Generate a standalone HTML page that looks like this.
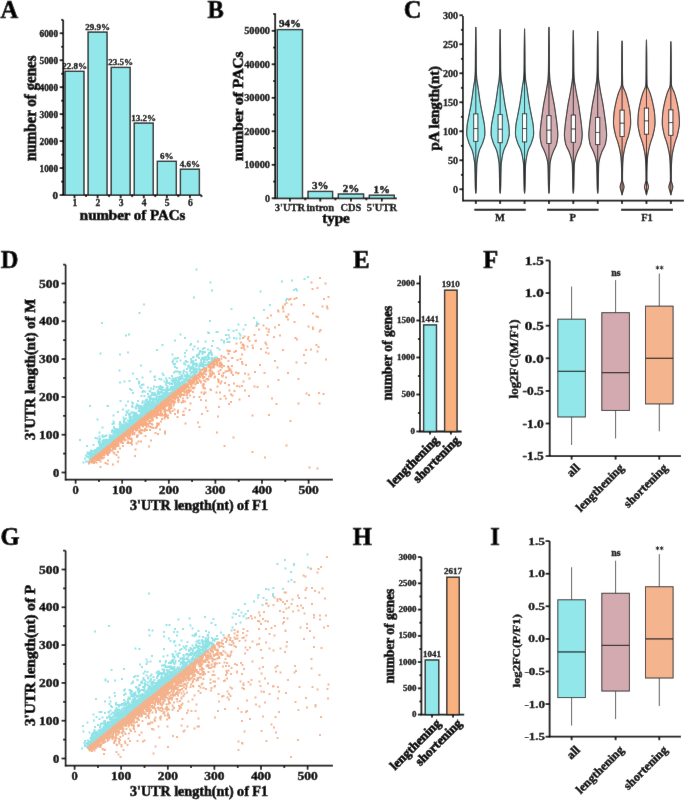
<!DOCTYPE html>
<html><head><meta charset="utf-8"><style>
html,body{margin:0;padding:0;background:#fff;width:685px;height:800px;overflow:hidden}
svg{display:block}
text{font-family:"Liberation Serif",serif;font-weight:bold;fill:#000;stroke:#000;stroke-width:0.65px}

</style></head><body>
<svg width="685" height="800" viewBox="0 0 685 800">
<defs><filter id="bl" x="0" y="0" width="100%" height="100%"><feConvolveMatrix order="3" kernelMatrix="0.005 0.045 0.005 0.045 0.8 0.045 0.005 0.045 0.005" edgeMode="duplicate"/></filter></defs>
<rect width="685" height="800" fill="#fff"/>
<g filter="url(#bl)">
<rect width="685" height="800" fill="#fff"/>
<text x="0.6" y="17.6" font-size="24.5" text-anchor="start">A</text>
<text x="207.5" y="17.6" font-size="24.5" text-anchor="start">B</text>
<text x="403.8" y="17.6" font-size="24.5" text-anchor="start">C</text>
<text x="0.8" y="267.6" font-size="24.5" text-anchor="start">D</text>
<text x="353.2" y="267.6" font-size="24.5" text-anchor="start">E</text>
<text x="483.2" y="267.6" font-size="24.5" text-anchor="start">F</text>
<text x="0.5" y="545.2" font-size="24.5" text-anchor="start">G</text>
<text x="352.8" y="545.4" font-size="24.5" text-anchor="start">H</text>
<text x="490.3" y="545.2" font-size="24.5" text-anchor="start">I</text>
<line x1="63.2" y1="19.8" x2="63.2" y2="195.7" stroke="#050505" stroke-width="1.8"/>
<line x1="62.6" y1="195.1" x2="201.5" y2="195.1" stroke="#050505" stroke-width="1.8"/>
<line x1="59.7" y1="195.1" x2="63.2" y2="195.1" stroke="#050505" stroke-width="1.8"/>
<text x="58" y="198.7" font-size="11" text-anchor="end" style="stroke-width:0.42px">0</text>
<line x1="61.2" y1="181.62" x2="63.2" y2="181.62" stroke="#050505" stroke-width="1.8"/>
<line x1="59.7" y1="168.13" x2="63.2" y2="168.13" stroke="#050505" stroke-width="1.8"/>
<text x="58" y="171.73" font-size="11" text-anchor="end" textLength="18.4" lengthAdjust="spacingAndGlyphs" style="stroke-width:0.42px">1000</text>
<line x1="61.2" y1="154.64" x2="63.2" y2="154.64" stroke="#050505" stroke-width="1.8"/>
<line x1="59.7" y1="141.16" x2="63.2" y2="141.16" stroke="#050505" stroke-width="1.8"/>
<text x="58" y="144.76" font-size="11" text-anchor="end" textLength="18.4" lengthAdjust="spacingAndGlyphs" style="stroke-width:0.42px">2000</text>
<line x1="61.2" y1="127.67" x2="63.2" y2="127.67" stroke="#050505" stroke-width="1.8"/>
<line x1="59.7" y1="114.19" x2="63.2" y2="114.19" stroke="#050505" stroke-width="1.8"/>
<text x="58" y="117.79" font-size="11" text-anchor="end" textLength="18.4" lengthAdjust="spacingAndGlyphs" style="stroke-width:0.42px">3000</text>
<line x1="61.2" y1="100.7" x2="63.2" y2="100.7" stroke="#050505" stroke-width="1.8"/>
<line x1="59.7" y1="87.22" x2="63.2" y2="87.22" stroke="#050505" stroke-width="1.8"/>
<text x="58" y="90.82" font-size="11" text-anchor="end" textLength="18.4" lengthAdjust="spacingAndGlyphs" style="stroke-width:0.42px">4000</text>
<line x1="61.2" y1="73.73" x2="63.2" y2="73.73" stroke="#050505" stroke-width="1.8"/>
<line x1="59.7" y1="60.25" x2="63.2" y2="60.25" stroke="#050505" stroke-width="1.8"/>
<text x="58" y="63.85" font-size="11" text-anchor="end" textLength="18.4" lengthAdjust="spacingAndGlyphs" style="stroke-width:0.42px">5000</text>
<line x1="61.2" y1="46.77" x2="63.2" y2="46.77" stroke="#050505" stroke-width="1.8"/>
<line x1="59.7" y1="33.28" x2="63.2" y2="33.28" stroke="#050505" stroke-width="1.8"/>
<text x="58" y="36.88" font-size="11" text-anchor="end" textLength="18.4" lengthAdjust="spacingAndGlyphs" style="stroke-width:0.42px">6000</text>
<line x1="61.2" y1="19.8" x2="63.2" y2="19.8" stroke="#050505" stroke-width="1.8"/>
<rect x="65" y="71.31" width="19" height="123.79" fill="#91e7e9" stroke="#222" stroke-width="1.4"/>
<text x="74.5" y="69.11" font-size="9" text-anchor="middle" style="stroke-width:0.3px">22.8%</text>
<line x1="74.5" y1="195.1" x2="74.5" y2="198.3" stroke="#050505" stroke-width="1.8"/>
<text x="74.9" y="206.4" font-size="9.6" text-anchor="middle" style="stroke-width:0.3px">1</text>
<line x1="86.05" y1="195.1" x2="86.05" y2="197.1" stroke="#050505" stroke-width="1.8"/>
<rect x="88.08" y="32.09" width="19" height="163.01" fill="#91e7e9" stroke="#222" stroke-width="1.4"/>
<text x="97.58" y="29.89" font-size="9" text-anchor="middle" style="stroke-width:0.3px">29.9%</text>
<line x1="97.58" y1="195.1" x2="97.58" y2="198.3" stroke="#050505" stroke-width="1.8"/>
<text x="97.98" y="206.4" font-size="9.6" text-anchor="middle" style="stroke-width:0.3px">2</text>
<line x1="109.13" y1="195.1" x2="109.13" y2="197.1" stroke="#050505" stroke-width="1.8"/>
<rect x="111.16" y="67.4" width="19" height="127.7" fill="#91e7e9" stroke="#222" stroke-width="1.4"/>
<text x="120.66" y="65.2" font-size="9" text-anchor="middle" style="stroke-width:0.3px">23.5%</text>
<line x1="120.66" y1="195.1" x2="120.66" y2="198.3" stroke="#050505" stroke-width="1.8"/>
<text x="121.06" y="206.4" font-size="9.6" text-anchor="middle" style="stroke-width:0.3px">3</text>
<line x1="132.21" y1="195.1" x2="132.21" y2="197.1" stroke="#050505" stroke-width="1.8"/>
<rect x="134.24" y="123.09" width="19" height="72.01" fill="#91e7e9" stroke="#222" stroke-width="1.4"/>
<text x="143.74" y="120.89" font-size="9" text-anchor="middle" style="stroke-width:0.3px">13.2%</text>
<line x1="143.74" y1="195.1" x2="143.74" y2="198.3" stroke="#050505" stroke-width="1.8"/>
<text x="144.14" y="206.4" font-size="9.6" text-anchor="middle" style="stroke-width:0.3px">4</text>
<line x1="155.29" y1="195.1" x2="155.29" y2="197.1" stroke="#050505" stroke-width="1.8"/>
<rect x="157.32" y="161.31" width="19" height="33.79" fill="#91e7e9" stroke="#222" stroke-width="1.4"/>
<text x="166.82" y="159.11" font-size="9" text-anchor="middle" style="stroke-width:0.3px">6%</text>
<line x1="166.82" y1="195.1" x2="166.82" y2="198.3" stroke="#050505" stroke-width="1.8"/>
<text x="167.22" y="206.4" font-size="9.6" text-anchor="middle" style="stroke-width:0.3px">5</text>
<line x1="178.37" y1="195.1" x2="178.37" y2="197.1" stroke="#050505" stroke-width="1.8"/>
<rect x="180.4" y="169.21" width="19" height="25.89" fill="#91e7e9" stroke="#222" stroke-width="1.4"/>
<text x="189.9" y="167.01" font-size="9" text-anchor="middle" style="stroke-width:0.3px">4.6%</text>
<line x1="189.9" y1="195.1" x2="189.9" y2="198.3" stroke="#050505" stroke-width="1.8"/>
<text x="190.3" y="206.4" font-size="9.6" text-anchor="middle" style="stroke-width:0.3px">6</text>
<line x1="201.45" y1="195.1" x2="201.45" y2="197.1" stroke="#050505" stroke-width="1.8"/>
<text x="132.6" y="219.7" font-size="14" text-anchor="middle" textLength="105.5" lengthAdjust="spacingAndGlyphs">number of PACs</text>
<text x="36.2" y="108.2" font-size="16.5" text-anchor="middle" textLength="105.6" lengthAdjust="spacingAndGlyphs" transform="rotate(-90 36.2 108.2)">number of genes</text>
<line x1="275.2" y1="13.3" x2="275.2" y2="198.9" stroke="#050505" stroke-width="1.8"/>
<line x1="274.6" y1="198.3" x2="396.8" y2="198.3" stroke="#050505" stroke-width="1.8"/>
<line x1="271.7" y1="198.3" x2="275.2" y2="198.3" stroke="#050505" stroke-width="1.8"/>
<text x="270" y="201.6" font-size="10" text-anchor="end" style="stroke-width:0.3px">0</text>
<line x1="273.2" y1="181.55" x2="275.2" y2="181.55" stroke="#050505" stroke-width="1.8"/>
<line x1="271.7" y1="164.8" x2="275.2" y2="164.8" stroke="#050505" stroke-width="1.8"/>
<text x="270" y="168.1" font-size="10" text-anchor="end" textLength="25.8" lengthAdjust="spacingAndGlyphs" style="stroke-width:0.3px">10000</text>
<line x1="273.2" y1="148.05" x2="275.2" y2="148.05" stroke="#050505" stroke-width="1.8"/>
<line x1="271.7" y1="131.3" x2="275.2" y2="131.3" stroke="#050505" stroke-width="1.8"/>
<text x="270" y="134.6" font-size="10" text-anchor="end" textLength="25.8" lengthAdjust="spacingAndGlyphs" style="stroke-width:0.3px">20000</text>
<line x1="273.2" y1="114.55" x2="275.2" y2="114.55" stroke="#050505" stroke-width="1.8"/>
<line x1="271.7" y1="97.8" x2="275.2" y2="97.8" stroke="#050505" stroke-width="1.8"/>
<text x="270" y="101.1" font-size="10" text-anchor="end" textLength="25.8" lengthAdjust="spacingAndGlyphs" style="stroke-width:0.3px">30000</text>
<line x1="273.2" y1="81.05" x2="275.2" y2="81.05" stroke="#050505" stroke-width="1.8"/>
<line x1="271.7" y1="64.3" x2="275.2" y2="64.3" stroke="#050505" stroke-width="1.8"/>
<text x="270" y="67.6" font-size="10" text-anchor="end" textLength="25.8" lengthAdjust="spacingAndGlyphs" style="stroke-width:0.3px">40000</text>
<line x1="273.2" y1="47.55" x2="275.2" y2="47.55" stroke="#050505" stroke-width="1.8"/>
<line x1="271.7" y1="30.8" x2="275.2" y2="30.8" stroke="#050505" stroke-width="1.8"/>
<text x="270" y="34.1" font-size="10" text-anchor="end" textLength="25.8" lengthAdjust="spacingAndGlyphs" style="stroke-width:0.3px">50000</text>
<line x1="273.2" y1="14.05" x2="275.2" y2="14.05" stroke="#050505" stroke-width="1.8"/>
<rect x="277.3" y="29.6" width="25.2" height="168.7" fill="#91e7e9" stroke="#222" stroke-width="1.4"/>
<line x1="289.9" y1="198.3" x2="289.9" y2="201.5" stroke="#050505" stroke-width="1.8"/>
<line x1="305.3" y1="198.3" x2="305.3" y2="200.3" stroke="#050505" stroke-width="1.8"/>
<text x="289.9" y="27.1" font-size="11" text-anchor="middle" style="stroke-width:0.42px">94%</text>
<text x="289.9" y="210.7" font-size="10.5" text-anchor="middle" style="stroke-width:0.3px">3'UTR</text>
<rect x="308" y="191.4" width="24.6" height="6.9" fill="#91e7e9" stroke="#222" stroke-width="1.4"/>
<line x1="320.3" y1="198.3" x2="320.3" y2="201.5" stroke="#050505" stroke-width="1.8"/>
<line x1="335.4" y1="198.3" x2="335.4" y2="200.3" stroke="#050505" stroke-width="1.8"/>
<text x="320.3" y="188.9" font-size="11" text-anchor="middle" style="stroke-width:0.42px">3%</text>
<text x="320.3" y="210.7" font-size="10.5" text-anchor="middle" style="stroke-width:0.3px">intron</text>
<rect x="338.3" y="194" width="25.3" height="4.3" fill="#91e7e9" stroke="#222" stroke-width="1.4"/>
<line x1="350.95" y1="198.3" x2="350.95" y2="201.5" stroke="#050505" stroke-width="1.8"/>
<line x1="366.4" y1="198.3" x2="366.4" y2="200.3" stroke="#050505" stroke-width="1.8"/>
<text x="350.95" y="191.5" font-size="11" text-anchor="middle" style="stroke-width:0.42px">2%</text>
<text x="350.95" y="210.7" font-size="10.5" text-anchor="middle" style="stroke-width:0.3px">CDS</text>
<rect x="369.3" y="195.2" width="25" height="3.1" fill="#91e7e9" stroke="#222" stroke-width="1.4"/>
<line x1="381.8" y1="198.3" x2="381.8" y2="201.5" stroke="#050505" stroke-width="1.8"/>
<text x="381.8" y="192.7" font-size="11" text-anchor="middle" style="stroke-width:0.42px">1%</text>
<text x="381.8" y="210.7" font-size="10.5" text-anchor="middle" style="stroke-width:0.3px">5'UTR</text>
<text x="336" y="222.5" font-size="15" text-anchor="middle">type</text>
<text x="242.7" y="106.2" font-size="14" text-anchor="middle" textLength="109.6" lengthAdjust="spacingAndGlyphs" transform="rotate(-90 242.7 106.2)">number of PACs</text>
<line x1="462.9" y1="16" x2="462.9" y2="201.3" stroke="#050505" stroke-width="1.8"/>
<line x1="462.3" y1="200.7" x2="684" y2="200.7" stroke="#050505" stroke-width="1.8"/>
<line x1="459.4" y1="189.3" x2="462.9" y2="189.3" stroke="#050505" stroke-width="1.8"/>
<text x="457.9" y="192.6" font-size="10" text-anchor="end" style="stroke-width:0.3px">0</text>
<line x1="460.9" y1="174.8" x2="462.9" y2="174.8" stroke="#050505" stroke-width="1.8"/>
<line x1="459.4" y1="160.3" x2="462.9" y2="160.3" stroke="#050505" stroke-width="1.8"/>
<text x="457.9" y="163.6" font-size="10" text-anchor="end" style="stroke-width:0.3px">50</text>
<line x1="460.9" y1="145.8" x2="462.9" y2="145.8" stroke="#050505" stroke-width="1.8"/>
<line x1="459.4" y1="131.3" x2="462.9" y2="131.3" stroke="#050505" stroke-width="1.8"/>
<text x="457.9" y="134.6" font-size="10" text-anchor="end" style="stroke-width:0.3px">100</text>
<line x1="460.9" y1="116.8" x2="462.9" y2="116.8" stroke="#050505" stroke-width="1.8"/>
<line x1="459.4" y1="102.3" x2="462.9" y2="102.3" stroke="#050505" stroke-width="1.8"/>
<text x="457.9" y="105.6" font-size="10" text-anchor="end" style="stroke-width:0.3px">150</text>
<line x1="460.9" y1="87.8" x2="462.9" y2="87.8" stroke="#050505" stroke-width="1.8"/>
<line x1="459.4" y1="73.3" x2="462.9" y2="73.3" stroke="#050505" stroke-width="1.8"/>
<text x="457.9" y="76.6" font-size="10" text-anchor="end" style="stroke-width:0.3px">200</text>
<line x1="460.9" y1="58.8" x2="462.9" y2="58.8" stroke="#050505" stroke-width="1.8"/>
<line x1="459.4" y1="44.3" x2="462.9" y2="44.3" stroke="#050505" stroke-width="1.8"/>
<text x="457.9" y="47.6" font-size="10" text-anchor="end" style="stroke-width:0.3px">250</text>
<line x1="460.9" y1="29.8" x2="462.9" y2="29.8" stroke="#050505" stroke-width="1.8"/>
<line x1="459.4" y1="15.3" x2="462.9" y2="15.3" stroke="#050505" stroke-width="1.8"/>
<text x="457.9" y="18.6" font-size="10" text-anchor="end" style="stroke-width:0.3px">300</text>
<text x="438.7" y="108.2" font-size="14.5" text-anchor="middle" textLength="84.5" lengthAdjust="spacingAndGlyphs" transform="rotate(-90 438.7 108.2)">pA length(nt)</text>
<path d="M475.8 193.36 L475.97 191.96 L476.11 190.56 L476.21 189.16 L476.26 187.76 L476.31 186.37 L476.34 184.97 L476.37 183.57 L476.4 182.17 L476.43 180.77 L476.46 179.37 L476.49 177.97 L476.51 176.57 L476.53 175.18 L476.56 173.78 L476.59 172.38 L476.62 170.98 L476.65 169.58 L476.69 168.18 L476.73 166.78 L476.78 165.38 L476.86 163.98 L477 162.59 L477.19 161.19 L477.41 159.79 L477.63 158.39 L477.87 156.99 L478.12 155.59 L478.41 154.19 L478.73 152.79 L479.1 151.4 L479.54 150 L480.11 148.6 L480.77 147.2 L481.46 145.8 L482.11 144.4 L482.68 143 L483.12 141.6 L483.56 140.2 L483.99 138.81 L484.37 137.41 L484.67 136.01 L484.86 134.61 L484.9 133.21 L484.87 131.81 L484.82 130.41 L484.75 129.01 L484.66 127.62 L484.57 126.22 L484.42 124.82 L484.21 123.42 L483.96 122.02 L483.68 120.62 L483.39 119.22 L483.11 117.82 L482.84 116.42 L482.58 115.03 L482.31 113.63 L482.04 112.23 L481.77 110.83 L481.49 109.43 L481.22 108.03 L480.96 106.63 L480.71 105.23 L480.47 103.84 L480.24 102.44 L480.02 101.04 L479.81 99.64 L479.6 98.24 L479.4 96.84 L479.2 95.44 L479 94.04 L478.8 92.64 L478.62 91.25 L478.43 89.85 L478.24 88.45 L478.04 87.05 L477.84 85.65 L477.6 84.25 L477.34 82.85 L477.1 81.45 L476.9 80.06 L476.76 78.66 L476.66 77.26 L476.56 75.86 L476.47 74.46 L476.4 73.06 L476.34 71.66 L476.31 70.26 L476.29 68.86 L476.27 67.47 L476.26 66.07 L476.24 64.67 L476.23 63.27 L476.22 61.87 L476.22 60.47 L476.21 59.07 L476.2 57.67 L476.19 56.28 L476.19 54.88 L476.18 53.48 L476.17 52.08 L476.16 50.68 L476.14 49.28 L476.13 47.88 L476.11 46.48 L476.09 45.08 L476.08 43.69 L476.06 42.29 L476.04 40.89 L476.02 39.49 L476 38.09 L475.97 36.69 L475.95 35.29 L475.93 33.89 L475.9 32.5 L475.88 31.1 L475.85 29.7 L475.83 28.3 L475.8 26.9 L475.8 26.9 L475.77 28.3 L475.75 29.7 L475.72 31.1 L475.7 32.5 L475.67 33.89 L475.65 35.29 L475.63 36.69 L475.6 38.09 L475.58 39.49 L475.56 40.89 L475.54 42.29 L475.52 43.69 L475.51 45.08 L475.49 46.48 L475.47 47.88 L475.46 49.28 L475.44 50.68 L475.43 52.08 L475.42 53.48 L475.41 54.88 L475.41 56.28 L475.4 57.67 L475.39 59.07 L475.38 60.47 L475.38 61.87 L475.37 63.27 L475.36 64.67 L475.34 66.07 L475.33 67.47 L475.31 68.86 L475.29 70.26 L475.26 71.66 L475.2 73.06 L475.13 74.46 L475.04 75.86 L474.94 77.26 L474.84 78.66 L474.7 80.06 L474.5 81.45 L474.26 82.85 L474 84.25 L473.76 85.65 L473.56 87.05 L473.36 88.45 L473.17 89.85 L472.98 91.25 L472.8 92.64 L472.6 94.04 L472.4 95.44 L472.2 96.84 L472 98.24 L471.79 99.64 L471.58 101.04 L471.36 102.44 L471.13 103.84 L470.89 105.23 L470.64 106.63 L470.38 108.03 L470.11 109.43 L469.83 110.83 L469.56 112.23 L469.29 113.63 L469.02 115.03 L468.76 116.42 L468.49 117.82 L468.21 119.22 L467.92 120.62 L467.64 122.02 L467.39 123.42 L467.18 124.82 L467.03 126.22 L466.94 127.62 L466.85 129.01 L466.78 130.41 L466.73 131.81 L466.7 133.21 L466.74 134.61 L466.93 136.01 L467.23 137.41 L467.61 138.81 L468.04 140.2 L468.48 141.6 L468.92 143 L469.49 144.4 L470.14 145.8 L470.83 147.2 L471.49 148.6 L472.06 150 L472.5 151.4 L472.87 152.79 L473.19 154.19 L473.48 155.59 L473.73 156.99 L473.97 158.39 L474.19 159.79 L474.41 161.19 L474.6 162.59 L474.74 163.98 L474.82 165.38 L474.87 166.78 L474.91 168.18 L474.95 169.58 L474.98 170.98 L475.01 172.38 L475.04 173.78 L475.07 175.18 L475.09 176.57 L475.11 177.97 L475.14 179.37 L475.17 180.77 L475.2 182.17 L475.23 183.57 L475.26 184.97 L475.29 186.37 L475.34 187.76 L475.39 189.16 L475.49 190.56 L475.63 191.96 L475.8 193.36Z" fill="#91e7e9" stroke="#1c2022" stroke-width="1.1"/>
<line x1="475.8" y1="26.9" x2="475.8" y2="193.36" stroke="#1c2022" stroke-width="0.9"/>
<rect x="473.7" y="113.9" width="4.2" height="27.49" fill="#ffffff" stroke="#1c2022" stroke-width="0.9"/>
<line x1="473.7" y1="128.57" x2="477.9" y2="128.57" stroke="#1c2022" stroke-width="0.9"/>
<line x1="475.8" y1="200.7" x2="475.8" y2="204" stroke="#050505" stroke-width="1.8"/>
<path d="M500.18 193.36 L500.35 191.98 L500.49 190.6 L500.58 189.22 L500.64 187.84 L500.68 186.46 L500.72 185.08 L500.75 183.7 L500.78 182.33 L500.81 180.95 L500.84 179.57 L500.86 178.19 L500.89 176.81 L500.91 175.43 L500.93 174.05 L500.96 172.67 L500.99 171.29 L501.02 169.91 L501.06 168.53 L501.09 167.15 L501.14 165.77 L501.21 164.39 L501.33 163.01 L501.51 161.64 L501.71 160.26 L501.93 158.88 L502.16 157.5 L502.4 156.12 L502.67 154.74 L502.98 153.36 L503.32 151.98 L503.71 150.6 L504.22 149.22 L504.84 147.84 L505.51 146.46 L506.18 145.08 L506.79 143.7 L507.28 142.32 L507.7 140.95 L508.14 139.57 L508.55 138.19 L508.89 136.81 L509.15 135.43 L509.27 134.05 L509.27 132.67 L509.24 131.29 L509.18 129.91 L509.1 128.53 L509.01 127.15 L508.91 125.77 L508.74 124.39 L508.52 123.01 L508.27 121.63 L507.99 120.26 L507.7 118.88 L507.42 117.5 L507.16 116.12 L506.91 114.74 L506.64 113.36 L506.37 111.98 L506.1 110.6 L505.83 109.22 L505.57 107.84 L505.31 106.46 L505.06 105.08 L504.82 103.7 L504.6 102.32 L504.39 100.95 L504.18 99.57 L503.97 98.19 L503.77 96.81 L503.58 95.43 L503.38 94.05 L503.19 92.67 L503 91.29 L502.82 89.91 L502.63 88.53 L502.44 87.15 L502.24 85.77 L502 84.39 L501.75 83.01 L501.51 81.63 L501.3 80.26 L501.16 78.88 L501.05 77.5 L500.95 76.12 L500.87 74.74 L500.79 73.36 L500.74 71.98 L500.69 70.6 L500.67 69.22 L500.65 67.84 L500.64 66.46 L500.63 65.08 L500.62 63.7 L500.61 62.32 L500.6 60.94 L500.59 59.57 L500.59 58.19 L500.58 56.81 L500.57 55.43 L500.56 54.05 L500.55 52.67 L500.54 51.29 L500.53 49.91 L500.51 48.53 L500.5 47.15 L500.48 45.77 L500.46 44.39 L500.44 43.01 L500.42 41.63 L500.39 40.25 L500.37 38.88 L500.35 37.5 L500.32 36.12 L500.29 34.74 L500.27 33.36 L500.24 31.98 L500.21 30.6 L500.18 29.22 L500.18 29.22 L500.15 30.6 L500.12 31.98 L500.09 33.36 L500.07 34.74 L500.04 36.12 L500.01 37.5 L499.99 38.88 L499.97 40.25 L499.94 41.63 L499.92 43.01 L499.9 44.39 L499.88 45.77 L499.86 47.15 L499.85 48.53 L499.83 49.91 L499.82 51.29 L499.81 52.67 L499.8 54.05 L499.79 55.43 L499.78 56.81 L499.77 58.19 L499.77 59.57 L499.76 60.94 L499.75 62.32 L499.74 63.7 L499.73 65.08 L499.72 66.46 L499.71 67.84 L499.69 69.22 L499.67 70.6 L499.62 71.98 L499.57 73.36 L499.49 74.74 L499.41 76.12 L499.31 77.5 L499.2 78.88 L499.06 80.26 L498.85 81.63 L498.61 83.01 L498.36 84.39 L498.12 85.77 L497.92 87.15 L497.73 88.53 L497.54 89.91 L497.36 91.29 L497.17 92.67 L496.98 94.05 L496.78 95.43 L496.59 96.81 L496.39 98.19 L496.18 99.57 L495.97 100.95 L495.76 102.32 L495.54 103.7 L495.3 105.08 L495.05 106.46 L494.79 107.84 L494.53 109.22 L494.26 110.6 L493.99 111.98 L493.72 113.36 L493.45 114.74 L493.2 116.12 L492.94 117.5 L492.66 118.88 L492.37 120.26 L492.09 121.63 L491.84 123.01 L491.62 124.39 L491.45 125.77 L491.35 127.15 L491.26 128.53 L491.18 129.91 L491.12 131.29 L491.09 132.67 L491.09 134.05 L491.21 135.43 L491.47 136.81 L491.81 138.19 L492.22 139.57 L492.66 140.95 L493.08 142.32 L493.57 143.7 L494.18 145.08 L494.85 146.46 L495.52 147.84 L496.14 149.22 L496.65 150.6 L497.04 151.98 L497.38 153.36 L497.69 154.74 L497.96 156.12 L498.2 157.5 L498.43 158.88 L498.65 160.26 L498.85 161.64 L499.03 163.01 L499.15 164.39 L499.22 165.77 L499.27 167.15 L499.3 168.53 L499.34 169.91 L499.37 171.29 L499.4 172.67 L499.43 174.05 L499.45 175.43 L499.47 176.81 L499.5 178.19 L499.52 179.57 L499.55 180.95 L499.58 182.33 L499.61 183.7 L499.64 185.08 L499.68 186.46 L499.72 187.84 L499.78 189.22 L499.87 190.6 L500.01 191.98 L500.18 193.36Z" fill="#91e7e9" stroke="#1c2022" stroke-width="1.1"/>
<line x1="500.18" y1="29.22" x2="500.18" y2="193.36" stroke="#1c2022" stroke-width="0.9"/>
<rect x="498.08" y="114.6" width="4.2" height="28.13" fill="#ffffff" stroke="#1c2022" stroke-width="0.9"/>
<line x1="498.08" y1="129.21" x2="502.28" y2="129.21" stroke="#1c2022" stroke-width="0.9"/>
<line x1="500.18" y1="200.7" x2="500.18" y2="204" stroke="#050505" stroke-width="1.8"/>
<path d="M524.56 193.36 L524.73 191.98 L524.87 190.59 L524.96 189.21 L525.02 187.82 L525.06 186.44 L525.1 185.05 L525.13 183.67 L525.16 182.29 L525.19 180.9 L525.22 179.52 L525.24 178.13 L525.27 176.75 L525.29 175.37 L525.32 173.98 L525.34 172.6 L525.38 171.21 L525.41 169.83 L525.44 168.44 L525.48 167.06 L525.53 165.68 L525.6 164.29 L525.73 162.91 L525.9 161.52 L526.11 160.14 L526.33 158.75 L526.56 157.37 L526.81 155.99 L527.08 154.6 L527.39 153.22 L527.74 151.83 L528.14 150.45 L528.67 149.07 L529.3 147.68 L529.98 146.3 L530.64 144.91 L531.24 143.53 L531.71 142.14 L532.14 140.76 L532.58 139.38 L532.98 137.99 L533.32 136.61 L533.55 135.22 L533.66 133.84 L533.65 132.46 L533.61 131.07 L533.54 129.69 L533.47 128.3 L533.38 126.92 L533.26 125.53 L533.08 124.15 L532.86 122.77 L532.6 121.38 L532.32 120 L532.03 118.61 L531.75 117.23 L531.49 115.84 L531.23 114.46 L530.97 113.08 L530.7 111.69 L530.42 110.31 L530.15 108.92 L529.89 107.54 L529.63 106.16 L529.38 104.77 L529.15 103.39 L528.93 102 L528.72 100.62 L528.51 99.23 L528.31 97.85 L528.11 96.47 L527.91 95.08 L527.71 93.7 L527.52 92.31 L527.33 90.93 L527.15 89.54 L526.96 88.16 L526.76 86.78 L526.56 85.39 L526.31 84.01 L526.06 82.62 L525.83 81.24 L525.63 79.86 L525.51 78.47 L525.4 77.09 L525.31 75.7 L525.22 74.32 L525.15 72.93 L525.1 71.55 L525.07 70.17 L525.05 68.78 L525.03 67.4 L525.02 66.01 L525 64.63 L524.99 63.25 L524.98 61.86 L524.98 60.48 L524.97 59.09 L524.96 57.71 L524.96 56.32 L524.95 54.94 L524.94 53.56 L524.93 52.17 L524.92 50.79 L524.9 49.4 L524.89 48.02 L524.87 46.63 L524.85 45.25 L524.83 43.87 L524.81 42.48 L524.79 41.1 L524.77 39.71 L524.75 38.33 L524.72 36.95 L524.7 35.56 L524.67 34.18 L524.64 32.79 L524.62 31.41 L524.59 30.02 L524.56 28.64 L524.56 28.64 L524.53 30.02 L524.5 31.41 L524.48 32.79 L524.45 34.18 L524.42 35.56 L524.4 36.95 L524.37 38.33 L524.35 39.71 L524.33 41.1 L524.31 42.48 L524.29 43.87 L524.27 45.25 L524.25 46.63 L524.23 48.02 L524.22 49.4 L524.2 50.79 L524.19 52.17 L524.18 53.56 L524.17 54.94 L524.16 56.32 L524.16 57.71 L524.15 59.09 L524.14 60.48 L524.14 61.86 L524.13 63.25 L524.12 64.63 L524.1 66.01 L524.09 67.4 L524.07 68.78 L524.05 70.17 L524.02 71.55 L523.97 72.93 L523.9 74.32 L523.81 75.7 L523.72 77.09 L523.61 78.47 L523.49 79.86 L523.29 81.24 L523.06 82.62 L522.81 84.01 L522.56 85.39 L522.36 86.78 L522.16 88.16 L521.97 89.54 L521.79 90.93 L521.6 92.31 L521.41 93.7 L521.21 95.08 L521.01 96.47 L520.81 97.85 L520.61 99.23 L520.4 100.62 L520.19 102 L519.97 103.39 L519.74 104.77 L519.49 106.16 L519.23 107.54 L518.97 108.92 L518.7 110.31 L518.42 111.69 L518.15 113.08 L517.89 114.46 L517.63 115.84 L517.37 117.23 L517.09 118.61 L516.8 120 L516.52 121.38 L516.26 122.77 L516.04 124.15 L515.86 125.53 L515.74 126.92 L515.65 128.3 L515.58 129.69 L515.51 131.07 L515.47 132.46 L515.46 133.84 L515.57 135.22 L515.8 136.61 L516.14 137.99 L516.54 139.38 L516.98 140.76 L517.41 142.14 L517.88 143.53 L518.48 144.91 L519.14 146.3 L519.82 147.68 L520.45 149.07 L520.98 150.45 L521.38 151.83 L521.73 153.22 L522.04 154.6 L522.31 155.99 L522.56 157.37 L522.79 158.75 L523.01 160.14 L523.22 161.52 L523.39 162.91 L523.52 164.29 L523.59 165.68 L523.64 167.06 L523.68 168.44 L523.71 169.83 L523.74 171.21 L523.78 172.6 L523.8 173.98 L523.83 175.37 L523.85 176.75 L523.88 178.13 L523.9 179.52 L523.93 180.9 L523.96 182.29 L523.99 183.67 L524.02 185.05 L524.06 186.44 L524.1 187.82 L524.16 189.21 L524.25 190.59 L524.39 191.98 L524.56 193.36Z" fill="#91e7e9" stroke="#1c2022" stroke-width="1.1"/>
<line x1="524.56" y1="28.64" x2="524.56" y2="193.36" stroke="#1c2022" stroke-width="0.9"/>
<rect x="522.46" y="113.78" width="4.2" height="28.13" fill="#ffffff" stroke="#1c2022" stroke-width="0.9"/>
<line x1="522.46" y1="128.57" x2="526.66" y2="128.57" stroke="#1c2022" stroke-width="0.9"/>
<line x1="524.56" y1="200.7" x2="524.56" y2="204" stroke="#050505" stroke-width="1.8"/>
<path d="M548.94 193.36 L549.11 191.96 L549.25 190.56 L549.35 189.16 L549.4 187.76 L549.45 186.37 L549.48 184.97 L549.51 183.57 L549.54 182.17 L549.57 180.77 L549.6 179.37 L549.63 177.97 L549.65 176.57 L549.67 175.18 L549.7 173.78 L549.73 172.38 L549.76 170.98 L549.79 169.58 L549.82 168.18 L549.86 166.78 L549.92 165.38 L550.01 163.98 L550.19 162.59 L550.43 161.19 L550.71 159.79 L551.01 158.39 L551.39 156.99 L551.83 155.59 L552.31 154.19 L552.82 152.79 L553.35 151.4 L553.98 150 L554.68 148.6 L555.38 147.2 L556.01 145.8 L556.51 144.4 L556.83 143 L557.1 141.6 L557.34 140.2 L557.55 138.81 L557.71 137.41 L557.81 136.01 L557.84 134.61 L557.8 133.21 L557.72 131.81 L557.61 130.41 L557.47 129.01 L557.33 127.62 L557.2 126.22 L557.06 124.82 L556.9 123.42 L556.73 122.02 L556.55 120.62 L556.36 119.22 L556.16 117.82 L555.96 116.42 L555.76 115.03 L555.56 113.63 L555.37 112.23 L555.17 110.83 L554.97 109.43 L554.77 108.03 L554.56 106.63 L554.34 105.23 L554.11 103.84 L553.85 102.44 L553.58 101.04 L553.3 99.64 L553.02 98.24 L552.74 96.84 L552.47 95.44 L552.21 94.04 L551.96 92.64 L551.71 91.25 L551.46 89.85 L551.23 88.45 L551 87.05 L550.77 85.65 L550.54 84.25 L550.31 82.85 L550.09 81.45 L549.92 80.06 L549.81 78.66 L549.72 77.26 L549.64 75.86 L549.58 74.46 L549.52 73.06 L549.48 71.66 L549.45 70.26 L549.43 68.86 L549.41 67.47 L549.4 66.07 L549.38 64.67 L549.37 63.27 L549.37 61.87 L549.36 60.47 L549.35 59.07 L549.34 57.67 L549.34 56.28 L549.33 54.88 L549.32 53.48 L549.31 52.08 L549.3 50.68 L549.28 49.28 L549.27 47.88 L549.25 46.48 L549.23 45.08 L549.22 43.69 L549.2 42.29 L549.18 40.89 L549.16 39.49 L549.14 38.09 L549.11 36.69 L549.09 35.29 L549.07 33.89 L549.04 32.5 L549.02 31.1 L548.99 29.7 L548.97 28.3 L548.94 26.9 L548.94 26.9 L548.91 28.3 L548.89 29.7 L548.86 31.1 L548.84 32.5 L548.81 33.89 L548.79 35.29 L548.77 36.69 L548.74 38.09 L548.72 39.49 L548.7 40.89 L548.68 42.29 L548.66 43.69 L548.65 45.08 L548.63 46.48 L548.61 47.88 L548.6 49.28 L548.58 50.68 L548.57 52.08 L548.56 53.48 L548.55 54.88 L548.54 56.28 L548.54 57.67 L548.53 59.07 L548.52 60.47 L548.51 61.87 L548.51 63.27 L548.5 64.67 L548.48 66.07 L548.47 67.47 L548.45 68.86 L548.43 70.26 L548.4 71.66 L548.36 73.06 L548.3 74.46 L548.24 75.86 L548.16 77.26 L548.07 78.66 L547.96 80.06 L547.79 81.45 L547.57 82.85 L547.34 84.25 L547.11 85.65 L546.88 87.05 L546.65 88.45 L546.42 89.85 L546.17 91.25 L545.92 92.64 L545.67 94.04 L545.41 95.44 L545.14 96.84 L544.86 98.24 L544.58 99.64 L544.3 101.04 L544.03 102.44 L543.77 103.84 L543.54 105.23 L543.32 106.63 L543.11 108.03 L542.91 109.43 L542.71 110.83 L542.51 112.23 L542.32 113.63 L542.12 115.03 L541.92 116.42 L541.72 117.82 L541.52 119.22 L541.33 120.62 L541.15 122.02 L540.98 123.42 L540.82 124.82 L540.68 126.22 L540.55 127.62 L540.41 129.01 L540.27 130.41 L540.16 131.81 L540.08 133.21 L540.04 134.61 L540.07 136.01 L540.17 137.41 L540.33 138.81 L540.54 140.2 L540.78 141.6 L541.05 143 L541.37 144.4 L541.87 145.8 L542.5 147.2 L543.2 148.6 L543.9 150 L544.53 151.4 L545.06 152.79 L545.57 154.19 L546.05 155.59 L546.49 156.99 L546.87 158.39 L547.17 159.79 L547.45 161.19 L547.69 162.59 L547.87 163.98 L547.96 165.38 L548.02 166.78 L548.06 168.18 L548.09 169.58 L548.12 170.98 L548.15 172.38 L548.18 173.78 L548.21 175.18 L548.23 176.57 L548.25 177.97 L548.28 179.37 L548.31 180.77 L548.34 182.17 L548.37 183.57 L548.4 184.97 L548.43 186.37 L548.48 187.76 L548.53 189.16 L548.63 190.56 L548.77 191.96 L548.94 193.36Z" fill="#d3aaaf" stroke="#1c2022" stroke-width="1.1"/>
<line x1="548.94" y1="26.9" x2="548.94" y2="193.36" stroke="#1c2022" stroke-width="0.9"/>
<rect x="546.84" y="115.64" width="4.2" height="27.84" fill="#ffffff" stroke="#1c2022" stroke-width="0.9"/>
<line x1="546.84" y1="130.14" x2="551.04" y2="130.14" stroke="#1c2022" stroke-width="0.9"/>
<line x1="548.94" y1="200.7" x2="548.94" y2="204" stroke="#050505" stroke-width="1.8"/>
<path d="M573.32 193.36 L573.49 191.99 L573.63 190.62 L573.72 189.25 L573.78 187.88 L573.82 186.51 L573.86 185.14 L573.89 183.77 L573.92 182.4 L573.95 181.03 L573.98 179.66 L574 178.29 L574.02 176.93 L574.05 175.56 L574.07 174.19 L574.1 172.82 L574.13 171.45 L574.16 170.08 L574.19 168.71 L574.23 167.34 L574.27 165.97 L574.34 164.6 L574.48 163.23 L574.69 161.86 L574.94 160.49 L575.22 159.12 L575.55 157.75 L575.95 156.38 L576.41 155.01 L576.89 153.64 L577.39 152.27 L577.94 150.9 L578.59 149.53 L579.28 148.16 L579.95 146.79 L580.54 145.42 L580.99 144.06 L581.27 142.69 L581.53 141.32 L581.76 139.95 L581.96 138.58 L582.11 137.21 L582.2 135.84 L582.22 134.47 L582.18 133.1 L582.1 131.73 L581.98 130.36 L581.85 128.99 L581.71 127.62 L581.58 126.25 L581.44 124.88 L581.29 123.51 L581.12 122.14 L580.95 120.77 L580.76 119.4 L580.57 118.03 L580.38 116.66 L580.18 115.29 L579.99 113.92 L579.79 112.55 L579.6 111.19 L579.41 109.82 L579.21 108.45 L579.01 107.08 L578.79 105.71 L578.57 104.34 L578.33 102.97 L578.07 101.6 L577.8 100.23 L577.53 98.86 L577.25 97.49 L576.98 96.12 L576.72 94.75 L576.47 93.38 L576.22 92.01 L575.98 90.64 L575.75 89.27 L575.52 87.9 L575.29 86.53 L575.08 85.16 L574.84 83.79 L574.62 82.42 L574.42 81.05 L574.27 79.68 L574.17 78.32 L574.08 76.95 L574.01 75.58 L573.95 74.21 L573.89 72.84 L573.85 71.47 L573.82 70.1 L573.81 68.73 L573.79 67.36 L573.78 65.99 L573.77 64.62 L573.76 63.25 L573.75 61.88 L573.74 60.51 L573.73 59.14 L573.73 57.77 L573.72 56.4 L573.71 55.03 L573.7 53.66 L573.69 52.29 L573.68 50.92 L573.66 49.55 L573.65 48.18 L573.63 46.81 L573.61 45.45 L573.59 44.08 L573.57 42.71 L573.54 41.34 L573.52 39.97 L573.49 38.6 L573.47 37.23 L573.44 35.86 L573.41 34.49 L573.38 33.12 L573.35 31.75 L573.32 30.38 L573.32 30.38 L573.29 31.75 L573.26 33.12 L573.23 34.49 L573.2 35.86 L573.17 37.23 L573.15 38.6 L573.12 39.97 L573.1 41.34 L573.07 42.71 L573.05 44.08 L573.03 45.45 L573.01 46.81 L572.99 48.18 L572.98 49.55 L572.96 50.92 L572.95 52.29 L572.94 53.66 L572.93 55.03 L572.92 56.4 L572.91 57.77 L572.91 59.14 L572.9 60.51 L572.89 61.88 L572.88 63.25 L572.87 64.62 L572.86 65.99 L572.85 67.36 L572.83 68.73 L572.82 70.1 L572.79 71.47 L572.75 72.84 L572.69 74.21 L572.63 75.58 L572.56 76.95 L572.47 78.32 L572.37 79.68 L572.22 81.05 L572.02 82.42 L571.8 83.79 L571.56 85.16 L571.35 86.53 L571.12 87.9 L570.89 89.27 L570.66 90.64 L570.42 92.01 L570.17 93.38 L569.92 94.75 L569.66 96.12 L569.39 97.49 L569.11 98.86 L568.84 100.23 L568.57 101.6 L568.31 102.97 L568.07 104.34 L567.85 105.71 L567.63 107.08 L567.43 108.45 L567.23 109.82 L567.04 111.19 L566.85 112.55 L566.65 113.92 L566.46 115.29 L566.26 116.66 L566.07 118.03 L565.88 119.4 L565.69 120.77 L565.52 122.14 L565.35 123.51 L565.2 124.88 L565.06 126.25 L564.93 127.62 L564.79 128.99 L564.66 130.36 L564.54 131.73 L564.46 133.1 L564.42 134.47 L564.44 135.84 L564.53 137.21 L564.68 138.58 L564.88 139.95 L565.11 141.32 L565.37 142.69 L565.65 144.06 L566.1 145.42 L566.69 146.79 L567.36 148.16 L568.05 149.53 L568.7 150.9 L569.25 152.27 L569.75 153.64 L570.23 155.01 L570.69 156.38 L571.09 157.75 L571.42 159.12 L571.7 160.49 L571.95 161.86 L572.16 163.23 L572.3 164.6 L572.37 165.97 L572.41 167.34 L572.45 168.71 L572.48 170.08 L572.51 171.45 L572.54 172.82 L572.57 174.19 L572.59 175.56 L572.62 176.93 L572.64 178.29 L572.66 179.66 L572.69 181.03 L572.72 182.4 L572.75 183.77 L572.78 185.14 L572.82 186.51 L572.86 187.88 L572.92 189.25 L573.01 190.62 L573.15 191.99 L573.32 193.36Z" fill="#d3aaaf" stroke="#1c2022" stroke-width="1.1"/>
<line x1="573.32" y1="30.38" x2="573.32" y2="193.36" stroke="#1c2022" stroke-width="0.9"/>
<rect x="571.22" y="115.06" width="4.2" height="27.26" fill="#ffffff" stroke="#1c2022" stroke-width="0.9"/>
<line x1="571.22" y1="128.98" x2="575.42" y2="128.98" stroke="#1c2022" stroke-width="0.9"/>
<line x1="573.32" y1="200.7" x2="573.32" y2="204" stroke="#050505" stroke-width="1.8"/>
<path d="M597.7 193.36 L597.87 192 L598.01 190.63 L598.1 189.27 L598.16 187.9 L598.2 186.54 L598.24 185.17 L598.27 183.81 L598.3 182.44 L598.33 181.08 L598.35 179.71 L598.38 178.35 L598.4 176.98 L598.43 175.62 L598.45 174.25 L598.48 172.89 L598.51 171.52 L598.54 170.16 L598.57 168.8 L598.6 167.43 L598.65 166.07 L598.71 164.7 L598.84 163.34 L599.05 161.97 L599.3 160.61 L599.58 159.24 L599.9 157.88 L600.29 156.51 L600.74 155.15 L601.22 153.78 L601.71 152.42 L602.25 151.05 L602.89 149.69 L603.58 148.32 L604.25 146.96 L604.85 145.6 L605.32 144.23 L605.62 142.87 L605.88 141.5 L606.11 140.14 L606.31 138.77 L606.47 137.41 L606.57 136.04 L606.6 134.68 L606.57 133.31 L606.49 131.95 L606.38 130.58 L606.25 129.22 L606.11 127.85 L605.98 126.49 L605.85 125.12 L605.7 123.76 L605.53 122.4 L605.36 121.03 L605.18 119.67 L604.99 118.3 L604.8 116.94 L604.6 115.57 L604.41 114.21 L604.21 112.84 L604.02 111.48 L603.83 110.11 L603.63 108.75 L603.43 107.38 L603.22 106.02 L603 104.65 L602.77 103.29 L602.52 101.92 L602.25 100.56 L601.97 99.2 L601.7 97.83 L601.42 96.47 L601.16 95.1 L600.91 93.74 L600.67 92.37 L600.43 91.01 L600.19 89.64 L599.96 88.28 L599.74 86.91 L599.52 85.55 L599.29 84.18 L599.06 82.82 L598.85 81.45 L598.69 80.09 L598.57 78.72 L598.49 77.36 L598.41 76 L598.35 74.63 L598.29 73.27 L598.24 71.9 L598.21 70.54 L598.19 69.17 L598.17 67.81 L598.16 66.44 L598.15 65.08 L598.14 63.71 L598.13 62.35 L598.12 60.98 L598.11 59.62 L598.11 58.25 L598.1 56.89 L598.09 55.52 L598.08 54.16 L598.07 52.8 L598.06 51.43 L598.05 50.07 L598.03 48.7 L598.02 47.34 L598 45.97 L597.98 44.61 L597.95 43.24 L597.93 41.88 L597.91 40.51 L597.88 39.15 L597.85 37.78 L597.82 36.42 L597.79 35.05 L597.76 33.69 L597.73 32.32 L597.7 30.96 L597.7 30.96 L597.67 32.32 L597.64 33.69 L597.61 35.05 L597.58 36.42 L597.55 37.78 L597.52 39.15 L597.49 40.51 L597.47 41.88 L597.45 43.24 L597.42 44.61 L597.4 45.97 L597.38 47.34 L597.37 48.7 L597.35 50.07 L597.34 51.43 L597.33 52.8 L597.32 54.16 L597.31 55.52 L597.3 56.89 L597.29 58.25 L597.29 59.62 L597.28 60.98 L597.27 62.35 L597.26 63.71 L597.25 65.08 L597.24 66.44 L597.23 67.81 L597.21 69.17 L597.19 70.54 L597.16 71.9 L597.11 73.27 L597.05 74.63 L596.99 76 L596.91 77.36 L596.83 78.72 L596.71 80.09 L596.55 81.45 L596.34 82.82 L596.11 84.18 L595.88 85.55 L595.66 86.91 L595.44 88.28 L595.21 89.64 L594.97 91.01 L594.73 92.37 L594.49 93.74 L594.24 95.1 L593.98 96.47 L593.7 97.83 L593.43 99.2 L593.15 100.56 L592.88 101.92 L592.63 103.29 L592.4 104.65 L592.18 106.02 L591.97 107.38 L591.77 108.75 L591.57 110.11 L591.38 111.48 L591.19 112.84 L590.99 114.21 L590.8 115.57 L590.6 116.94 L590.41 118.3 L590.22 119.67 L590.04 121.03 L589.87 122.4 L589.7 123.76 L589.55 125.12 L589.42 126.49 L589.29 127.85 L589.15 129.22 L589.02 130.58 L588.91 131.95 L588.83 133.31 L588.8 134.68 L588.83 136.04 L588.93 137.41 L589.09 138.77 L589.29 140.14 L589.52 141.5 L589.78 142.87 L590.08 144.23 L590.55 145.6 L591.15 146.96 L591.82 148.32 L592.51 149.69 L593.15 151.05 L593.69 152.42 L594.18 153.78 L594.66 155.15 L595.11 156.51 L595.5 157.88 L595.82 159.24 L596.1 160.61 L596.35 161.97 L596.56 163.34 L596.69 164.7 L596.75 166.07 L596.8 167.43 L596.83 168.8 L596.86 170.16 L596.89 171.52 L596.92 172.89 L596.95 174.25 L596.97 175.62 L597 176.98 L597.02 178.35 L597.05 179.71 L597.07 181.08 L597.1 182.44 L597.13 183.81 L597.16 185.17 L597.2 186.54 L597.24 187.9 L597.3 189.27 L597.39 190.63 L597.53 192 L597.7 193.36Z" fill="#d3aaaf" stroke="#1c2022" stroke-width="1.1"/>
<line x1="597.7" y1="30.96" x2="597.7" y2="193.36" stroke="#1c2022" stroke-width="0.9"/>
<rect x="595.6" y="117.38" width="4.2" height="27.26" fill="#ffffff" stroke="#1c2022" stroke-width="0.9"/>
<line x1="595.6" y1="132.46" x2="599.8" y2="132.46" stroke="#1c2022" stroke-width="0.9"/>
<line x1="597.7" y1="200.7" x2="597.7" y2="204" stroke="#050505" stroke-width="1.8"/>
<path d="M622.08 195.1 L622.35 193.8 L622.65 192.51 L623 191.21 L623.41 189.91 L623.77 188.62 L624.06 187.32 L623.98 186.02 L623.65 184.73 L623.29 183.43 L622.83 182.14 L622.54 180.84 L622.53 179.54 L622.53 178.25 L622.53 176.95 L622.53 175.65 L622.54 174.36 L622.55 173.06 L622.57 171.76 L622.6 170.47 L622.62 169.17 L622.65 167.87 L622.68 166.58 L622.72 165.28 L622.77 163.98 L622.83 162.69 L622.9 161.39 L622.98 160.1 L623.07 158.8 L623.17 157.5 L623.3 156.21 L623.48 154.91 L623.69 153.61 L623.92 152.32 L624.17 151.02 L624.42 149.72 L624.7 148.43 L625.01 147.13 L625.33 145.83 L625.67 144.54 L626.02 143.24 L626.39 141.94 L626.8 140.65 L627.25 139.35 L627.72 138.06 L628.17 136.76 L628.57 135.46 L628.89 134.17 L629.17 132.87 L629.45 131.57 L629.73 130.28 L629.98 128.98 L630.21 127.68 L630.41 126.39 L630.56 125.09 L630.65 123.79 L630.68 122.5 L630.66 121.2 L630.62 119.9 L630.56 118.61 L630.48 117.31 L630.39 116.02 L630.3 114.72 L630.19 113.42 L630.04 112.13 L629.87 110.83 L629.66 109.53 L629.43 108.24 L629.18 106.94 L628.92 105.64 L628.64 104.35 L628.37 103.05 L628.09 101.75 L627.79 100.46 L627.47 99.16 L627.13 97.86 L626.76 96.57 L626.38 95.27 L625.99 93.98 L625.57 92.68 L625.04 91.38 L624.47 90.09 L623.9 88.79 L623.38 87.49 L622.97 86.2 L622.72 84.9 L622.66 83.6 L622.62 82.31 L622.59 81.01 L622.56 79.71 L622.54 78.42 L622.52 77.12 L622.5 75.82 L622.49 74.53 L622.48 73.23 L622.47 71.94 L622.46 70.64 L622.45 69.34 L622.44 68.05 L622.44 66.75 L622.43 65.45 L622.43 64.16 L622.42 62.86 L622.42 61.56 L622.41 60.27 L622.4 58.97 L622.39 57.67 L622.38 56.38 L622.37 55.08 L622.36 53.78 L622.34 52.49 L622.32 51.19 L622.29 49.9 L622.27 48.6 L622.24 47.3 L622.21 46.01 L622.18 44.71 L622.15 43.41 L622.11 42.12 L622.08 40.82 L622.08 40.82 L622.05 42.12 L622.01 43.41 L621.98 44.71 L621.95 46.01 L621.92 47.3 L621.89 48.6 L621.87 49.9 L621.84 51.19 L621.82 52.49 L621.8 53.78 L621.79 55.08 L621.78 56.38 L621.77 57.67 L621.76 58.97 L621.75 60.27 L621.74 61.56 L621.74 62.86 L621.73 64.16 L621.73 65.45 L621.72 66.75 L621.72 68.05 L621.71 69.34 L621.7 70.64 L621.69 71.94 L621.68 73.23 L621.67 74.53 L621.66 75.82 L621.64 77.12 L621.62 78.42 L621.6 79.71 L621.57 81.01 L621.54 82.31 L621.5 83.6 L621.44 84.9 L621.19 86.2 L620.78 87.49 L620.26 88.79 L619.69 90.09 L619.12 91.38 L618.59 92.68 L618.17 93.98 L617.78 95.27 L617.4 96.57 L617.03 97.86 L616.69 99.16 L616.37 100.46 L616.07 101.75 L615.79 103.05 L615.52 104.35 L615.24 105.64 L614.98 106.94 L614.73 108.24 L614.5 109.53 L614.29 110.83 L614.12 112.13 L613.97 113.42 L613.86 114.72 L613.77 116.02 L613.68 117.31 L613.6 118.61 L613.54 119.9 L613.5 121.2 L613.48 122.5 L613.51 123.79 L613.6 125.09 L613.75 126.39 L613.95 127.68 L614.18 128.98 L614.43 130.28 L614.71 131.57 L614.99 132.87 L615.27 134.17 L615.59 135.46 L615.99 136.76 L616.44 138.06 L616.91 139.35 L617.36 140.65 L617.77 141.94 L618.14 143.24 L618.49 144.54 L618.83 145.83 L619.15 147.13 L619.46 148.43 L619.74 149.72 L619.99 151.02 L620.24 152.32 L620.47 153.61 L620.68 154.91 L620.86 156.21 L620.99 157.5 L621.09 158.8 L621.18 160.1 L621.26 161.39 L621.33 162.69 L621.39 163.98 L621.44 165.28 L621.48 166.58 L621.51 167.87 L621.54 169.17 L621.56 170.47 L621.59 171.76 L621.61 173.06 L621.62 174.36 L621.63 175.65 L621.63 176.95 L621.63 178.25 L621.63 179.54 L621.62 180.84 L621.33 182.14 L620.87 183.43 L620.51 184.73 L620.18 186.02 L620.1 187.32 L620.39 188.62 L620.75 189.91 L621.16 191.21 L621.51 192.51 L621.81 193.8 L622.08 195.1Z" fill="#f6ae97" stroke="#1c2022" stroke-width="1.1"/>
<line x1="622.08" y1="40.82" x2="622.08" y2="195.1" stroke="#1c2022" stroke-width="0.9"/>
<rect x="619.98" y="110.13" width="4.2" height="26.39" fill="#ffffff" stroke="#1c2022" stroke-width="0.9"/>
<line x1="619.98" y1="123.18" x2="624.18" y2="123.18" stroke="#1c2022" stroke-width="0.9"/>
<line x1="622.08" y1="200.7" x2="622.08" y2="204" stroke="#050505" stroke-width="1.8"/>
<path d="M646.46 195.1 L646.73 193.79 L647.04 192.49 L647.38 191.18 L647.8 189.88 L648.16 188.57 L648.45 187.26 L648.34 185.96 L648.01 184.65 L647.64 183.34 L647.18 182.04 L646.91 180.73 L646.91 179.43 L646.91 178.12 L646.91 176.81 L646.91 175.51 L646.92 174.2 L646.94 172.89 L646.96 171.59 L646.98 170.28 L647.01 168.98 L647.04 167.67 L647.07 166.36 L647.11 165.06 L647.16 163.75 L647.22 162.44 L647.29 161.14 L647.38 159.83 L647.47 158.53 L647.58 157.22 L647.72 155.91 L647.9 154.61 L648.12 153.3 L648.36 151.99 L648.61 150.69 L648.87 149.38 L649.16 148.08 L649.47 146.77 L649.81 145.46 L650.15 144.16 L650.51 142.85 L650.89 141.55 L651.32 140.24 L651.78 138.93 L652.25 137.63 L652.69 136.32 L653.07 135.01 L653.37 133.71 L653.65 132.4 L653.93 131.1 L654.2 129.79 L654.45 128.48 L654.67 127.18 L654.85 125.87 L654.98 124.56 L655.05 123.26 L655.06 121.95 L655.03 120.65 L654.98 119.34 L654.91 118.03 L654.82 116.73 L654.73 115.42 L654.63 114.11 L654.5 112.81 L654.34 111.5 L654.15 110.2 L653.93 108.89 L653.69 107.58 L653.43 106.28 L653.16 104.97 L652.88 103.66 L652.6 102.36 L652.31 101.05 L652 99.75 L651.66 98.44 L651.3 97.13 L650.93 95.83 L650.54 94.52 L650.14 93.21 L649.65 91.91 L649.08 90.6 L648.5 89.3 L647.95 87.99 L647.49 86.68 L647.17 85.38 L647.05 84.07 L647.01 82.77 L646.98 81.46 L646.95 80.15 L646.92 78.85 L646.91 77.54 L646.89 76.23 L646.88 74.93 L646.86 73.62 L646.85 72.32 L646.84 71.01 L646.83 69.7 L646.83 68.4 L646.82 67.09 L646.81 65.78 L646.81 64.48 L646.8 63.17 L646.8 61.87 L646.79 60.56 L646.78 59.25 L646.78 57.95 L646.77 56.64 L646.75 55.33 L646.74 54.03 L646.72 52.72 L646.71 51.42 L646.68 50.11 L646.66 48.8 L646.64 47.5 L646.61 46.19 L646.58 44.88 L646.55 43.58 L646.52 42.27 L646.49 40.97 L646.46 39.66 L646.46 39.66 L646.43 40.97 L646.4 42.27 L646.37 43.58 L646.34 44.88 L646.31 46.19 L646.28 47.5 L646.26 48.8 L646.24 50.11 L646.21 51.42 L646.2 52.72 L646.18 54.03 L646.17 55.33 L646.15 56.64 L646.14 57.95 L646.14 59.25 L646.13 60.56 L646.12 61.87 L646.12 63.17 L646.11 64.48 L646.11 65.78 L646.1 67.09 L646.09 68.4 L646.09 69.7 L646.08 71.01 L646.07 72.32 L646.06 73.62 L646.04 74.93 L646.03 76.23 L646.01 77.54 L646 78.85 L645.97 80.15 L645.94 81.46 L645.91 82.77 L645.87 84.07 L645.75 85.38 L645.43 86.68 L644.97 87.99 L644.42 89.3 L643.84 90.6 L643.27 91.91 L642.78 93.21 L642.38 94.52 L641.99 95.83 L641.62 97.13 L641.26 98.44 L640.92 99.75 L640.61 101.05 L640.32 102.36 L640.04 103.66 L639.76 104.97 L639.49 106.28 L639.23 107.58 L638.99 108.89 L638.77 110.2 L638.58 111.5 L638.42 112.81 L638.29 114.11 L638.19 115.42 L638.1 116.73 L638.01 118.03 L637.94 119.34 L637.89 120.65 L637.86 121.95 L637.87 123.26 L637.94 124.56 L638.07 125.87 L638.25 127.18 L638.47 128.48 L638.72 129.79 L638.99 131.1 L639.27 132.4 L639.55 133.71 L639.85 135.01 L640.23 136.32 L640.67 137.63 L641.14 138.93 L641.6 140.24 L642.03 141.55 L642.41 142.85 L642.77 144.16 L643.11 145.46 L643.45 146.77 L643.76 148.08 L644.05 149.38 L644.31 150.69 L644.56 151.99 L644.8 153.3 L645.02 154.61 L645.2 155.91 L645.34 157.22 L645.45 158.53 L645.54 159.83 L645.63 161.14 L645.7 162.44 L645.76 163.75 L645.81 165.06 L645.85 166.36 L645.88 167.67 L645.91 168.98 L645.94 170.28 L645.96 171.59 L645.98 172.89 L646 174.2 L646.01 175.51 L646.01 176.81 L646.01 178.12 L646.01 179.43 L646.01 180.73 L645.74 182.04 L645.28 183.34 L644.91 184.65 L644.58 185.96 L644.47 187.26 L644.76 188.57 L645.12 189.88 L645.54 191.18 L645.88 192.49 L646.19 193.79 L646.46 195.1Z" fill="#f6ae97" stroke="#1c2022" stroke-width="1.1"/>
<line x1="646.46" y1="39.66" x2="646.46" y2="195.1" stroke="#1c2022" stroke-width="0.9"/>
<rect x="644.36" y="108.1" width="4.2" height="26.1" fill="#ffffff" stroke="#1c2022" stroke-width="0.9"/>
<line x1="644.36" y1="120.86" x2="648.56" y2="120.86" stroke="#1c2022" stroke-width="0.9"/>
<line x1="646.46" y1="200.7" x2="646.46" y2="204" stroke="#050505" stroke-width="1.8"/>
<path d="M670.84 195.1 L671.1 193.81 L671.41 192.52 L671.75 191.23 L672.16 189.93 L672.52 188.64 L672.82 187.35 L672.74 186.06 L672.42 184.77 L672.07 183.48 L671.61 182.18 L671.3 180.89 L671.29 179.6 L671.29 178.31 L671.29 177.02 L671.29 175.73 L671.3 174.43 L671.31 173.14 L671.33 171.85 L671.35 170.56 L671.38 169.27 L671.41 167.98 L671.44 166.68 L671.48 165.39 L671.52 164.1 L671.58 162.81 L671.65 161.52 L671.73 160.23 L671.82 158.94 L671.92 157.64 L672.04 156.35 L672.21 155.06 L672.42 153.77 L672.65 152.48 L672.9 151.19 L673.15 149.89 L673.42 148.6 L673.72 147.31 L674.04 146.02 L674.38 144.73 L674.73 143.44 L675.09 142.14 L675.49 140.85 L675.94 139.56 L676.4 138.27 L676.85 136.98 L677.26 135.69 L677.6 134.39 L677.88 133.1 L678.16 131.81 L678.43 130.52 L678.69 129.23 L678.93 127.94 L679.13 126.65 L679.29 125.35 L679.4 124.06 L679.44 122.77 L679.43 121.48 L679.39 120.19 L679.33 118.9 L679.26 117.6 L679.17 116.31 L679.08 115.02 L678.98 113.73 L678.84 112.44 L678.67 111.15 L678.47 109.85 L678.25 108.56 L678.01 107.27 L677.75 105.98 L677.48 104.69 L677.2 103.4 L676.92 102.11 L676.64 100.81 L676.32 99.52 L675.99 98.23 L675.63 96.94 L675.25 95.65 L674.87 94.36 L674.47 93.06 L673.97 91.77 L673.41 90.48 L672.83 89.19 L672.29 87.9 L671.84 86.61 L671.54 85.31 L671.43 84.02 L671.39 82.73 L671.36 81.44 L671.33 80.15 L671.3 78.86 L671.29 77.56 L671.27 76.27 L671.26 74.98 L671.24 73.69 L671.23 72.4 L671.22 71.11 L671.21 69.82 L671.21 68.52 L671.2 67.23 L671.2 65.94 L671.19 64.65 L671.19 63.36 L671.18 62.07 L671.17 60.77 L671.17 59.48 L671.16 58.19 L671.15 56.9 L671.14 55.61 L671.12 54.32 L671.1 53.02 L671.08 51.73 L671.06 50.44 L671.03 49.15 L671.01 47.86 L670.98 46.57 L670.94 45.27 L670.91 43.98 L670.88 42.69 L670.84 41.4 L670.84 41.4 L670.8 42.69 L670.77 43.98 L670.74 45.27 L670.7 46.57 L670.67 47.86 L670.65 49.15 L670.62 50.44 L670.6 51.73 L670.58 53.02 L670.56 54.32 L670.54 55.61 L670.53 56.9 L670.52 58.19 L670.51 59.48 L670.51 60.77 L670.5 62.07 L670.49 63.36 L670.49 64.65 L670.48 65.94 L670.48 67.23 L670.47 68.52 L670.47 69.82 L670.46 71.11 L670.45 72.4 L670.44 73.69 L670.42 74.98 L670.41 76.27 L670.39 77.56 L670.38 78.86 L670.35 80.15 L670.32 81.44 L670.29 82.73 L670.25 84.02 L670.14 85.31 L669.84 86.61 L669.39 87.9 L668.85 89.19 L668.27 90.48 L667.71 91.77 L667.21 93.06 L666.81 94.36 L666.43 95.65 L666.05 96.94 L665.69 98.23 L665.36 99.52 L665.04 100.81 L664.76 102.11 L664.48 103.4 L664.2 104.69 L663.93 105.98 L663.67 107.27 L663.43 108.56 L663.21 109.85 L663.01 111.15 L662.84 112.44 L662.7 113.73 L662.6 115.02 L662.51 116.31 L662.42 117.6 L662.35 118.9 L662.29 120.19 L662.25 121.48 L662.24 122.77 L662.28 124.06 L662.39 125.35 L662.55 126.65 L662.75 127.94 L662.99 129.23 L663.25 130.52 L663.52 131.81 L663.8 133.1 L664.08 134.39 L664.42 135.69 L664.83 136.98 L665.28 138.27 L665.74 139.56 L666.19 140.85 L666.59 142.14 L666.95 143.44 L667.3 144.73 L667.64 146.02 L667.96 147.31 L668.26 148.6 L668.53 149.89 L668.78 151.19 L669.03 152.48 L669.26 153.77 L669.47 155.06 L669.64 156.35 L669.76 157.64 L669.86 158.94 L669.95 160.23 L670.03 161.52 L670.1 162.81 L670.16 164.1 L670.2 165.39 L670.24 166.68 L670.27 167.98 L670.3 169.27 L670.33 170.56 L670.35 171.85 L670.37 173.14 L670.38 174.43 L670.39 175.73 L670.39 177.02 L670.39 178.31 L670.39 179.6 L670.38 180.89 L670.07 182.18 L669.61 183.48 L669.26 184.77 L668.94 186.06 L668.86 187.35 L669.16 188.64 L669.52 189.93 L669.93 191.23 L670.27 192.52 L670.58 193.81 L670.84 195.1Z" fill="#f6ae97" stroke="#1c2022" stroke-width="1.1"/>
<line x1="670.84" y1="41.4" x2="670.84" y2="195.1" stroke="#1c2022" stroke-width="0.9"/>
<rect x="668.74" y="109.84" width="4.2" height="25.52" fill="#ffffff" stroke="#1c2022" stroke-width="0.9"/>
<line x1="668.74" y1="122.6" x2="672.94" y2="122.6" stroke="#1c2022" stroke-width="0.9"/>
<line x1="670.84" y1="200.7" x2="670.84" y2="204" stroke="#050505" stroke-width="1.8"/>
<line x1="474.3" y1="209.8" x2="525.8" y2="209.8" stroke="#111" stroke-width="1.9"/>
<text x="500.05" y="220.8" font-size="10.5" text-anchor="middle" style="stroke-width:0.3px">M</text>
<line x1="547" y1="209.8" x2="598.6" y2="209.8" stroke="#111" stroke-width="1.9"/>
<text x="572.8" y="220.8" font-size="10.5" text-anchor="middle" style="stroke-width:0.3px">P</text>
<line x1="621" y1="209.8" x2="673" y2="209.8" stroke="#111" stroke-width="1.9"/>
<text x="647" y="220.8" font-size="10.5" text-anchor="middle" style="stroke-width:0.3px">F1</text>
<path transform="scale(0.5)" d="M160 880h0M167 925h0M170 917h0M172 911h0M172 923h0M174 892h0M174 913h0M175 905h0M176 908h0M176 923h0M177 914h0M179 906h0M179 909h0M179 912h0M179 917h0M180 812h0M180 905h0M180 911h0M180 917h0M180 918h0M180 920h0M181 906h0M181 909h0M181 911h0M181 918h0M181 919h0M181 920h0M182 901h0M182 902h0M182 908h0M182 911h0M182 913h0M182 916h0M182 919h0M183 906h0M183 908h0M183 910h0M183 914h0M183 915h0M183 917h0M183 919h0M184 909h0M184 911h0M184 912h0M184 913h0M184 914h0M184 915h0M184 917h0M184 918h0M185 902h0M185 907h0M185 909h0M185 910h0M185 912h0M185 913h0M185 915h0M185 916h0M185 917h0M185 918h0M186 907h0M186 908h0M186 909h0M186 913h0M186 914h0M186 915h0M186 916h0M186 917h0M187 890h0M187 907h0M187 911h0M187 912h0M187 914h0M187 915h0M188 902h0M188 907h0M188 908h0M188 910h0M188 912h0M188 913h0M188 914h0M189 904h0M189 908h0M189 909h0M189 911h0M189 912h0M189 913h0M189 914h0M190 900h0M190 906h0M190 907h0M190 908h0M190 910h0M190 911h0M190 912h0M190 913h0M191 876h0M191 901h0M191 904h0M191 906h0M191 907h0M191 908h0M191 909h0M191 912h0M192 904h0M192 907h0M192 908h0M192 909h0M192 910h0M192 911h0M193 902h0M193 904h0M193 909h0M193 910h0M193 911h0M194 897h0M194 902h0M194 903h0M194 905h0M194 906h0M194 907h0M194 908h0M194 909h0M194 910h0M194 911h0M195 839h0M195 877h0M195 898h0M195 901h0M195 905h0M195 906h0M195 907h0M195 908h0M195 909h0M196 896h0M196 903h0M196 904h0M196 906h0M196 907h0M196 908h0M196 909h0M197 883h0M197 896h0M197 900h0M197 905h0M197 907h0M197 908h0M198 887h0M198 895h0M198 900h0M198 901h0M198 903h0M198 904h0M198 905h0M198 906h0M198 907h0M199 865h0M199 873h0M199 880h0M199 899h0M199 900h0M199 902h0M199 903h0M199 904h0M199 905h0M200 878h0M200 884h0M200 891h0M200 902h0M201 707h0M201 889h0M201 896h0M201 900h0M201 903h0M201 904h0M202 894h0M202 899h0M202 903h0M203 888h0M203 890h0M203 894h0M203 896h0M203 899h0M203 900h0M204 646h0M204 899h0M204 900h0M204 901h0M204 902h0M205 855h0M205 871h0M205 874h0M205 882h0M205 886h0M205 888h0M205 891h0M205 895h0M205 898h0M205 900h0M206 873h0M206 887h0M206 893h0M206 896h0M206 898h0M206 899h0M206 900h0M207 880h0M207 888h0M207 889h0M207 896h0M207 898h0M207 899h0M208 883h0M208 885h0M208 890h0M208 895h0M208 898h0M209 873h0M209 882h0M209 884h0M209 889h0M209 891h0M209 893h0M209 895h0M209 896h0M210 880h0M210 881h0M210 888h0M210 890h0M210 892h0M210 894h0M210 897h0M211 872h0M211 881h0M211 888h0M211 893h0M211 894h0M211 895h0M211 896h0M212 880h0M212 888h0M212 889h0M212 893h0M212 894h0M212 895h0M213 871h0M213 879h0M213 884h0M213 885h0M213 887h0M213 888h0M213 890h0M213 891h0M213 892h0M213 894h0M214 880h0M214 883h0M214 893h0M215 812h0M215 880h0M215 886h0M216 812h0M216 883h0M216 889h0M216 890h0M216 891h0M216 892h0M217 880h0M217 886h0M217 890h0M217 891h0M217 892h0M218 887h0M219 874h0M219 879h0M219 886h0M219 887h0M219 888h0M220 870h0M220 877h0M220 880h0M220 882h0M220 887h0M220 889h0M221 872h0M221 873h0M221 878h0M221 880h0M221 883h0M221 885h0M221 886h0M221 887h0M222 876h0M222 879h0M222 882h0M222 883h0M222 884h0M222 885h0M222 886h0M222 888h0M223 875h0M223 877h0M223 879h0M223 885h0M223 886h0M223 887h0M224 862h0M224 863h0M224 864h0M224 872h0M224 874h0M224 886h0M225 848h0M225 860h0M225 871h0M225 872h0M225 876h0M225 877h0M225 881h0M225 883h0M225 884h0M226 873h0M226 878h0M226 879h0M226 880h0M226 881h0M226 882h0M226 883h0M227 831h0M227 843h0M227 862h0M227 869h0M227 870h0M227 877h0M227 878h0M227 880h0M227 882h0M228 847h0M228 854h0M228 856h0M228 864h0M228 867h0M228 868h0M228 875h0M228 878h0M228 881h0M229 863h0M229 873h0M229 877h0M229 880h0M229 881h0M230 861h0M230 873h0M230 874h0M230 875h0M230 876h0M230 878h0M230 879h0M231 858h0M231 859h0M231 862h0M231 873h0M231 875h0M231 878h0M232 859h0M232 866h0M232 868h0M232 870h0M232 872h0M232 873h0M233 861h0M233 867h0M233 869h0M233 872h0M233 875h0M233 876h0M233 877h0M234 858h0M234 865h0M234 869h0M234 870h0M234 873h0M234 877h0M235 862h0M235 865h0M235 868h0M235 869h0M235 871h0M235 876h0M236 824h0M236 860h0M236 862h0M236 865h0M236 867h0M236 868h0M236 869h0M236 873h0M236 874h0M236 875h0M236 876h0M237 863h0M237 867h0M237 870h0M237 873h0M237 874h0M238 859h0M238 861h0M238 864h0M238 870h0M238 872h0M238 874h0M239 741h0M239 849h0M239 869h0M239 870h0M239 871h0M240 709h0M240 765h0M240 844h0M240 846h0M240 854h0M240 855h0M240 857h0M240 867h0M240 868h0M240 870h0M241 802h0M241 847h0M241 849h0M241 851h0M241 863h0M241 864h0M241 865h0M242 861h0M242 865h0M242 866h0M242 870h0M242 871h0M243 861h0M243 863h0M243 867h0M243 868h0M243 869h0M244 854h0M244 856h0M244 857h0M244 861h0M244 865h0M244 868h0M244 869h0M245 849h0M245 856h0M245 859h0M245 860h0M245 868h0M246 819h0M246 849h0M246 853h0M246 860h0M246 862h0M246 864h0M246 866h0M246 867h0M247 835h0M247 855h0M247 856h0M247 859h0M247 861h0M247 862h0M247 863h0M247 864h0M247 866h0M248 840h0M248 844h0M248 854h0M248 862h0M248 864h0M248 865h0M249 763h0M249 839h0M249 851h0M249 852h0M249 858h0M249 859h0M249 860h0M249 861h0M249 863h0M249 864h0M249 865h0M250 845h0M250 857h0M250 860h0M250 861h0M250 862h0M250 863h0M250 864h0M251 845h0M251 846h0M251 850h0M251 859h0M251 863h0M252 671h0M252 811h0M252 830h0M252 837h0M252 848h0M252 851h0M252 852h0M252 854h0M252 855h0M252 856h0M252 858h0M252 860h0M252 862h0M252 863h0M253 823h0M253 824h0M253 846h0M253 850h0M253 852h0M253 853h0M253 856h0M253 857h0M253 860h0M254 854h0M254 859h0M255 826h0M255 854h0M255 855h0M255 858h0M255 860h0M255 861h0M256 705h0M256 803h0M256 841h0M256 848h0M256 849h0M256 850h0M256 854h0M256 856h0M256 857h0M256 859h0M257 821h0M257 842h0M257 850h0M257 852h0M257 854h0M257 855h0M257 856h0M257 857h0M257 859h0M258 669h0M258 829h0M258 842h0M258 847h0M258 853h0M258 854h0M258 855h0M258 857h0M259 762h0M259 828h0M259 831h0M259 835h0M259 843h0M259 847h0M259 851h0M259 852h0M259 858h0M260 778h0M260 833h0M260 838h0M260 845h0M260 848h0M260 849h0M260 850h0M260 854h0M260 856h0M260 857h0M261 828h0M261 836h0M261 842h0M261 845h0M261 846h0M261 852h0M261 854h0M262 835h0M262 837h0M262 844h0M262 848h0M262 852h0M262 853h0M262 854h0M263 780h0M263 824h0M263 841h0M263 842h0M263 845h0M263 846h0M263 848h0M263 851h0M264 805h0M264 812h0M264 845h0M264 848h0M264 850h0M264 852h0M265 814h0M265 833h0M265 841h0M265 844h0M265 846h0M265 847h0M265 848h0M265 849h0M265 850h0M265 851h0M266 747h0M266 786h0M266 807h0M266 826h0M266 839h0M266 841h0M266 845h0M266 846h0M266 849h0M266 850h0M267 832h0M267 836h0M267 838h0M267 841h0M267 844h0M267 847h0M267 848h0M267 849h0M267 850h0M268 825h0M268 829h0M268 831h0M268 836h0M268 841h0M268 843h0M268 845h0M268 846h0M268 847h0M268 849h0M268 850h0M269 828h0M269 830h0M269 838h0M269 840h0M269 841h0M269 842h0M269 844h0M269 847h0M270 830h0M270 837h0M270 840h0M270 842h0M270 843h0M270 844h0M270 845h0M270 847h0M270 848h0M271 815h0M271 827h0M271 834h0M271 841h0M271 844h0M271 846h0M271 847h0M272 817h0M272 826h0M272 830h0M272 841h0M272 842h0M273 812h0M273 832h0M273 836h0M273 838h0M273 841h0M273 842h0M273 844h0M274 758h0M274 809h0M274 829h0M274 838h0M274 840h0M274 841h0M275 833h0M275 834h0M275 841h0M275 842h0M275 843h0M275 844h0M276 802h0M276 837h0M276 839h0M276 840h0M276 841h0M276 843h0M277 813h0M277 815h0M277 816h0M277 822h0M277 831h0M277 832h0M277 835h0M277 837h0M277 839h0M277 841h0M277 842h0M278 763h0M278 767h0M278 811h0M278 836h0M278 839h0M278 841h0M279 626h0M279 819h0M279 823h0M279 833h0M279 838h0M280 773h0M280 817h0M280 830h0M280 831h0M280 836h0M280 837h0M280 839h0M281 812h0M281 830h0M281 833h0M281 835h0M281 836h0M281 837h0M282 731h0M282 816h0M282 825h0M282 826h0M282 828h0M282 836h0M282 838h0M282 839h0M283 776h0M283 792h0M283 819h0M283 821h0M283 824h0M283 825h0M283 826h0M283 831h0M283 832h0M283 835h0M283 836h0M283 837h0M284 770h0M284 813h0M284 819h0M284 821h0M284 822h0M284 827h0M284 832h0M284 833h0M284 836h0M285 755h0M285 784h0M285 803h0M285 806h0M285 824h0M285 830h0M285 831h0M285 835h0M286 782h0M286 816h0M286 830h0M286 831h0M287 769h0M287 823h0M287 825h0M287 829h0M287 831h0M287 832h0M288 609h0M288 811h0M288 818h0M288 819h0M288 825h0M288 829h0M288 831h0M288 832h0M289 792h0M289 803h0M289 814h0M289 825h0M290 783h0M290 809h0M290 814h0M290 825h0M290 826h0M291 806h0M291 819h0M291 821h0M291 824h0M291 828h0M292 800h0M292 810h0M292 815h0M292 818h0M292 825h0M292 827h0M292 829h0M292 830h0M293 808h0M293 814h0M293 819h0M293 820h0M293 823h0M293 824h0M293 826h0M293 827h0M294 799h0M294 800h0M294 802h0M294 813h0M294 814h0M294 816h0M294 820h0M294 822h0M294 823h0M294 827h0M294 829h0M295 804h0M295 809h0M295 816h0M295 824h0M295 828h0M296 775h0M296 788h0M296 817h0M296 819h0M296 820h0M296 822h0M297 793h0M297 804h0M297 808h0M297 821h0M297 822h0M297 823h0M297 824h0M297 825h0M298 793h0M298 794h0M298 806h0M298 811h0M298 812h0M298 819h0M298 821h0M298 824h0M298 825h0M299 782h0M299 794h0M299 801h0M299 809h0M299 814h0M299 816h0M299 817h0M299 821h0M299 822h0M299 823h0M299 825h0M300 798h0M300 802h0M300 803h0M300 811h0M300 814h0M300 817h0M300 818h0M300 822h0M301 743h0M301 783h0M301 792h0M301 794h0M301 803h0M301 812h0M301 814h0M301 815h0M301 816h0M301 819h0M301 823h0M302 777h0M302 798h0M302 808h0M302 812h0M302 816h0M302 817h0M302 822h0M302 823h0M303 807h0M303 808h0M303 813h0M304 787h0M304 790h0M304 798h0M304 804h0M304 808h0M304 810h0M304 815h0M304 821h0M305 786h0M305 797h0M305 807h0M305 815h0M305 818h0M305 819h0M306 800h0M306 803h0M306 805h0M306 814h0M306 818h0M307 778h0M307 798h0M307 806h0M307 816h0M307 818h0M308 773h0M308 790h0M308 797h0M308 810h0M308 812h0M308 815h0M308 817h0M309 754h0M309 786h0M309 787h0M309 803h0M309 804h0M309 812h0M309 813h0M309 814h0M310 753h0M310 760h0M310 788h0M310 798h0M310 809h0M310 810h0M310 813h0M311 791h0M311 797h0M311 800h0M311 807h0M311 809h0M311 810h0M311 811h0M311 812h0M311 815h0M312 797h0M312 810h0M312 812h0M312 813h0M312 814h0M313 774h0M313 791h0M313 808h0M313 809h0M313 811h0M314 700h0M314 794h0M314 799h0M314 803h0M314 804h0M314 805h0M314 808h0M314 810h0M314 811h0M315 783h0M315 788h0M315 801h0M315 802h0M315 808h0M315 809h0M315 810h0M315 811h0M316 786h0M316 799h0M316 800h0M316 806h0M316 810h0M316 812h0M317 779h0M317 784h0M317 788h0M317 798h0M317 800h0M317 803h0M317 804h0M317 808h0M318 774h0M318 787h0M318 794h0M318 795h0M318 796h0M318 801h0M318 802h0M318 807h0M319 758h0M319 774h0M319 792h0M319 798h0M319 801h0M319 807h0M320 778h0M320 786h0M320 798h0M320 805h0M320 808h0M321 772h0M321 784h0M321 800h0M321 802h0M321 807h0M322 794h0M322 797h0M322 798h0M322 804h0M323 759h0M323 774h0M323 778h0M323 781h0M323 791h0M323 794h0M323 798h0M323 801h0M323 802h0M324 782h0M324 785h0M324 801h0M324 803h0M325 690h0M325 747h0M325 791h0M325 792h0M325 797h0M325 801h0M325 803h0M326 775h0M326 790h0M326 791h0M326 794h0M326 797h0M326 799h0M326 802h0M327 750h0M327 780h0M327 786h0M327 787h0M327 788h0M327 790h0M327 794h0M327 796h0M327 797h0M328 793h0M329 763h0M329 780h0M329 785h0M329 786h0M329 796h0M329 797h0M330 794h0M330 799h0M331 786h0M331 788h0M331 790h0M331 794h0M331 799h0M332 757h0M332 769h0M332 782h0M332 794h0M332 796h0M333 766h0M333 776h0M333 780h0M333 786h0M333 789h0M333 796h0M334 761h0M334 765h0M334 779h0M334 780h0M334 786h0M334 788h0M334 791h0M334 795h0M334 796h0M334 797h0M335 772h0M335 774h0M335 777h0M335 784h0M335 789h0M335 794h0M335 796h0M336 780h0M336 787h0M336 792h0M336 794h0M337 788h0M338 766h0M338 779h0M338 780h0M338 789h0M338 791h0M338 793h0M339 756h0M339 788h0M339 789h0M339 790h0M339 791h0M340 768h0M340 780h0M340 786h0M340 791h0M341 778h0M341 790h0M342 774h0M342 778h0M342 786h0M343 761h0M343 766h0M343 784h0M343 785h0M343 786h0M344 752h0M344 768h0M344 777h0M344 778h0M344 786h0M344 787h0M345 709h0M345 724h0M345 757h0M345 768h0M345 773h0M345 775h0M345 777h0M345 781h0M345 788h0M346 721h0M346 762h0M346 785h0M346 786h0M347 728h0M347 757h0M347 782h0M348 745h0M348 761h0M348 765h0M348 774h0M348 779h0M348 781h0M348 782h0M348 783h0M349 717h0M349 729h0M349 759h0M349 765h0M349 778h0M350 681h0M350 728h0M350 734h0M350 764h0M350 767h0M350 771h0M350 772h0M350 774h0M350 775h0M350 779h0M351 743h0M351 780h0M352 717h0M352 756h0M352 759h0M352 761h0M352 774h0M352 777h0M352 778h0M353 743h0M353 767h0M353 770h0M353 771h0M353 773h0M353 777h0M353 779h0M354 723h0M354 736h0M354 769h0M354 775h0M354 778h0M354 779h0M355 761h0M355 762h0M355 765h0M355 769h0M355 779h0M356 716h0M356 755h0M356 772h0M356 774h0M356 776h0M357 743h0M357 768h0M357 772h0M357 773h0M357 774h0M358 759h0M358 762h0M358 766h0M358 767h0M359 747h0M359 766h0M359 771h0M359 772h0M359 774h0M360 754h0M360 758h0M361 669h0M361 721h0M361 744h0M361 755h0M361 766h0M361 768h0M361 770h0M361 772h0M361 773h0M362 758h0M363 750h0M363 758h0M363 763h0M363 770h0M364 752h0M364 764h0M364 767h0M365 756h0M365 764h0M366 768h0M367 743h0M367 747h0M367 769h0M368 727h0M368 741h0M368 759h0M368 761h0M368 766h0M368 767h0M369 752h0M369 764h0M369 768h0M370 676h0M370 706h0M370 713h0M370 751h0M370 752h0M370 763h0M370 765h0M371 723h0M371 729h0M371 757h0M371 759h0M371 760h0M372 722h0M372 751h0M373 701h0M373 744h0M373 754h0M374 738h0M374 750h0M374 751h0M374 754h0M374 760h0M374 761h0M374 763h0M375 724h0M375 747h0M375 756h0M376 733h0M376 759h0M376 760h0M377 752h0M378 731h0M378 753h0M378 761h0M379 736h0M379 751h0M379 752h0M379 753h0M380 737h0M380 742h0M380 755h0M380 758h0M381 690h0M381 757h0M382 688h0M382 718h0M382 725h0M382 734h0M382 735h0M382 738h0M382 747h0M382 755h0M383 722h0M383 725h0M383 744h0M383 753h0M384 744h0M384 755h0M385 752h0M385 753h0M386 699h0M386 715h0M386 729h0M386 731h0M386 733h0M386 734h0M386 738h0M386 743h0M386 744h0M386 751h0M386 753h0M387 714h0M387 722h0M387 726h0M387 735h0M387 744h0M387 748h0M387 749h0M388 595h0M388 728h0M388 737h0M388 739h0M388 741h0M388 749h0M388 751h0M389 693h0M389 746h0M389 749h0M390 745h0M390 747h0M390 750h0M391 729h0M391 738h0M391 739h0M391 742h0M392 720h0M392 727h0M392 731h0M392 733h0M392 741h0M392 742h0M392 746h0M393 539h0M393 727h0M393 738h0M393 741h0M394 710h0M394 713h0M395 729h0M395 744h0M396 683h0M396 697h0M396 711h0M397 733h0M397 739h0M398 708h0M398 716h0M399 705h0M399 737h0M400 702h0M400 729h0M400 740h0M401 726h0M401 732h0M402 720h0M403 703h0M403 724h0M403 730h0M404 716h0M404 727h0M404 728h0M404 739h0M405 705h0M405 707h0M405 708h0M405 733h0M406 698h0M406 718h0M406 728h0M406 732h0M407 704h0M407 715h0M407 734h0M408 721h0M408 724h0M408 730h0M409 696h0M409 705h0M409 735h0M410 704h0M410 719h0M411 683h0M411 714h0M411 716h0M411 725h0M412 730h0M413 715h0M414 720h0M414 731h0M415 713h0M416 665h0M416 699h0M416 710h0M416 727h0M416 728h0M416 730h0M417 711h0M417 712h0M417 718h0M417 724h0M418 666h0M418 706h0M418 716h0M418 718h0M418 727h0M419 707h0M420 642h0M420 725h0M420 726h0M421 565h0M421 701h0M421 707h0M421 725h0M422 704h0M422 724h0M422 725h0M423 706h0M423 716h0M423 720h0M424 581h0M424 692h0M424 710h0M424 716h0M425 717h0M425 720h0M426 682h0M426 718h0M426 720h0M427 719h0M428 718h0M428 720h0M430 715h0M431 716h0M431 717h0M432 717h0M433 664h0M434 715h0M435 664h0M435 696h0M439 699h0M443 680h0M448 682h0M448 685h0M452 670h0M454 678h0M455 684h0M457 660h0M457 670h0M459 675h0M459 684h0M463 618h0M467 662h0M468 676h0M473 660h0M473 677h0M477 649h0M479 667h0M480 677h0M481 671h0M487 659h0M491 650h0M508 636h0M514 645h0M514 649h0M517 648h0M521 583h0M528 620h0M540 610h0M564 563h0M572 601h0M574 598h0M584 561h0M588 580h0M592 578h0M594 581h0M609 558h0M616 554h0" stroke="#8fe2e6" stroke-width="3.8" stroke-linecap="square" fill="none"/>
<path transform="scale(0.5)" d="M178 927h0M179 924h0M183 919h0M183 924h0M183 925h0M184 920h0M184 922h0M184 923h0M184 924h0M185 918h0M185 922h0M185 923h0M186 917h0M186 918h0M186 919h0M186 920h0M187 918h0M187 919h0M187 922h0M187 925h0M188 915h0M188 917h0M188 923h0M188 926h0M189 915h0M189 916h0M189 917h0M189 918h0M190 914h0M190 915h0M190 917h0M190 923h0M191 913h0M191 914h0M191 916h0M191 917h0M191 918h0M192 912h0M192 913h0M192 915h0M192 918h0M193 911h0M193 912h0M193 914h0M193 915h0M193 916h0M193 919h0M193 920h0M193 925h0M194 911h0M194 912h0M194 914h0M194 916h0M194 919h0M194 920h0M195 910h0M195 911h0M195 914h0M195 915h0M196 909h0M196 910h0M196 911h0M196 912h0M196 913h0M196 916h0M196 920h0M197 908h0M197 910h0M197 914h0M197 915h0M198 907h0M198 909h0M198 910h0M198 912h0M198 914h0M198 915h0M198 920h0M199 909h0M199 912h0M199 918h0M199 919h0M200 906h0M200 907h0M200 908h0M200 909h0M200 911h0M200 914h0M201 923h0M201 934h0M202 907h0M202 908h0M202 909h0M202 913h0M203 904h0M203 905h0M203 906h0M203 907h0M203 909h0M203 911h0M203 912h0M203 915h0M203 917h0M204 903h0M204 908h0M205 902h0M205 903h0M205 904h0M205 906h0M205 915h0M205 917h0M206 901h0M206 910h0M207 900h0M207 902h0M207 903h0M207 906h0M207 908h0M208 900h0M208 901h0M208 903h0M208 904h0M208 905h0M208 915h0M209 898h0M209 899h0M209 900h0M209 904h0M209 908h0M209 910h0M210 899h0M210 902h0M210 903h0M210 904h0M211 898h0M211 899h0M211 902h0M211 926h0M212 897h0M212 899h0M212 900h0M212 904h0M212 906h0M213 895h0M213 896h0M213 897h0M213 898h0M213 899h0M213 900h0M213 903h0M214 894h0M214 895h0M214 896h0M214 898h0M214 903h0M214 908h0M215 895h0M215 896h0M215 897h0M215 899h0M215 900h0M215 928h0M216 893h0M216 896h0M216 905h0M216 910h0M216 921h0M217 892h0M217 893h0M217 894h0M217 895h0M217 896h0M218 892h0M218 894h0M218 896h0M218 898h0M218 904h0M218 906h0M219 895h0M219 896h0M219 900h0M220 891h0M220 892h0M220 897h0M220 903h0M221 889h0M221 890h0M221 891h0M221 894h0M221 899h0M222 889h0M222 890h0M222 892h0M223 887h0M223 889h0M223 893h0M224 889h0M224 891h0M224 892h0M224 901h0M225 886h0M225 890h0M225 893h0M225 894h0M226 885h0M226 889h0M226 890h0M226 896h0M226 897h0M226 898h0M226 929h0M227 884h0M227 885h0M227 889h0M227 892h0M227 895h0M227 905h0M228 883h0M228 884h0M228 885h0M228 886h0M228 887h0M228 888h0M228 890h0M228 891h0M228 892h0M229 882h0M229 883h0M229 885h0M229 888h0M229 890h0M229 891h0M229 893h0M229 907h0M230 881h0M230 884h0M230 885h0M230 886h0M230 887h0M230 889h0M230 892h0M230 895h0M230 897h0M230 898h0M231 881h0M231 885h0M231 895h0M232 880h0M232 882h0M232 889h0M232 890h0M232 892h0M233 879h0M233 880h0M233 882h0M233 883h0M233 885h0M233 886h0M233 888h0M233 910h0M234 882h0M234 885h0M234 892h0M235 878h0M235 880h0M235 881h0M235 882h0M235 884h0M236 877h0M236 878h0M236 879h0M236 883h0M236 884h0M236 885h0M236 889h0M236 891h0M236 904h0M236 923h0M237 879h0M237 881h0M237 888h0M237 892h0M237 915h0M238 876h0M238 878h0M238 881h0M238 882h0M239 874h0M239 875h0M239 876h0M239 877h0M239 879h0M240 873h0M240 875h0M240 877h0M240 880h0M240 883h0M240 897h0M241 873h0M241 875h0M241 876h0M241 878h0M241 879h0M241 880h0M241 882h0M242 873h0M242 874h0M242 884h0M243 871h0M243 874h0M243 880h0M243 883h0M243 885h0M244 871h0M244 877h0M244 881h0M245 870h0M245 874h0M246 870h0M246 871h0M246 872h0M246 873h0M246 874h0M246 886h0M246 892h0M247 867h0M247 868h0M247 869h0M247 871h0M247 878h0M248 867h0M248 869h0M248 874h0M248 877h0M249 867h0M249 872h0M249 881h0M250 866h0M250 867h0M250 868h0M250 879h0M251 868h0M251 871h0M251 880h0M252 864h0M252 866h0M252 868h0M252 869h0M253 863h0M253 864h0M253 866h0M253 867h0M253 868h0M253 871h0M253 873h0M254 862h0M254 864h0M254 867h0M254 868h0M254 873h0M255 863h0M255 864h0M255 866h0M255 868h0M255 870h0M255 886h0M256 860h0M256 861h0M256 862h0M256 863h0M256 864h0M256 867h0M256 868h0M256 877h0M256 883h0M257 860h0M257 861h0M257 862h0M257 865h0M257 886h0M258 859h0M258 860h0M258 861h0M258 862h0M258 863h0M258 865h0M258 866h0M258 867h0M258 871h0M258 876h0M259 860h0M259 861h0M259 866h0M259 867h0M259 872h0M259 873h0M260 860h0M260 862h0M260 863h0M260 871h0M260 878h0M261 856h0M261 858h0M261 859h0M261 863h0M261 867h0M261 878h0M261 886h0M262 855h0M262 857h0M262 862h0M262 864h0M263 856h0M263 858h0M263 860h0M263 863h0M263 864h0M263 877h0M263 885h0M264 854h0M264 858h0M264 861h0M264 862h0M264 881h0M264 889h0M265 857h0M265 860h0M265 861h0M265 869h0M266 856h0M266 857h0M266 862h0M266 863h0M266 865h0M267 852h0M267 855h0M268 851h0M268 852h0M268 855h0M268 858h0M269 852h0M269 853h0M269 854h0M269 856h0M269 857h0M269 858h0M269 859h0M269 866h0M269 868h0M270 849h0M270 851h0M270 853h0M270 854h0M270 855h0M270 856h0M270 912h0M271 849h0M271 854h0M271 858h0M271 899h0M272 848h0M272 849h0M272 856h0M272 861h0M273 849h0M273 851h0M273 853h0M273 858h0M273 887h0M274 847h0M274 848h0M274 849h0M274 850h0M274 856h0M274 860h0M274 871h0M274 874h0M275 845h0M275 846h0M275 847h0M275 849h0M275 851h0M275 855h0M275 860h0M276 845h0M276 846h0M276 850h0M276 851h0M276 852h0M276 855h0M276 871h0M277 844h0M277 846h0M277 849h0M277 855h0M277 883h0M278 842h0M278 853h0M278 856h0M278 863h0M279 841h0M279 842h0M279 845h0M279 846h0M279 849h0M279 856h0M279 865h0M280 842h0M280 843h0M280 851h0M280 863h0M281 841h0M281 846h0M281 848h0M281 850h0M281 860h0M281 867h0M282 840h0M282 841h0M282 842h0M282 844h0M282 848h0M282 883h0M283 839h0M283 841h0M283 842h0M283 845h0M283 849h0M283 850h0M283 861h0M283 866h0M284 837h0M284 839h0M284 842h0M284 843h0M285 838h0M285 848h0M285 852h0M285 860h0M286 836h0M286 841h0M286 843h0M286 852h0M286 853h0M287 839h0M287 841h0M287 845h0M287 851h0M288 838h0M288 846h0M288 847h0M288 848h0M289 835h0M289 836h0M289 838h0M289 840h0M289 843h0M289 849h0M289 862h0M290 834h0M290 835h0M290 836h0M290 837h0M290 843h0M290 846h0M290 848h0M290 850h0M290 858h0M291 832h0M291 833h0M291 834h0M291 835h0M291 836h0M291 837h0M291 838h0M291 839h0M291 843h0M291 847h0M291 859h0M291 872h0M292 833h0M292 834h0M292 835h0M292 837h0M292 850h0M293 830h0M293 833h0M293 834h0M293 835h0M293 836h0M293 846h0M293 854h0M293 860h0M294 829h0M294 831h0M294 832h0M294 833h0M294 849h0M294 860h0M295 838h0M295 840h0M295 841h0M296 829h0M296 830h0M296 832h0M296 838h0M296 848h0M296 849h0M297 827h0M297 829h0M297 830h0M297 831h0M297 833h0M297 835h0M297 837h0M297 851h0M298 833h0M298 843h0M298 893h0M299 828h0M299 830h0M299 832h0M299 836h0M299 853h0M300 825h0M300 830h0M300 842h0M300 846h0M300 860h0M301 825h0M301 826h0M301 828h0M301 831h0M301 833h0M301 836h0M301 854h0M302 824h0M302 825h0M302 826h0M302 827h0M302 828h0M302 835h0M302 881h0M303 822h0M303 825h0M303 826h0M303 827h0M303 836h0M303 841h0M303 848h0M304 822h0M304 827h0M304 828h0M304 831h0M304 836h0M304 839h0M304 855h0M305 823h0M305 834h0M305 841h0M305 849h0M306 822h0M306 823h0M306 827h0M306 839h0M307 825h0M307 828h0M307 831h0M307 856h0M308 825h0M308 826h0M308 827h0M308 829h0M309 821h0M309 824h0M309 830h0M309 833h0M310 819h0M310 820h0M310 823h0M310 824h0M310 828h0M311 816h0M311 818h0M311 823h0M311 826h0M311 866h0M312 817h0M312 821h0M312 855h0M312 856h0M313 814h0M313 815h0M313 816h0M313 820h0M313 821h0M313 830h0M313 834h0M314 815h0M314 816h0M314 819h0M314 822h0M314 825h0M314 828h0M314 836h0M314 847h0M314 853h0M315 812h0M315 814h0M315 815h0M315 821h0M315 829h0M315 849h0M316 816h0M316 818h0M316 823h0M316 827h0M316 830h0M316 868h0M317 814h0M317 817h0M317 850h0M318 811h0M318 814h0M318 819h0M318 828h0M318 830h0M318 847h0M319 810h0M319 819h0M319 829h0M320 816h0M320 820h0M320 821h0M320 859h0M321 823h0M321 826h0M321 830h0M321 831h0M322 807h0M322 811h0M322 812h0M322 814h0M322 817h0M322 822h0M322 843h0M323 806h0M323 809h0M323 812h0M323 813h0M323 817h0M323 823h0M323 829h0M324 811h0M324 817h0M324 828h0M324 838h0M325 804h0M325 805h0M325 806h0M325 808h0M325 812h0M325 813h0M325 818h0M325 831h0M326 809h0M326 810h0M326 813h0M326 817h0M327 815h0M328 802h0M328 803h0M328 810h0M328 819h0M329 803h0M329 805h0M329 806h0M329 807h0M329 808h0M329 811h0M329 812h0M329 824h0M329 830h0M329 837h0M330 801h0M330 807h0M330 814h0M330 818h0M330 820h0M330 824h0M330 827h0M330 834h0M330 863h0M330 867h0M331 801h0M331 803h0M331 807h0M331 810h0M331 811h0M331 828h0M332 799h0M332 801h0M332 803h0M332 807h0M332 812h0M332 821h0M332 829h0M332 832h0M333 799h0M334 802h0M334 804h0M334 833h0M335 798h0M335 800h0M335 811h0M336 795h0M336 797h0M336 807h0M336 821h0M336 831h0M336 836h0M337 795h0M337 803h0M337 805h0M337 806h0M337 820h0M338 794h0M338 795h0M338 799h0M338 810h0M338 816h0M338 819h0M339 800h0M339 802h0M339 807h0M339 809h0M339 812h0M340 800h0M340 818h0M340 823h0M341 792h0M341 793h0M341 798h0M341 800h0M341 826h0M342 792h0M342 793h0M342 800h0M342 801h0M342 807h0M342 810h0M342 813h0M343 790h0M343 791h0M343 793h0M343 796h0M343 798h0M343 800h0M343 803h0M343 805h0M343 816h0M344 789h0M344 790h0M344 793h0M344 796h0M345 788h0M345 790h0M345 794h0M345 796h0M345 822h0M346 791h0M346 795h0M346 801h0M346 804h0M347 787h0M347 789h0M347 790h0M347 793h0M347 801h0M347 805h0M347 811h0M348 786h0M348 788h0M348 796h0M348 807h0M349 785h0M349 789h0M349 793h0M349 794h0M349 805h0M349 819h0M350 785h0M350 792h0M350 798h0M350 803h0M350 828h0M351 784h0M351 786h0M351 791h0M351 796h0M352 785h0M352 791h0M353 783h0M353 785h0M353 787h0M353 790h0M353 794h0M354 784h0M355 780h0M355 785h0M355 789h0M355 795h0M355 834h0M356 796h0M356 801h0M356 821h0M356 825h0M357 779h0M357 786h0M357 787h0M357 788h0M357 799h0M357 804h0M358 780h0M358 783h0M358 800h0M359 778h0M359 779h0M359 783h0M359 784h0M359 786h0M359 792h0M360 783h0M361 776h0M361 790h0M361 794h0M362 774h0M362 776h0M362 777h0M362 780h0M362 781h0M362 786h0M363 782h0M363 790h0M363 805h0M364 774h0M365 776h0M365 780h0M365 781h0M365 790h0M366 778h0M366 797h0M366 802h0M366 804h0M366 830h0M367 772h0M367 783h0M367 823h0M368 770h0M368 773h0M368 776h0M368 780h0M368 789h0M368 830h0M369 772h0M369 777h0M369 778h0M369 790h0M370 771h0M370 784h0M370 803h0M371 771h0M371 775h0M371 777h0M371 778h0M371 785h0M371 817h0M371 847h0M372 768h0M372 770h0M372 771h0M373 769h0M373 770h0M373 774h0M373 775h0M373 781h0M373 782h0M374 769h0M374 774h0M374 790h0M374 791h0M375 769h0M375 785h0M375 786h0M375 796h0M376 770h0M376 782h0M377 764h0M377 768h0M377 774h0M377 779h0M378 763h0M378 781h0M378 785h0M379 760h0M379 775h0M379 780h0M379 820h0M380 782h0M380 791h0M381 761h0M381 764h0M381 768h0M381 807h0M382 762h0M382 765h0M382 766h0M382 770h0M382 781h0M383 763h0M383 764h0M383 770h0M383 773h0M384 767h0M385 755h0M385 760h0M385 763h0M385 765h0M385 776h0M386 784h0M387 759h0M387 764h0M387 767h0M387 776h0M387 777h0M388 759h0M388 764h0M388 775h0M388 794h0M389 756h0M389 760h0M389 775h0M390 753h0M390 756h0M390 758h0M390 761h0M391 757h0M391 759h0M391 769h0M392 751h0M392 753h0M392 759h0M393 756h0M393 761h0M393 766h0M394 751h0M394 764h0M396 750h0M396 757h0M396 766h0M396 845h0M397 748h0M397 755h0M398 748h0M399 748h0M399 750h0M399 751h0M399 760h0M399 762h0M399 794h0M399 854h0M400 744h0M400 747h0M400 754h0M401 749h0M402 746h0M402 749h0M402 763h0M402 765h0M402 800h0M403 741h0M403 746h0M403 785h0M404 750h0M404 828h0M405 751h0M405 754h0M405 771h0M406 739h0M406 748h0M406 753h0M406 756h0M407 739h0M407 768h0M407 774h0M407 776h0M408 739h0M408 744h0M408 747h0M408 761h0M408 769h0M408 788h0M409 737h0M409 754h0M409 785h0M410 742h0M410 744h0M410 777h0M411 763h0M411 785h0M412 738h0M412 742h0M412 749h0M412 801h0M412 815h0M413 736h0M413 741h0M413 758h0M415 758h0M415 822h0M416 759h0M417 732h0M417 759h0M418 730h0M418 733h0M418 734h0M418 753h0M419 732h0M419 739h0M419 742h0M420 731h0M420 739h0M420 747h0M421 749h0M421 750h0M421 779h0M422 727h0M422 728h0M422 736h0M422 752h0M422 753h0M422 780h0M423 733h0M423 735h0M423 737h0M423 743h0M424 743h0M424 749h0M425 727h0M425 746h0M426 724h0M426 725h0M426 727h0M426 729h0M426 734h0M428 722h0M428 726h0M428 731h0M428 735h0M428 747h0M429 723h0M429 725h0M429 726h0M429 727h0M429 755h0M430 719h0M430 720h0M430 753h0M431 721h0M431 729h0M433 723h0M433 785h0M434 721h0M434 726h0M434 865h0M435 718h0M435 725h0M435 729h0M435 731h0M435 773h0M436 721h0M436 759h0M436 833h0M437 719h0M437 743h0M437 760h0M437 764h0M438 718h0M438 748h0M438 814h0M439 720h0M439 733h0M440 725h0M440 729h0M440 733h0M440 785h0M441 731h0M441 732h0M441 733h0M441 740h0M441 767h0M441 798h0M442 726h0M443 712h0M443 717h0M443 763h0M444 729h0M444 730h0M444 735h0M444 751h0M445 753h0M446 751h0M447 746h0M448 714h0M448 732h0M449 792h0M449 892h0M450 766h0M451 716h0M451 743h0M452 755h0M452 797h0M455 701h0M455 742h0M456 733h0M457 703h0M457 708h0M457 722h0M457 734h0M458 737h0M458 770h0M458 808h0M459 702h0M459 741h0M459 781h0M460 702h0M461 739h0M462 789h0M462 804h0M463 743h0M463 746h0M464 716h0M464 732h0M465 716h0M465 791h0M466 750h0M467 875h0M468 767h0M469 704h0M469 782h0M472 702h0M472 745h0M473 687h0M474 772h0M475 720h0M476 747h0M477 746h0M479 773h0M479 799h0M481 718h0M482 685h0M483 696h0M484 709h0M484 724h0M484 772h0M485 690h0M485 728h0M486 676h0M486 689h0M487 695h0M487 763h0M488 691h0M489 673h0M489 699h0M490 747h0M490 781h0M492 730h0M495 693h0M496 678h0M497 674h0M497 749h0M498 792h0M499 682h0M499 757h0M505 691h0M505 831h0M505 904h0M506 696h0M509 670h0M509 773h0M510 744h0M511 682h0M512 681h0M513 652h0M515 774h0M518 659h0M520 730h0M522 698h0M527 651h0M529 746h0M530 915h0M531 685h0M531 686h0M532 705h0M533 657h0M533 689h0M535 636h0M535 670h0M535 696h0M536 773h0M537 664h0M537 707h0M538 659h0M538 830h0M542 631h0M544 797h0M548 674h0M550 655h0M550 722h0M553 808h0M555 735h0M556 621h0M557 623h0M557 760h0M558 650h0M560 671h0M566 613h0M566 617h0M566 700h0M567 623h0M570 609h0M572 633h0M573 606h0M573 891h0M574 634h0M576 639h0M576 746h0M577 629h0M578 599h0M581 598h0M581 842h0M583 609h0M589 598h0M589 644h0M591 676h0M593 596h0M593 725h0M594 679h0M597 758h0M597 807h0M608 610h0M608 710h0M611 726h0M612 700h0M613 787h0M617 653h0M618 790h0M619 935h0M622 699h0M623 565h0M625 578h0M626 627h0M626 655h0M626 658h0M633 633h0M633 690h0M635 576h0M635 703h0M635 937h0M636 634h0M637 694h0M638 786h0M639 663h0M639 807h0M640 556h0M641 660h0M645 613h0M647 788h0M648 598h0M651 567h0M652 719h0M654 613h0M655 617h0M657 594h0" stroke="#f7ac82" stroke-width="3.8" stroke-linecap="square" fill="none"/>
<line x1="65.6" y1="264.7" x2="65.6" y2="480.4" stroke="#050505" stroke-width="1.7"/>
<line x1="64.9" y1="479.7" x2="333" y2="479.7" stroke="#050505" stroke-width="1.7"/>
<line x1="61.6" y1="472.5" x2="65.6" y2="472.5" stroke="#050505" stroke-width="1.7"/>
<text x="59.3" y="476.6" font-size="12.5" text-anchor="end" style="stroke-width:0.42px">0</text>
<line x1="63.1" y1="453.6" x2="65.6" y2="453.6" stroke="#050505" stroke-width="1.7"/>
<line x1="61.6" y1="434.7" x2="65.6" y2="434.7" stroke="#050505" stroke-width="1.7"/>
<text x="59.3" y="438.8" font-size="12.5" text-anchor="end" textLength="20.2" lengthAdjust="spacingAndGlyphs" style="stroke-width:0.42px">100</text>
<line x1="63.1" y1="415.8" x2="65.6" y2="415.8" stroke="#050505" stroke-width="1.7"/>
<line x1="61.6" y1="396.9" x2="65.6" y2="396.9" stroke="#050505" stroke-width="1.7"/>
<text x="59.3" y="401" font-size="12.5" text-anchor="end" textLength="20.2" lengthAdjust="spacingAndGlyphs" style="stroke-width:0.42px">200</text>
<line x1="63.1" y1="378" x2="65.6" y2="378" stroke="#050505" stroke-width="1.7"/>
<line x1="61.6" y1="359.1" x2="65.6" y2="359.1" stroke="#050505" stroke-width="1.7"/>
<text x="59.3" y="363.2" font-size="12.5" text-anchor="end" textLength="20.2" lengthAdjust="spacingAndGlyphs" style="stroke-width:0.42px">300</text>
<line x1="63.1" y1="340.2" x2="65.6" y2="340.2" stroke="#050505" stroke-width="1.7"/>
<line x1="61.6" y1="321.3" x2="65.6" y2="321.3" stroke="#050505" stroke-width="1.7"/>
<text x="59.3" y="325.4" font-size="12.5" text-anchor="end" textLength="20.2" lengthAdjust="spacingAndGlyphs" style="stroke-width:0.42px">400</text>
<line x1="63.1" y1="302.4" x2="65.6" y2="302.4" stroke="#050505" stroke-width="1.7"/>
<line x1="61.6" y1="283.5" x2="65.6" y2="283.5" stroke="#050505" stroke-width="1.7"/>
<text x="59.3" y="287.6" font-size="12.5" text-anchor="end" textLength="20.2" lengthAdjust="spacingAndGlyphs" style="stroke-width:0.42px">500</text>
<line x1="63.1" y1="264.6" x2="65.6" y2="264.6" stroke="#050505" stroke-width="1.7"/>
<line x1="75.6" y1="479.7" x2="75.6" y2="483.7" stroke="#050505" stroke-width="1.7"/>
<text x="75.6" y="494.4" font-size="12.5" text-anchor="middle" style="stroke-width:0.42px">0</text>
<line x1="98.9" y1="479.7" x2="98.9" y2="482" stroke="#050505" stroke-width="1.7"/>
<line x1="122.2" y1="479.7" x2="122.2" y2="483.7" stroke="#050505" stroke-width="1.7"/>
<text x="122.2" y="494.4" font-size="12.5" text-anchor="middle" textLength="20.2" lengthAdjust="spacingAndGlyphs" style="stroke-width:0.42px">100</text>
<line x1="145.5" y1="479.7" x2="145.5" y2="482" stroke="#050505" stroke-width="1.7"/>
<line x1="168.8" y1="479.7" x2="168.8" y2="483.7" stroke="#050505" stroke-width="1.7"/>
<text x="168.8" y="494.4" font-size="12.5" text-anchor="middle" textLength="20.2" lengthAdjust="spacingAndGlyphs" style="stroke-width:0.42px">200</text>
<line x1="192.1" y1="479.7" x2="192.1" y2="482" stroke="#050505" stroke-width="1.7"/>
<line x1="215.4" y1="479.7" x2="215.4" y2="483.7" stroke="#050505" stroke-width="1.7"/>
<text x="215.4" y="494.4" font-size="12.5" text-anchor="middle" textLength="20.2" lengthAdjust="spacingAndGlyphs" style="stroke-width:0.42px">300</text>
<line x1="238.7" y1="479.7" x2="238.7" y2="482" stroke="#050505" stroke-width="1.7"/>
<line x1="262" y1="479.7" x2="262" y2="483.7" stroke="#050505" stroke-width="1.7"/>
<text x="262" y="494.4" font-size="12.5" text-anchor="middle" textLength="20.2" lengthAdjust="spacingAndGlyphs" style="stroke-width:0.42px">400</text>
<line x1="285.3" y1="479.7" x2="285.3" y2="482" stroke="#050505" stroke-width="1.7"/>
<line x1="308.6" y1="479.7" x2="308.6" y2="483.7" stroke="#050505" stroke-width="1.7"/>
<text x="308.6" y="494.4" font-size="12.5" text-anchor="middle" textLength="20.2" lengthAdjust="spacingAndGlyphs" style="stroke-width:0.42px">500</text>
<text x="199" y="510" font-size="14.5" text-anchor="middle" textLength="138" lengthAdjust="spacingAndGlyphs">3'UTR length(nt) of F1</text>
<text x="35" y="369.5" font-size="14" text-anchor="middle" textLength="141" lengthAdjust="spacingAndGlyphs" transform="rotate(-90 35 369.5)">3'UTR length(nt) of M</text>
<path transform="scale(0.5)" d="M164 1497h0M166 1452h0M167 1463h0M169 1486h0M170 1482h0M170 1489h0M170 1492h0M174 1486h0M174 1493h0M174 1494h0M175 1445h0M175 1481h0M175 1487h0M175 1489h0M176 1481h0M176 1488h0M176 1492h0M176 1493h0M177 1486h0M177 1488h0M177 1491h0M177 1494h0M178 1485h0M178 1489h0M178 1490h0M178 1491h0M179 1465h0M179 1483h0M179 1487h0M179 1490h0M179 1491h0M179 1492h0M180 1484h0M180 1486h0M180 1487h0M180 1491h0M181 1476h0M181 1483h0M181 1484h0M181 1485h0M181 1486h0M181 1487h0M181 1488h0M181 1489h0M181 1490h0M182 1478h0M182 1480h0M182 1484h0M182 1487h0M182 1488h0M182 1489h0M183 1472h0M183 1475h0M183 1476h0M183 1479h0M183 1484h0M183 1485h0M183 1486h0M183 1488h0M183 1489h0M183 1490h0M184 1469h0M184 1474h0M184 1482h0M184 1483h0M184 1485h0M184 1486h0M184 1487h0M185 1467h0M185 1478h0M185 1480h0M185 1483h0M185 1485h0M185 1486h0M185 1487h0M185 1488h0M186 1472h0M186 1478h0M186 1480h0M186 1481h0M186 1482h0M186 1483h0M186 1484h0M186 1485h0M186 1486h0M186 1487h0M187 1429h0M187 1474h0M187 1476h0M187 1479h0M187 1480h0M187 1482h0M187 1483h0M187 1484h0M187 1485h0M187 1486h0M188 1441h0M188 1464h0M188 1468h0M188 1475h0M188 1476h0M188 1477h0M188 1480h0M188 1481h0M188 1482h0M188 1483h0M188 1484h0M188 1485h0M188 1486h0M189 1460h0M189 1479h0M189 1480h0M189 1483h0M189 1484h0M190 1263h0M190 1454h0M190 1464h0M190 1473h0M190 1479h0M190 1480h0M190 1481h0M190 1482h0M190 1483h0M190 1484h0M191 1471h0M191 1478h0M191 1481h0M191 1482h0M191 1483h0M192 1398h0M192 1467h0M192 1470h0M192 1475h0M192 1480h0M193 1434h0M193 1476h0M193 1477h0M193 1479h0M193 1480h0M194 1464h0M194 1465h0M194 1466h0M194 1470h0M194 1472h0M194 1473h0M194 1474h0M194 1476h0M194 1477h0M194 1479h0M195 1470h0M195 1471h0M195 1472h0M195 1474h0M195 1476h0M195 1477h0M195 1479h0M195 1480h0M196 1450h0M196 1468h0M196 1472h0M196 1474h0M196 1478h0M196 1479h0M197 1461h0M197 1469h0M197 1473h0M197 1476h0M197 1477h0M197 1478h0M198 1467h0M198 1475h0M198 1477h0M199 1424h0M199 1438h0M199 1462h0M199 1465h0M199 1467h0M199 1470h0M199 1472h0M199 1473h0M199 1475h0M199 1477h0M200 1454h0M200 1459h0M200 1470h0M200 1471h0M200 1472h0M200 1473h0M200 1475h0M200 1476h0M201 1451h0M201 1468h0M201 1474h0M202 1447h0M202 1459h0M202 1461h0M202 1465h0M202 1468h0M202 1471h0M203 1424h0M203 1459h0M203 1461h0M203 1463h0M203 1467h0M203 1469h0M203 1470h0M204 1461h0M204 1467h0M204 1468h0M204 1472h0M205 1435h0M205 1457h0M205 1462h0M205 1464h0M205 1471h0M206 1447h0M206 1458h0M206 1462h0M206 1467h0M206 1470h0M207 1454h0M207 1462h0M207 1465h0M207 1467h0M207 1468h0M208 1443h0M208 1462h0M208 1463h0M208 1465h0M208 1466h0M208 1467h0M208 1468h0M208 1469h0M209 1451h0M209 1453h0M209 1455h0M209 1462h0M209 1463h0M210 1403h0M210 1426h0M210 1442h0M210 1447h0M210 1454h0M210 1455h0M210 1458h0M210 1459h0M210 1462h0M210 1464h0M210 1465h0M210 1466h0M210 1467h0M210 1468h0M211 1359h0M211 1361h0M211 1446h0M211 1449h0M211 1452h0M211 1457h0M211 1460h0M211 1464h0M211 1466h0M211 1467h0M212 1453h0M212 1457h0M212 1458h0M212 1466h0M213 1450h0M213 1451h0M213 1452h0M213 1458h0M213 1461h0M213 1465h0M214 1435h0M214 1436h0M214 1453h0M214 1456h0M214 1458h0M214 1460h0M214 1462h0M214 1464h0M215 1447h0M215 1450h0M215 1451h0M215 1453h0M215 1454h0M215 1455h0M215 1457h0M215 1459h0M215 1460h0M215 1461h0M215 1462h0M215 1463h0M216 1363h0M216 1444h0M216 1453h0M216 1457h0M216 1459h0M216 1460h0M216 1462h0M217 1424h0M217 1447h0M217 1453h0M217 1454h0M217 1455h0M217 1457h0M217 1459h0M217 1461h0M217 1462h0M218 1252h0M218 1425h0M218 1434h0M218 1445h0M218 1449h0M218 1450h0M218 1451h0M218 1453h0M218 1456h0M218 1458h0M218 1460h0M218 1461h0M219 1395h0M219 1408h0M219 1431h0M219 1434h0M219 1445h0M219 1451h0M219 1458h0M219 1461h0M220 1439h0M220 1451h0M220 1455h0M220 1456h0M220 1457h0M220 1458h0M220 1459h0M220 1460h0M221 1403h0M221 1421h0M221 1435h0M221 1444h0M221 1450h0M221 1452h0M221 1454h0M221 1456h0M221 1457h0M221 1458h0M222 1412h0M222 1436h0M222 1453h0M222 1455h0M223 1340h0M223 1428h0M223 1435h0M223 1438h0M223 1441h0M223 1442h0M223 1444h0M223 1446h0M223 1449h0M223 1451h0M223 1456h0M224 1414h0M224 1449h0M224 1450h0M224 1451h0M224 1454h0M224 1455h0M224 1456h0M225 1425h0M225 1438h0M225 1447h0M225 1448h0M225 1449h0M225 1451h0M225 1453h0M225 1454h0M225 1455h0M226 1444h0M226 1446h0M226 1450h0M226 1451h0M226 1453h0M226 1454h0M227 1432h0M227 1434h0M227 1440h0M227 1451h0M227 1453h0M228 1426h0M228 1432h0M228 1440h0M228 1442h0M228 1444h0M228 1446h0M228 1449h0M228 1450h0M228 1453h0M229 1386h0M229 1431h0M229 1444h0M229 1445h0M229 1446h0M229 1447h0M229 1451h0M229 1452h0M230 1361h0M230 1392h0M230 1423h0M230 1430h0M230 1437h0M230 1440h0M230 1446h0M230 1447h0M230 1448h0M230 1449h0M230 1451h0M231 1420h0M231 1428h0M231 1430h0M231 1439h0M231 1440h0M231 1442h0M231 1445h0M231 1449h0M232 1406h0M232 1409h0M232 1423h0M232 1431h0M232 1432h0M232 1441h0M232 1443h0M232 1446h0M232 1448h0M232 1449h0M232 1450h0M233 1416h0M233 1425h0M233 1427h0M233 1428h0M233 1432h0M233 1437h0M233 1441h0M233 1445h0M233 1446h0M234 1423h0M234 1424h0M234 1429h0M234 1432h0M234 1435h0M234 1436h0M234 1439h0M234 1440h0M234 1441h0M234 1442h0M234 1446h0M234 1447h0M234 1448h0M235 1419h0M235 1420h0M235 1428h0M235 1432h0M235 1433h0M235 1434h0M235 1439h0M235 1440h0M235 1442h0M235 1443h0M235 1446h0M235 1447h0M236 1410h0M236 1426h0M236 1429h0M236 1438h0M236 1441h0M236 1442h0M236 1445h0M237 1429h0M237 1433h0M237 1434h0M237 1435h0M237 1437h0M237 1438h0M237 1440h0M237 1441h0M237 1442h0M237 1444h0M237 1445h0M237 1446h0M238 1413h0M238 1419h0M238 1425h0M238 1431h0M238 1434h0M238 1439h0M238 1440h0M238 1443h0M239 1410h0M239 1422h0M239 1426h0M239 1431h0M239 1432h0M239 1434h0M239 1436h0M239 1437h0M239 1439h0M239 1440h0M239 1441h0M240 1429h0M240 1431h0M240 1432h0M240 1434h0M240 1436h0M240 1439h0M240 1440h0M240 1442h0M240 1443h0M241 1427h0M241 1429h0M241 1436h0M241 1437h0M241 1438h0M241 1439h0M241 1441h0M242 1422h0M242 1430h0M242 1432h0M242 1434h0M242 1435h0M242 1437h0M242 1438h0M242 1439h0M242 1441h0M243 1409h0M243 1411h0M243 1419h0M243 1421h0M243 1424h0M243 1431h0M243 1434h0M243 1435h0M243 1436h0M243 1438h0M243 1439h0M243 1441h0M244 1358h0M244 1408h0M244 1425h0M244 1434h0M244 1437h0M244 1439h0M245 1417h0M245 1418h0M245 1425h0M245 1427h0M245 1429h0M245 1431h0M245 1432h0M245 1434h0M245 1435h0M245 1436h0M245 1438h0M246 1408h0M246 1423h0M246 1428h0M246 1430h0M246 1431h0M246 1433h0M246 1435h0M246 1437h0M247 1423h0M247 1428h0M247 1431h0M247 1432h0M247 1434h0M247 1438h0M248 1338h0M248 1381h0M248 1390h0M248 1400h0M248 1406h0M248 1410h0M248 1415h0M248 1421h0M248 1424h0M248 1432h0M248 1434h0M248 1435h0M248 1437h0M249 1423h0M249 1425h0M249 1431h0M249 1432h0M249 1435h0M249 1436h0M250 1379h0M250 1416h0M250 1418h0M250 1422h0M250 1423h0M250 1430h0M250 1431h0M250 1432h0M250 1433h0M250 1434h0M251 1387h0M251 1388h0M251 1403h0M251 1416h0M251 1417h0M251 1423h0M251 1425h0M251 1429h0M251 1430h0M251 1431h0M251 1433h0M251 1434h0M251 1435h0M252 1408h0M252 1411h0M252 1421h0M252 1430h0M252 1432h0M252 1433h0M253 1407h0M253 1411h0M253 1412h0M253 1420h0M253 1423h0M253 1428h0M253 1432h0M254 1414h0M254 1421h0M254 1426h0M254 1428h0M254 1429h0M254 1430h0M254 1432h0M255 1417h0M255 1421h0M255 1423h0M255 1424h0M255 1425h0M255 1426h0M255 1429h0M255 1430h0M255 1431h0M256 1400h0M256 1402h0M256 1404h0M256 1413h0M256 1419h0M256 1421h0M256 1426h0M256 1427h0M256 1428h0M256 1430h0M257 1395h0M257 1398h0M257 1405h0M257 1407h0M257 1415h0M257 1416h0M257 1417h0M257 1418h0M257 1422h0M257 1423h0M257 1425h0M257 1427h0M257 1428h0M257 1429h0M258 1396h0M258 1411h0M258 1424h0M258 1428h0M259 1380h0M259 1407h0M259 1410h0M259 1411h0M259 1413h0M259 1415h0M259 1416h0M259 1422h0M259 1425h0M259 1426h0M259 1427h0M260 1398h0M260 1409h0M260 1412h0M260 1414h0M260 1417h0M260 1424h0M260 1425h0M260 1426h0M260 1427h0M261 1383h0M261 1387h0M261 1409h0M261 1412h0M261 1415h0M261 1422h0M261 1424h0M261 1425h0M261 1426h0M262 1381h0M262 1384h0M262 1393h0M262 1414h0M262 1416h0M262 1420h0M262 1423h0M262 1424h0M263 1367h0M263 1389h0M263 1411h0M263 1415h0M263 1418h0M263 1422h0M263 1423h0M264 1383h0M264 1393h0M264 1404h0M264 1412h0M264 1413h0M264 1416h0M264 1417h0M264 1419h0M264 1420h0M264 1421h0M264 1422h0M264 1423h0M264 1424h0M265 1401h0M265 1405h0M265 1406h0M265 1408h0M265 1413h0M265 1416h0M265 1419h0M265 1420h0M265 1421h0M265 1423h0M266 1363h0M266 1365h0M266 1390h0M266 1392h0M266 1399h0M266 1403h0M266 1415h0M266 1416h0M266 1418h0M266 1420h0M266 1422h0M267 1388h0M267 1391h0M267 1392h0M267 1405h0M267 1407h0M267 1410h0M267 1417h0M267 1418h0M267 1419h0M267 1420h0M267 1421h0M268 1354h0M268 1389h0M268 1393h0M268 1399h0M268 1404h0M268 1407h0M268 1409h0M268 1414h0M268 1418h0M268 1419h0M269 1386h0M269 1390h0M269 1397h0M269 1401h0M269 1405h0M269 1412h0M269 1413h0M269 1414h0M269 1415h0M269 1416h0M269 1417h0M269 1419h0M269 1420h0M270 1387h0M270 1390h0M270 1391h0M270 1396h0M270 1399h0M270 1408h0M270 1410h0M270 1411h0M270 1414h0M270 1415h0M270 1416h0M270 1417h0M270 1418h0M270 1419h0M271 1297h0M271 1352h0M271 1385h0M271 1404h0M271 1405h0M271 1411h0M271 1412h0M271 1413h0M271 1417h0M271 1418h0M272 1374h0M272 1400h0M272 1403h0M272 1405h0M272 1407h0M272 1411h0M272 1412h0M272 1414h0M272 1415h0M272 1417h0M273 1375h0M273 1391h0M273 1402h0M273 1403h0M273 1405h0M273 1408h0M273 1412h0M273 1413h0M273 1414h0M273 1415h0M274 1394h0M274 1403h0M274 1406h0M274 1409h0M274 1411h0M274 1412h0M274 1413h0M274 1416h0M275 1360h0M275 1377h0M275 1391h0M275 1405h0M275 1408h0M275 1409h0M275 1411h0M275 1413h0M276 1352h0M276 1381h0M276 1393h0M276 1401h0M276 1409h0M276 1411h0M276 1412h0M276 1413h0M277 1384h0M277 1398h0M277 1401h0M277 1406h0M277 1411h0M277 1413h0M278 1371h0M278 1377h0M278 1379h0M278 1386h0M278 1392h0M278 1403h0M278 1405h0M278 1406h0M278 1410h0M278 1412h0M279 1298h0M279 1391h0M279 1397h0M279 1403h0M279 1405h0M279 1406h0M279 1408h0M279 1410h0M280 1329h0M280 1370h0M280 1382h0M280 1400h0M280 1402h0M280 1404h0M280 1405h0M280 1406h0M280 1409h0M280 1410h0M281 1403h0M281 1406h0M281 1407h0M281 1408h0M281 1409h0M282 1365h0M282 1390h0M282 1393h0M282 1396h0M282 1399h0M282 1404h0M282 1408h0M283 1380h0M283 1398h0M283 1404h0M283 1405h0M283 1406h0M283 1407h0M283 1408h0M284 1334h0M284 1363h0M284 1366h0M284 1389h0M284 1392h0M284 1393h0M284 1395h0M284 1397h0M284 1401h0M284 1403h0M284 1404h0M284 1405h0M284 1406h0M284 1407h0M284 1408h0M285 1388h0M285 1395h0M285 1400h0M285 1403h0M285 1405h0M285 1406h0M286 1374h0M286 1380h0M286 1394h0M286 1397h0M286 1401h0M286 1404h0M286 1405h0M287 1347h0M287 1356h0M287 1359h0M287 1381h0M287 1391h0M287 1395h0M287 1396h0M287 1398h0M287 1400h0M287 1401h0M287 1402h0M287 1405h0M288 1380h0M288 1381h0M288 1395h0M288 1396h0M288 1398h0M288 1402h0M289 1360h0M289 1367h0M289 1373h0M289 1377h0M289 1381h0M289 1383h0M289 1389h0M289 1391h0M289 1393h0M289 1395h0M289 1396h0M289 1397h0M289 1400h0M289 1401h0M289 1402h0M289 1403h0M289 1404h0M290 1343h0M290 1369h0M290 1370h0M290 1372h0M290 1390h0M290 1392h0M290 1394h0M290 1395h0M290 1396h0M290 1400h0M290 1401h0M290 1402h0M290 1403h0M291 1363h0M291 1368h0M291 1386h0M291 1387h0M291 1391h0M291 1394h0M291 1396h0M291 1401h0M292 1389h0M292 1399h0M293 1319h0M293 1328h0M293 1351h0M293 1383h0M293 1395h0M293 1398h0M293 1399h0M293 1400h0M294 1385h0M294 1388h0M294 1394h0M294 1395h0M294 1397h0M294 1398h0M295 1324h0M295 1344h0M295 1370h0M295 1380h0M295 1383h0M295 1387h0M295 1388h0M295 1393h0M295 1395h0M295 1397h0M296 1355h0M296 1365h0M296 1379h0M296 1383h0M296 1391h0M296 1395h0M296 1396h0M296 1397h0M297 1357h0M297 1375h0M297 1376h0M297 1386h0M297 1395h0M297 1397h0M298 1187h0M298 1260h0M298 1372h0M298 1373h0M298 1374h0M298 1385h0M298 1389h0M298 1390h0M298 1391h0M298 1392h0M298 1393h0M298 1396h0M299 1271h0M299 1383h0M299 1385h0M299 1387h0M299 1394h0M300 1362h0M300 1374h0M300 1376h0M300 1378h0M300 1383h0M300 1385h0M300 1386h0M300 1390h0M300 1392h0M300 1393h0M300 1394h0M301 1323h0M301 1352h0M301 1367h0M301 1373h0M301 1375h0M301 1380h0M301 1381h0M301 1385h0M301 1388h0M301 1390h0M301 1391h0M301 1393h0M301 1394h0M302 1358h0M302 1376h0M302 1379h0M302 1387h0M302 1388h0M302 1391h0M303 1349h0M303 1377h0M303 1378h0M303 1381h0M303 1385h0M303 1388h0M303 1391h0M304 1312h0M304 1363h0M304 1367h0M304 1371h0M304 1379h0M304 1381h0M304 1382h0M304 1383h0M304 1385h0M304 1386h0M304 1387h0M304 1389h0M304 1390h0M304 1391h0M305 1261h0M305 1364h0M305 1377h0M305 1379h0M305 1382h0M305 1384h0M305 1387h0M305 1388h0M305 1390h0M306 1366h0M306 1371h0M306 1376h0M306 1379h0M306 1384h0M306 1387h0M306 1388h0M306 1389h0M307 1354h0M307 1364h0M307 1374h0M307 1380h0M307 1383h0M307 1385h0M307 1388h0M307 1389h0M308 1374h0M308 1375h0M308 1377h0M308 1378h0M308 1379h0M308 1381h0M308 1384h0M308 1385h0M308 1386h0M308 1388h0M309 1360h0M309 1372h0M309 1376h0M309 1379h0M309 1380h0M309 1381h0M309 1383h0M310 1367h0M310 1374h0M310 1377h0M310 1378h0M310 1379h0M310 1380h0M310 1381h0M310 1382h0M310 1383h0M310 1384h0M310 1386h0M311 1374h0M311 1378h0M311 1379h0M311 1383h0M311 1384h0M312 1366h0M312 1367h0M312 1370h0M312 1379h0M313 1345h0M313 1366h0M313 1369h0M313 1378h0M313 1381h0M314 1354h0M314 1356h0M314 1366h0M314 1374h0M314 1375h0M314 1376h0M314 1379h0M314 1380h0M314 1381h0M314 1383h0M315 1372h0M315 1377h0M315 1379h0M315 1381h0M316 1343h0M316 1348h0M316 1352h0M316 1362h0M316 1366h0M316 1371h0M316 1372h0M316 1377h0M316 1380h0M317 1350h0M317 1361h0M317 1368h0M317 1377h0M318 1343h0M318 1345h0M318 1363h0M318 1365h0M318 1369h0M318 1376h0M318 1378h0M318 1379h0M319 1360h0M319 1371h0M319 1372h0M319 1373h0M319 1377h0M319 1378h0M319 1379h0M320 1322h0M320 1323h0M320 1348h0M320 1363h0M320 1364h0M320 1368h0M320 1369h0M320 1370h0M320 1374h0M320 1375h0M320 1376h0M320 1377h0M321 1369h0M321 1370h0M321 1372h0M321 1374h0M321 1376h0M322 1346h0M322 1355h0M322 1362h0M322 1365h0M322 1371h0M322 1372h0M322 1375h0M322 1377h0M323 1346h0M323 1347h0M323 1354h0M323 1358h0M323 1361h0M323 1367h0M323 1372h0M323 1376h0M324 1331h0M324 1350h0M324 1358h0M324 1360h0M324 1367h0M324 1368h0M324 1369h0M324 1370h0M324 1372h0M325 1339h0M325 1364h0M325 1365h0M325 1366h0M325 1373h0M325 1374h0M326 1347h0M326 1360h0M326 1361h0M326 1374h0M327 1313h0M327 1331h0M327 1346h0M327 1355h0M327 1363h0M327 1366h0M327 1370h0M328 1264h0M328 1273h0M328 1298h0M328 1339h0M328 1341h0M328 1344h0M328 1355h0M328 1358h0M328 1365h0M329 1330h0M329 1341h0M329 1347h0M329 1358h0M329 1369h0M329 1370h0M330 1350h0M330 1361h0M330 1363h0M330 1366h0M330 1369h0M331 1325h0M331 1332h0M331 1334h0M331 1347h0M331 1354h0M331 1361h0M331 1364h0M331 1365h0M331 1369h0M332 1322h0M332 1358h0M332 1361h0M332 1364h0M332 1367h0M333 1250h0M333 1357h0M333 1358h0M333 1360h0M333 1361h0M333 1363h0M333 1364h0M334 1334h0M334 1340h0M334 1349h0M334 1350h0M334 1353h0M334 1355h0M334 1360h0M334 1363h0M334 1365h0M334 1366h0M335 1311h0M335 1334h0M335 1343h0M335 1346h0M335 1350h0M335 1354h0M335 1358h0M335 1362h0M335 1364h0M335 1366h0M336 1341h0M336 1354h0M336 1355h0M336 1358h0M336 1361h0M336 1364h0M336 1365h0M337 1333h0M337 1353h0M337 1354h0M337 1358h0M337 1362h0M337 1363h0M338 1277h0M338 1326h0M338 1341h0M338 1344h0M338 1354h0M338 1355h0M338 1359h0M338 1363h0M338 1364h0M339 1250h0M339 1325h0M339 1326h0M339 1334h0M339 1349h0M339 1352h0M339 1356h0M339 1358h0M339 1361h0M340 1333h0M340 1347h0M340 1349h0M340 1358h0M340 1360h0M340 1362h0M341 1282h0M341 1338h0M341 1344h0M341 1352h0M341 1353h0M341 1357h0M341 1360h0M342 1326h0M342 1335h0M342 1346h0M342 1356h0M342 1360h0M343 1322h0M343 1325h0M343 1333h0M343 1336h0M343 1344h0M343 1353h0M343 1355h0M343 1356h0M343 1359h0M344 1323h0M344 1336h0M344 1338h0M344 1347h0M344 1351h0M344 1354h0M344 1356h0M344 1357h0M344 1358h0M345 1308h0M345 1320h0M345 1355h0M346 1310h0M346 1313h0M346 1321h0M346 1324h0M346 1335h0M346 1336h0M346 1343h0M346 1351h0M347 1313h0M347 1353h0M347 1356h0M348 1264h0M348 1284h0M348 1327h0M348 1338h0M348 1347h0M348 1349h0M348 1350h0M349 1282h0M349 1314h0M349 1317h0M349 1328h0M349 1334h0M349 1342h0M349 1345h0M349 1350h0M349 1351h0M349 1355h0M350 1258h0M350 1347h0M350 1350h0M350 1351h0M350 1353h0M350 1354h0M351 1291h0M351 1303h0M351 1322h0M351 1325h0M351 1339h0M351 1340h0M352 1344h0M352 1346h0M352 1347h0M352 1348h0M352 1349h0M352 1352h0M353 1309h0M353 1340h0M353 1342h0M353 1344h0M353 1345h0M353 1348h0M353 1351h0M354 1271h0M354 1344h0M354 1345h0M354 1347h0M354 1349h0M355 1264h0M355 1335h0M355 1337h0M355 1344h0M355 1347h0M356 1312h0M356 1313h0M356 1338h0M356 1345h0M357 1239h0M357 1307h0M357 1346h0M358 1322h0M358 1335h0M358 1341h0M358 1342h0M358 1344h0M358 1346h0M359 1290h0M359 1306h0M359 1322h0M360 1300h0M360 1340h0M360 1342h0M360 1345h0M360 1346h0M361 1317h0M361 1318h0M361 1329h0M361 1337h0M361 1342h0M362 1317h0M362 1326h0M362 1341h0M363 1281h0M363 1298h0M363 1336h0M364 1324h0M364 1326h0M364 1334h0M364 1336h0M364 1337h0M365 1316h0M365 1333h0M365 1336h0M366 1258h0M366 1320h0M366 1321h0M366 1322h0M366 1323h0M366 1325h0M366 1327h0M366 1328h0M366 1338h0M366 1340h0M367 1293h0M367 1310h0M367 1320h0M367 1332h0M368 1313h0M368 1330h0M368 1333h0M369 1296h0M369 1318h0M369 1324h0M369 1335h0M369 1336h0M369 1338h0M370 1327h0M370 1329h0M370 1332h0M370 1334h0M370 1335h0M371 1326h0M371 1333h0M371 1336h0M372 1293h0M372 1299h0M372 1309h0M372 1328h0M372 1334h0M373 1292h0M373 1318h0M373 1331h0M374 1308h0M374 1316h0M374 1325h0M374 1329h0M375 1284h0M375 1331h0M375 1332h0M376 1309h0M376 1323h0M377 1313h0M377 1319h0M378 1300h0M378 1302h0M378 1323h0M379 1237h0M379 1300h0M379 1310h0M379 1321h0M379 1322h0M379 1324h0M379 1328h0M380 1308h0M381 1251h0M381 1296h0M381 1299h0M381 1308h0M382 1306h0M382 1309h0M382 1310h0M382 1327h0M383 1298h0M383 1317h0M383 1318h0M383 1323h0M383 1325h0M383 1326h0M384 1305h0M384 1317h0M384 1321h0M384 1326h0M385 1257h0M385 1271h0M385 1291h0M385 1318h0M386 1300h0M386 1301h0M386 1308h0M386 1313h0M386 1314h0M386 1315h0M386 1318h0M386 1319h0M387 1318h0M388 1296h0M388 1310h0M388 1320h0M388 1322h0M389 1272h0M389 1295h0M389 1305h0M389 1320h0M389 1321h0M390 1269h0M390 1296h0M390 1307h0M390 1318h0M391 1306h0M391 1307h0M391 1314h0M391 1321h0M392 1267h0M392 1270h0M392 1289h0M392 1290h0M392 1312h0M392 1315h0M392 1320h0M393 1283h0M393 1291h0M393 1303h0M393 1306h0M393 1307h0M393 1311h0M393 1313h0M394 1283h0M394 1294h0M394 1303h0M394 1313h0M394 1316h0M394 1317h0M395 1301h0M395 1312h0M396 1296h0M396 1301h0M396 1307h0M397 1262h0M397 1281h0M397 1286h0M397 1292h0M397 1302h0M397 1312h0M397 1314h0M398 1298h0M398 1300h0M398 1302h0M398 1308h0M398 1314h0M398 1315h0M399 1273h0M399 1281h0M399 1306h0M399 1309h0M399 1312h0M400 1287h0M400 1293h0M400 1308h0M400 1312h0M401 1299h0M401 1303h0M401 1307h0M401 1312h0M401 1313h0M402 1308h0M402 1311h0M402 1312h0M403 1294h0M403 1299h0M403 1300h0M403 1306h0M403 1310h0M404 1280h0M404 1283h0M405 1282h0M405 1284h0M405 1286h0M405 1307h0M405 1309h0M406 1274h0M406 1289h0M406 1292h0M406 1294h0M406 1295h0M406 1299h0M406 1302h0M406 1305h0M406 1307h0M407 1288h0M407 1290h0M407 1296h0M407 1300h0M407 1308h0M408 1283h0M408 1297h0M408 1302h0M408 1304h0M408 1307h0M409 1296h0M409 1302h0M409 1305h0M410 1234h0M410 1292h0M410 1293h0M410 1294h0M410 1305h0M411 1276h0M411 1277h0M411 1282h0M411 1284h0M411 1290h0M411 1297h0M412 1262h0M412 1280h0M412 1281h0M412 1282h0M412 1286h0M412 1293h0M412 1296h0M412 1298h0M413 1285h0M413 1292h0M413 1299h0M413 1302h0M414 1286h0M414 1291h0M414 1294h0M414 1299h0M414 1300h0M415 1271h0M415 1280h0M415 1290h0M416 1270h0M416 1278h0M416 1280h0M416 1284h0M416 1293h0M416 1300h0M417 1275h0M417 1292h0M418 1265h0M418 1284h0M418 1286h0M418 1290h0M419 1297h0M421 1287h0M422 1286h0M423 1246h0M423 1285h0M423 1290h0M423 1291h0M423 1294h0M424 1276h0M424 1285h0M424 1286h0M425 1289h0M425 1291h0M426 1280h0M427 1238h0M427 1288h0M427 1291h0M427 1292h0M429 1279h0M429 1282h0M431 1250h0M431 1278h0M434 1272h0M435 1278h0M442 1265h0M447 1270h0M463 1261h0M465 1235h0M465 1255h0M467 1227h0M472 1228h0M472 1248h0M477 1220h0M479 1232h0M481 1245h0M483 1225h0M487 1232h0M487 1233h0M490 1208h0M491 1228h0M493 1237h0M496 1222h0M508 1203h0M516 1195h0M517 1190h0M525 1210h0M527 1196h0M532 1178h0M533 1200h0M537 1179h0M546 1188h0M546 1192h0M547 1176h0M555 1128h0M566 1178h0M570 1120h0M571 1137h0M577 1163h0M582 1144h0M583 1160h0M588 1128h0M588 1130h0M615 1109h0M616 1135h0" stroke="#8fe2e6" stroke-width="3.8" stroke-linecap="square" fill="none"/>
<path transform="scale(0.5)" d="M176 1496h0M178 1495h0M178 1497h0M178 1498h0M179 1493h0M179 1495h0M179 1500h0M180 1493h0M180 1494h0M180 1495h0M180 1498h0M180 1499h0M180 1501h0M181 1491h0M181 1492h0M181 1493h0M181 1494h0M181 1495h0M181 1496h0M181 1499h0M182 1490h0M182 1491h0M182 1493h0M182 1494h0M182 1495h0M183 1490h0M183 1491h0M183 1492h0M184 1489h0M184 1490h0M184 1491h0M184 1498h0M184 1499h0M184 1502h0M185 1489h0M185 1490h0M185 1496h0M186 1487h0M186 1488h0M186 1489h0M186 1490h0M186 1491h0M186 1492h0M187 1488h0M187 1489h0M187 1493h0M188 1486h0M188 1487h0M188 1488h0M188 1490h0M188 1491h0M188 1494h0M188 1498h0M189 1486h0M189 1487h0M189 1488h0M189 1489h0M189 1490h0M189 1494h0M189 1497h0M189 1498h0M189 1499h0M189 1501h0M190 1484h0M190 1485h0M190 1488h0M190 1489h0M190 1490h0M190 1491h0M190 1492h0M190 1496h0M191 1484h0M191 1485h0M191 1486h0M191 1487h0M191 1488h0M191 1491h0M191 1492h0M192 1483h0M192 1484h0M192 1486h0M192 1487h0M192 1488h0M192 1490h0M192 1495h0M192 1496h0M193 1482h0M193 1483h0M193 1484h0M193 1486h0M193 1489h0M194 1481h0M194 1482h0M194 1483h0M194 1484h0M194 1485h0M194 1489h0M194 1490h0M194 1491h0M194 1492h0M194 1493h0M195 1480h0M195 1481h0M195 1482h0M195 1483h0M195 1484h0M195 1487h0M196 1480h0M196 1481h0M196 1482h0M196 1485h0M196 1488h0M196 1489h0M196 1490h0M196 1491h0M196 1493h0M197 1479h0M197 1481h0M197 1492h0M197 1493h0M198 1479h0M198 1482h0M198 1483h0M198 1486h0M198 1487h0M198 1493h0M199 1477h0M199 1480h0M199 1481h0M199 1482h0M199 1485h0M199 1489h0M199 1490h0M199 1493h0M200 1478h0M200 1481h0M200 1490h0M201 1476h0M201 1477h0M201 1480h0M201 1482h0M201 1484h0M201 1494h0M202 1474h0M202 1475h0M202 1476h0M202 1477h0M202 1478h0M202 1480h0M202 1481h0M202 1490h0M203 1474h0M203 1477h0M203 1479h0M203 1482h0M204 1475h0M204 1478h0M204 1487h0M205 1472h0M205 1473h0M205 1475h0M205 1477h0M205 1478h0M205 1481h0M205 1482h0M205 1498h0M206 1471h0M206 1473h0M206 1474h0M206 1475h0M206 1476h0M206 1480h0M207 1471h0M207 1472h0M207 1473h0M207 1476h0M207 1480h0M207 1482h0M207 1486h0M207 1499h0M208 1470h0M208 1472h0M208 1473h0M208 1474h0M208 1476h0M208 1478h0M208 1480h0M208 1483h0M208 1508h0M209 1468h0M209 1469h0M209 1470h0M209 1473h0M209 1476h0M209 1479h0M209 1484h0M210 1468h0M210 1470h0M210 1471h0M210 1472h0M210 1477h0M210 1484h0M210 1500h0M211 1472h0M211 1473h0M212 1467h0M212 1469h0M212 1470h0M212 1472h0M212 1473h0M213 1467h0M213 1472h0M213 1473h0M213 1476h0M214 1465h0M214 1466h0M214 1467h0M214 1468h0M214 1477h0M215 1464h0M215 1465h0M215 1466h0M215 1467h0M215 1468h0M215 1469h0M215 1470h0M215 1471h0M215 1473h0M215 1482h0M216 1463h0M216 1465h0M216 1471h0M216 1472h0M216 1474h0M216 1478h0M217 1463h0M217 1468h0M217 1472h0M218 1462h0M218 1463h0M218 1471h0M218 1479h0M219 1465h0M219 1474h0M219 1475h0M220 1460h0M220 1461h0M220 1469h0M221 1460h0M221 1462h0M221 1465h0M221 1466h0M221 1467h0M222 1458h0M222 1460h0M222 1461h0M222 1462h0M222 1463h0M222 1465h0M223 1458h0M223 1460h0M223 1461h0M223 1462h0M223 1465h0M223 1467h0M223 1472h0M223 1475h0M224 1459h0M224 1462h0M225 1456h0M225 1458h0M225 1460h0M225 1470h0M225 1478h0M226 1455h0M226 1456h0M226 1457h0M226 1468h0M226 1471h0M226 1475h0M227 1455h0M227 1456h0M227 1457h0M227 1459h0M227 1460h0M227 1461h0M227 1462h0M227 1463h0M227 1464h0M228 1453h0M228 1454h0M228 1456h0M228 1457h0M228 1458h0M228 1486h0M229 1453h0M229 1454h0M229 1458h0M229 1459h0M229 1460h0M229 1463h0M229 1464h0M229 1475h0M229 1483h0M230 1452h0M230 1453h0M230 1454h0M230 1455h0M230 1456h0M230 1458h0M230 1459h0M230 1481h0M231 1451h0M231 1452h0M231 1453h0M231 1459h0M231 1463h0M231 1467h0M231 1475h0M231 1480h0M231 1482h0M232 1450h0M232 1452h0M232 1454h0M232 1456h0M232 1457h0M232 1460h0M232 1464h0M232 1471h0M232 1476h0M233 1449h0M233 1452h0M233 1453h0M233 1458h0M233 1460h0M233 1461h0M233 1463h0M233 1476h0M233 1489h0M233 1504h0M234 1449h0M234 1452h0M234 1456h0M234 1457h0M234 1464h0M234 1469h0M234 1490h0M235 1448h0M235 1449h0M235 1453h0M235 1454h0M235 1458h0M235 1459h0M235 1464h0M236 1446h0M236 1448h0M236 1449h0M236 1450h0M236 1451h0M236 1455h0M236 1461h0M236 1469h0M237 1448h0M237 1450h0M237 1452h0M237 1509h0M238 1445h0M238 1448h0M238 1451h0M238 1452h0M238 1453h0M238 1462h0M238 1466h0M238 1478h0M238 1483h0M239 1445h0M239 1446h0M239 1447h0M239 1450h0M239 1451h0M239 1454h0M239 1456h0M239 1487h0M240 1446h0M240 1447h0M240 1449h0M240 1451h0M240 1452h0M240 1453h0M240 1458h0M240 1480h0M241 1443h0M241 1444h0M241 1447h0M241 1449h0M241 1450h0M241 1451h0M241 1452h0M241 1454h0M241 1456h0M241 1457h0M241 1474h0M241 1514h0M242 1442h0M242 1444h0M242 1445h0M242 1446h0M242 1447h0M242 1450h0M242 1453h0M243 1454h0M243 1458h0M243 1465h0M243 1490h0M243 1493h0M244 1440h0M244 1441h0M244 1443h0M244 1444h0M244 1445h0M244 1447h0M244 1449h0M244 1451h0M244 1455h0M244 1466h0M245 1439h0M245 1440h0M245 1441h0M245 1442h0M245 1443h0M245 1449h0M245 1450h0M245 1454h0M246 1439h0M246 1440h0M246 1442h0M246 1444h0M246 1450h0M246 1462h0M246 1471h0M247 1439h0M247 1440h0M247 1441h0M247 1443h0M247 1446h0M247 1447h0M247 1450h0M247 1457h0M247 1458h0M247 1500h0M248 1438h0M248 1439h0M248 1440h0M248 1441h0M248 1442h0M248 1444h0M248 1445h0M249 1439h0M249 1441h0M249 1442h0M249 1451h0M249 1465h0M250 1438h0M250 1440h0M250 1441h0M250 1442h0M250 1443h0M250 1445h0M250 1483h0M251 1435h0M251 1437h0M251 1438h0M251 1441h0M251 1442h0M251 1443h0M251 1444h0M251 1445h0M251 1448h0M251 1450h0M251 1468h0M251 1486h0M252 1435h0M252 1442h0M252 1444h0M252 1446h0M252 1449h0M252 1450h0M252 1452h0M253 1435h0M253 1436h0M253 1440h0M253 1447h0M253 1458h0M254 1432h0M254 1433h0M254 1435h0M254 1436h0M254 1437h0M254 1445h0M255 1433h0M255 1435h0M255 1441h0M255 1442h0M255 1490h0M256 1431h0M256 1432h0M256 1433h0M256 1434h0M256 1435h0M256 1446h0M256 1447h0M257 1430h0M257 1432h0M257 1434h0M257 1438h0M257 1440h0M257 1447h0M257 1450h0M257 1453h0M257 1477h0M258 1429h0M258 1430h0M258 1432h0M258 1433h0M258 1442h0M258 1446h0M258 1449h0M258 1467h0M259 1429h0M259 1430h0M259 1433h0M259 1439h0M259 1441h0M259 1450h0M260 1428h0M260 1430h0M260 1433h0M260 1434h0M260 1436h0M260 1439h0M260 1441h0M260 1443h0M260 1459h0M260 1482h0M261 1427h0M261 1428h0M261 1431h0M261 1438h0M261 1440h0M262 1427h0M262 1428h0M262 1432h0M262 1442h0M262 1446h0M262 1447h0M262 1462h0M263 1425h0M263 1426h0M263 1427h0M263 1428h0M263 1429h0M263 1431h0M263 1432h0M263 1438h0M263 1443h0M264 1426h0M264 1428h0M264 1429h0M264 1431h0M264 1432h0M264 1434h0M264 1436h0M264 1437h0M264 1451h0M265 1425h0M265 1426h0M265 1427h0M265 1429h0M265 1432h0M265 1433h0M265 1435h0M265 1436h0M265 1438h0M265 1441h0M265 1445h0M266 1423h0M266 1426h0M266 1428h0M266 1432h0M266 1433h0M266 1434h0M267 1422h0M267 1423h0M267 1424h0M267 1425h0M267 1426h0M267 1431h0M267 1435h0M267 1439h0M267 1444h0M267 1450h0M267 1457h0M268 1427h0M268 1430h0M268 1440h0M268 1452h0M268 1453h0M268 1458h0M269 1421h0M269 1422h0M269 1425h0M269 1426h0M269 1427h0M269 1429h0M269 1432h0M269 1433h0M269 1445h0M270 1419h0M270 1420h0M270 1422h0M270 1425h0M270 1426h0M270 1427h0M270 1428h0M270 1432h0M270 1435h0M270 1445h0M270 1463h0M271 1420h0M271 1421h0M271 1428h0M272 1417h0M272 1420h0M272 1422h0M272 1423h0M272 1436h0M273 1418h0M273 1419h0M273 1420h0M273 1421h0M273 1425h0M273 1427h0M273 1428h0M273 1431h0M274 1416h0M274 1419h0M274 1424h0M274 1425h0M274 1430h0M274 1444h0M275 1417h0M275 1418h0M275 1419h0M275 1422h0M275 1427h0M275 1429h0M275 1439h0M275 1482h0M276 1419h0M276 1420h0M276 1424h0M276 1428h0M276 1430h0M276 1436h0M276 1452h0M277 1415h0M277 1418h0M277 1420h0M277 1439h0M277 1450h0M278 1414h0M278 1415h0M278 1416h0M278 1421h0M278 1423h0M278 1432h0M278 1440h0M278 1451h0M279 1412h0M279 1413h0M279 1414h0M279 1416h0M279 1418h0M279 1420h0M279 1427h0M279 1430h0M279 1431h0M279 1470h0M280 1411h0M280 1412h0M280 1413h0M280 1414h0M280 1420h0M280 1423h0M281 1416h0M281 1417h0M281 1419h0M281 1420h0M281 1428h0M282 1410h0M282 1411h0M282 1416h0M282 1417h0M282 1419h0M282 1420h0M282 1427h0M282 1428h0M282 1429h0M283 1411h0M283 1412h0M283 1413h0M283 1415h0M283 1417h0M283 1424h0M283 1425h0M283 1426h0M283 1433h0M283 1465h0M284 1408h0M284 1410h0M284 1412h0M284 1413h0M284 1420h0M284 1431h0M285 1409h0M285 1410h0M285 1411h0M285 1413h0M285 1419h0M285 1421h0M285 1425h0M285 1442h0M286 1406h0M286 1407h0M286 1408h0M286 1411h0M286 1412h0M286 1414h0M286 1417h0M286 1420h0M286 1422h0M286 1423h0M286 1426h0M286 1483h0M287 1405h0M287 1406h0M287 1408h0M287 1409h0M287 1413h0M287 1416h0M287 1418h0M287 1424h0M287 1427h0M288 1407h0M288 1409h0M288 1414h0M288 1417h0M288 1424h0M289 1404h0M289 1405h0M289 1407h0M289 1409h0M289 1410h0M289 1413h0M289 1416h0M289 1428h0M289 1481h0M290 1403h0M290 1405h0M290 1406h0M290 1407h0M290 1412h0M290 1414h0M291 1402h0M291 1403h0M291 1404h0M291 1406h0M291 1407h0M291 1428h0M292 1401h0M292 1404h0M292 1405h0M292 1406h0M292 1407h0M292 1409h0M292 1411h0M292 1412h0M292 1415h0M292 1420h0M292 1427h0M292 1435h0M293 1401h0M293 1402h0M293 1405h0M293 1407h0M293 1408h0M293 1411h0M293 1418h0M293 1422h0M294 1400h0M294 1402h0M294 1407h0M294 1409h0M294 1417h0M295 1400h0M295 1404h0M295 1405h0M295 1407h0M295 1412h0M295 1421h0M295 1422h0M295 1432h0M296 1399h0M296 1401h0M296 1402h0M296 1405h0M296 1406h0M296 1409h0M296 1412h0M296 1414h0M296 1415h0M296 1431h0M296 1447h0M296 1448h0M297 1398h0M297 1399h0M297 1400h0M297 1403h0M297 1404h0M297 1405h0M297 1407h0M297 1411h0M297 1413h0M297 1417h0M297 1418h0M297 1432h0M298 1397h0M298 1398h0M298 1399h0M298 1400h0M298 1406h0M298 1410h0M298 1421h0M298 1427h0M298 1436h0M299 1398h0M299 1400h0M299 1407h0M299 1415h0M299 1418h0M299 1423h0M299 1426h0M299 1448h0M300 1395h0M300 1397h0M300 1398h0M300 1404h0M300 1405h0M300 1410h0M300 1415h0M300 1422h0M301 1395h0M301 1397h0M301 1398h0M301 1400h0M301 1401h0M301 1402h0M301 1403h0M301 1445h0M302 1394h0M302 1395h0M302 1400h0M302 1401h0M302 1404h0M302 1420h0M303 1394h0M303 1401h0M303 1404h0M303 1406h0M303 1412h0M304 1393h0M304 1395h0M304 1397h0M304 1398h0M304 1399h0M304 1400h0M304 1405h0M304 1406h0M304 1414h0M304 1458h0M305 1393h0M305 1394h0M305 1395h0M305 1397h0M305 1398h0M305 1403h0M305 1412h0M305 1425h0M305 1445h0M306 1390h0M306 1391h0M306 1392h0M306 1394h0M306 1395h0M306 1398h0M306 1401h0M306 1403h0M306 1404h0M306 1406h0M306 1407h0M306 1416h0M307 1392h0M307 1395h0M307 1405h0M307 1407h0M307 1415h0M307 1416h0M307 1459h0M307 1507h0M308 1389h0M308 1391h0M308 1392h0M308 1393h0M308 1395h0M308 1396h0M308 1397h0M308 1398h0M308 1414h0M308 1416h0M309 1389h0M309 1393h0M309 1394h0M309 1397h0M309 1405h0M309 1406h0M309 1439h0M309 1440h0M310 1387h0M310 1389h0M310 1393h0M310 1395h0M310 1396h0M310 1399h0M310 1406h0M310 1410h0M310 1442h0M311 1387h0M311 1388h0M311 1390h0M311 1391h0M311 1392h0M311 1394h0M311 1396h0M311 1397h0M311 1398h0M311 1402h0M311 1417h0M311 1418h0M311 1435h0M311 1493h0M312 1388h0M312 1390h0M312 1392h0M312 1393h0M312 1397h0M312 1401h0M312 1402h0M312 1403h0M312 1422h0M312 1425h0M313 1387h0M313 1391h0M313 1392h0M313 1393h0M313 1395h0M313 1396h0M313 1397h0M313 1403h0M314 1385h0M314 1386h0M314 1387h0M314 1389h0M314 1390h0M314 1393h0M314 1401h0M314 1403h0M315 1384h0M315 1385h0M315 1390h0M315 1395h0M315 1397h0M315 1403h0M315 1404h0M316 1384h0M316 1385h0M316 1387h0M316 1388h0M316 1397h0M316 1406h0M316 1408h0M316 1415h0M317 1382h0M317 1383h0M317 1384h0M317 1389h0M317 1398h0M317 1400h0M317 1403h0M317 1417h0M317 1453h0M318 1381h0M318 1383h0M318 1384h0M318 1402h0M319 1381h0M319 1383h0M319 1384h0M319 1390h0M319 1391h0M319 1403h0M319 1420h0M319 1475h0M320 1379h0M320 1381h0M320 1384h0M320 1386h0M320 1387h0M320 1388h0M320 1390h0M320 1391h0M320 1405h0M320 1435h0M321 1383h0M321 1385h0M321 1388h0M321 1396h0M321 1400h0M321 1401h0M321 1409h0M321 1416h0M321 1435h0M321 1439h0M322 1377h0M322 1378h0M322 1394h0M322 1407h0M322 1433h0M323 1376h0M323 1380h0M323 1384h0M323 1385h0M323 1394h0M323 1398h0M323 1409h0M323 1422h0M324 1377h0M324 1378h0M324 1383h0M324 1386h0M324 1389h0M324 1393h0M324 1398h0M324 1409h0M324 1411h0M324 1416h0M325 1376h0M325 1377h0M325 1382h0M325 1385h0M325 1386h0M325 1395h0M326 1375h0M326 1376h0M326 1382h0M326 1388h0M326 1390h0M326 1397h0M326 1404h0M326 1419h0M327 1374h0M327 1376h0M327 1378h0M327 1380h0M327 1381h0M327 1393h0M327 1399h0M327 1407h0M327 1425h0M327 1427h0M328 1373h0M328 1379h0M328 1380h0M328 1382h0M328 1385h0M328 1388h0M328 1389h0M328 1390h0M328 1394h0M328 1426h0M329 1371h0M329 1376h0M329 1377h0M329 1380h0M329 1383h0M329 1395h0M329 1402h0M329 1424h0M330 1371h0M330 1372h0M330 1375h0M330 1378h0M330 1383h0M330 1386h0M330 1388h0M330 1389h0M330 1400h0M330 1431h0M331 1370h0M331 1371h0M331 1373h0M331 1379h0M331 1383h0M331 1386h0M331 1418h0M332 1369h0M332 1370h0M332 1371h0M332 1372h0M332 1374h0M332 1377h0M332 1379h0M332 1385h0M332 1386h0M332 1392h0M332 1395h0M332 1416h0M333 1368h0M333 1373h0M333 1376h0M333 1378h0M333 1409h0M334 1371h0M334 1374h0M334 1377h0M334 1381h0M334 1385h0M334 1388h0M334 1414h0M334 1421h0M334 1439h0M335 1368h0M335 1373h0M335 1377h0M335 1385h0M335 1396h0M335 1417h0M335 1431h0M335 1453h0M336 1366h0M336 1367h0M336 1368h0M336 1369h0M336 1371h0M336 1374h0M336 1380h0M336 1382h0M336 1387h0M336 1389h0M336 1427h0M336 1494h0M337 1365h0M337 1369h0M337 1370h0M337 1373h0M337 1400h0M337 1408h0M338 1366h0M338 1367h0M338 1372h0M338 1399h0M338 1404h0M338 1419h0M338 1431h0M338 1436h0M339 1366h0M339 1375h0M339 1376h0M339 1377h0M339 1378h0M339 1386h0M339 1393h0M339 1398h0M339 1435h0M340 1366h0M340 1369h0M340 1370h0M340 1385h0M340 1406h0M341 1367h0M341 1368h0M341 1371h0M341 1373h0M341 1375h0M341 1395h0M342 1364h0M342 1366h0M342 1368h0M342 1373h0M342 1390h0M343 1360h0M343 1363h0M343 1367h0M343 1368h0M343 1373h0M343 1375h0M343 1377h0M343 1383h0M343 1390h0M343 1397h0M344 1366h0M344 1369h0M344 1370h0M344 1372h0M344 1379h0M344 1399h0M345 1360h0M345 1368h0M345 1377h0M345 1378h0M345 1395h0M345 1411h0M345 1420h0M346 1358h0M346 1359h0M346 1362h0M346 1365h0M346 1385h0M346 1387h0M346 1472h0M347 1360h0M347 1361h0M347 1373h0M347 1376h0M347 1391h0M347 1415h0M348 1357h0M348 1358h0M348 1359h0M348 1364h0M348 1382h0M348 1405h0M348 1416h0M349 1359h0M349 1363h0M349 1364h0M349 1371h0M349 1377h0M349 1378h0M349 1390h0M350 1355h0M350 1361h0M350 1364h0M350 1375h0M350 1391h0M351 1356h0M351 1359h0M351 1361h0M351 1369h0M351 1370h0M351 1372h0M351 1387h0M352 1353h0M352 1354h0M352 1360h0M352 1361h0M352 1364h0M352 1367h0M352 1370h0M352 1378h0M352 1388h0M353 1352h0M353 1365h0M353 1366h0M353 1376h0M353 1386h0M353 1398h0M354 1355h0M354 1358h0M354 1370h0M354 1376h0M354 1384h0M354 1398h0M354 1474h0M355 1355h0M355 1357h0M355 1361h0M355 1375h0M355 1387h0M355 1403h0M356 1351h0M356 1354h0M356 1365h0M356 1366h0M356 1375h0M356 1380h0M356 1391h0M356 1422h0M357 1352h0M357 1353h0M357 1354h0M357 1356h0M357 1359h0M357 1368h0M357 1370h0M358 1348h0M358 1349h0M358 1350h0M358 1353h0M358 1357h0M358 1358h0M358 1365h0M358 1385h0M358 1412h0M359 1348h0M359 1349h0M359 1352h0M359 1355h0M359 1357h0M359 1361h0M359 1418h0M360 1347h0M360 1348h0M360 1349h0M360 1355h0M360 1356h0M360 1357h0M360 1361h0M360 1362h0M360 1372h0M360 1380h0M360 1402h0M360 1414h0M361 1349h0M361 1350h0M361 1351h0M361 1357h0M361 1358h0M361 1366h0M361 1372h0M361 1381h0M362 1347h0M362 1351h0M362 1354h0M362 1364h0M362 1367h0M362 1415h0M363 1353h0M363 1360h0M363 1387h0M363 1395h0M363 1397h0M363 1410h0M363 1451h0M364 1343h0M364 1349h0M364 1354h0M364 1363h0M364 1378h0M365 1345h0M365 1348h0M365 1359h0M365 1372h0M365 1407h0M365 1438h0M366 1343h0M366 1346h0M366 1347h0M366 1349h0M366 1351h0M366 1353h0M366 1355h0M366 1358h0M367 1341h0M367 1345h0M367 1347h0M367 1363h0M367 1369h0M367 1383h0M367 1392h0M367 1463h0M368 1340h0M368 1343h0M368 1350h0M368 1352h0M368 1354h0M368 1355h0M368 1358h0M368 1359h0M368 1375h0M369 1343h0M369 1345h0M369 1348h0M369 1352h0M369 1354h0M369 1368h0M369 1388h0M369 1461h0M370 1339h0M370 1348h0M370 1349h0M370 1357h0M370 1358h0M370 1368h0M370 1369h0M371 1342h0M371 1344h0M372 1338h0M372 1341h0M372 1344h0M372 1345h0M372 1347h0M372 1348h0M372 1351h0M372 1356h0M372 1361h0M372 1378h0M373 1341h0M373 1348h0M373 1370h0M373 1374h0M374 1335h0M374 1336h0M374 1339h0M374 1350h0M374 1385h0M374 1426h0M375 1334h0M375 1335h0M375 1337h0M375 1338h0M375 1344h0M375 1347h0M375 1354h0M375 1357h0M375 1366h0M375 1453h0M376 1334h0M376 1350h0M376 1357h0M376 1421h0M377 1336h0M377 1340h0M377 1344h0M377 1345h0M377 1361h0M377 1403h0M378 1333h0M378 1334h0M378 1339h0M378 1346h0M378 1353h0M378 1355h0M379 1335h0M379 1337h0M379 1342h0M379 1343h0M379 1358h0M379 1360h0M380 1332h0M380 1344h0M380 1349h0M381 1331h0M381 1336h0M381 1338h0M381 1340h0M381 1342h0M381 1358h0M381 1374h0M382 1331h0M382 1337h0M382 1339h0M382 1345h0M382 1369h0M383 1327h0M383 1329h0M383 1337h0M383 1348h0M383 1356h0M383 1422h0M384 1344h0M385 1327h0M385 1331h0M385 1335h0M385 1336h0M385 1339h0M385 1343h0M385 1347h0M385 1354h0M385 1365h0M385 1399h0M386 1327h0M386 1332h0M386 1334h0M386 1340h0M386 1351h0M386 1361h0M386 1363h0M386 1372h0M387 1325h0M387 1326h0M387 1327h0M387 1335h0M387 1340h0M387 1346h0M387 1373h0M388 1327h0M388 1329h0M388 1332h0M388 1333h0M388 1345h0M388 1358h0M389 1325h0M389 1326h0M389 1328h0M389 1330h0M389 1332h0M389 1337h0M389 1341h0M389 1344h0M389 1345h0M389 1352h0M389 1358h0M389 1391h0M389 1457h0M390 1332h0M390 1333h0M390 1335h0M390 1341h0M390 1342h0M390 1350h0M391 1321h0M391 1324h0M391 1327h0M391 1330h0M391 1331h0M391 1339h0M391 1422h0M392 1322h0M393 1326h0M393 1361h0M393 1409h0M394 1319h0M394 1321h0M394 1324h0M394 1340h0M394 1344h0M395 1320h0M395 1356h0M395 1453h0M396 1320h0M396 1323h0M396 1344h0M396 1346h0M396 1358h0M396 1359h0M396 1360h0M397 1329h0M397 1344h0M397 1346h0M397 1382h0M397 1437h0M398 1321h0M398 1322h0M398 1324h0M398 1325h0M398 1372h0M398 1453h0M399 1314h0M399 1319h0M399 1321h0M399 1333h0M399 1355h0M400 1314h0M400 1315h0M400 1332h0M400 1339h0M400 1349h0M401 1317h0M401 1320h0M401 1324h0M401 1325h0M401 1329h0M401 1348h0M401 1375h0M401 1386h0M402 1333h0M402 1348h0M402 1355h0M403 1314h0M403 1321h0M403 1369h0M404 1312h0M404 1327h0M404 1329h0M404 1336h0M404 1340h0M405 1312h0M405 1318h0M405 1321h0M405 1322h0M405 1327h0M405 1342h0M405 1344h0M405 1367h0M406 1311h0M406 1314h0M406 1350h0M407 1310h0M407 1323h0M407 1338h0M407 1348h0M407 1358h0M407 1376h0M408 1344h0M409 1310h0M409 1323h0M409 1324h0M410 1307h0M410 1320h0M410 1348h0M411 1305h0M411 1321h0M411 1322h0M411 1324h0M412 1305h0M412 1311h0M412 1314h0M412 1378h0M413 1318h0M413 1332h0M414 1304h0M414 1311h0M414 1332h0M415 1302h0M415 1310h0M415 1320h0M415 1330h0M416 1304h0M416 1315h0M416 1333h0M417 1306h0M417 1316h0M417 1317h0M417 1324h0M417 1344h0M418 1312h0M418 1325h0M418 1331h0M418 1336h0M419 1311h0M419 1317h0M421 1299h0M421 1300h0M421 1302h0M421 1308h0M421 1311h0M421 1359h0M421 1366h0M422 1301h0M422 1303h0M422 1313h0M422 1336h0M422 1381h0M423 1296h0M423 1302h0M423 1315h0M423 1329h0M423 1376h0M424 1301h0M424 1303h0M424 1317h0M425 1294h0M425 1300h0M425 1321h0M425 1323h0M425 1333h0M425 1350h0M426 1295h0M426 1304h0M426 1318h0M427 1293h0M427 1309h0M427 1343h0M427 1363h0M428 1293h0M428 1296h0M428 1312h0M429 1291h0M429 1294h0M429 1319h0M429 1328h0M429 1334h0M429 1350h0M429 1373h0M430 1293h0M430 1295h0M430 1299h0M430 1310h0M430 1326h0M430 1330h0M430 1363h0M430 1372h0M430 1435h0M431 1319h0M432 1308h0M433 1300h0M433 1309h0M434 1288h0M434 1307h0M434 1327h0M435 1285h0M435 1299h0M435 1304h0M435 1310h0M435 1317h0M436 1287h0M436 1301h0M436 1302h0M436 1316h0M436 1422h0M437 1291h0M437 1309h0M437 1357h0M437 1388h0M438 1286h0M438 1291h0M438 1314h0M438 1403h0M439 1285h0M439 1294h0M439 1316h0M439 1326h0M440 1306h0M442 1309h0M443 1286h0M443 1292h0M443 1306h0M444 1281h0M444 1393h0M445 1281h0M445 1310h0M446 1288h0M446 1333h0M447 1294h0M447 1302h0M447 1392h0M448 1362h0M449 1275h0M449 1276h0M449 1325h0M450 1361h0M450 1418h0M451 1305h0M451 1318h0M452 1284h0M452 1332h0M452 1350h0M453 1277h0M453 1342h0M454 1280h0M454 1326h0M454 1346h0M454 1357h0M455 1309h0M455 1312h0M455 1383h0M455 1395h0M456 1312h0M457 1273h0M457 1341h0M458 1270h0M458 1332h0M458 1388h0M458 1399h0M459 1289h0M460 1280h0M460 1313h0M461 1276h0M461 1310h0M461 1375h0M461 1392h0M462 1305h0M462 1348h0M463 1290h0M463 1303h0M463 1336h0M464 1283h0M464 1377h0M465 1282h0M467 1286h0M467 1287h0M469 1260h0M469 1267h0M469 1275h0M469 1292h0M470 1328h0M471 1278h0M472 1294h0M474 1271h0M474 1330h0M474 1343h0M474 1344h0M474 1345h0M475 1264h0M475 1271h0M475 1277h0M476 1263h0M476 1417h0M477 1483h0M477 1500h0M479 1282h0M481 1363h0M482 1326h0M483 1424h0M484 1348h0M484 1442h0M484 1486h0M485 1276h0M485 1330h0M485 1376h0M485 1487h0M486 1266h0M487 1258h0M487 1367h0M487 1370h0M488 1275h0M488 1338h0M488 1378h0M489 1463h0M490 1307h0M491 1281h0M491 1295h0M492 1424h0M493 1271h0M494 1401h0M494 1422h0M495 1262h0M495 1300h0M497 1236h0M497 1364h0M500 1295h0M500 1438h0M501 1369h0M502 1232h0M503 1360h0M504 1237h0M505 1283h0M505 1323h0M510 1235h0M511 1395h0M512 1409h0M514 1289h0M516 1242h0M518 1225h0M518 1258h0M518 1288h0M519 1243h0M519 1277h0M519 1337h0M519 1363h0M519 1413h0M520 1231h0M521 1372h0M522 1248h0M522 1300h0M523 1347h0M523 1383h0M523 1462h0M525 1316h0M526 1238h0M526 1334h0M526 1433h0M528 1224h0M528 1384h0M530 1357h0M530 1405h0M531 1242h0M532 1207h0M532 1258h0M532 1285h0M533 1482h0M534 1207h0M536 1243h0M536 1367h0M537 1212h0M539 1268h0M539 1297h0M539 1388h0M543 1256h0M543 1449h0M546 1373h0M547 1210h0M547 1301h0M547 1372h0M548 1455h0M549 1195h0M549 1271h0M550 1252h0M551 1335h0M551 1434h0M552 1343h0M552 1465h0M555 1198h0M555 1202h0M555 1332h0M555 1476h0M556 1374h0M556 1397h0M558 1383h0M558 1424h0M560 1198h0M560 1222h0M561 1297h0M561 1345h0M562 1200h0M566 1204h0M566 1247h0M567 1224h0M568 1236h0M568 1244h0M569 1185h0M570 1208h0M570 1304h0M571 1261h0M571 1262h0M572 1185h0M572 1386h0M573 1217h0M573 1293h0M574 1202h0M574 1284h0M575 1237h0M576 1360h0M578 1215h0M582 1514h0M583 1208h0M585 1199h0M586 1223h0M589 1164h0M589 1345h0M590 1332h0M591 1404h0M592 1342h0M595 1212h0M596 1191h0M596 1480h0M597 1221h0M597 1420h0M598 1196h0M599 1374h0M601 1255h0M602 1211h0M606 1216h0M607 1151h0M608 1278h0M609 1227h0M611 1153h0M611 1180h0M611 1196h0M612 1396h0M613 1176h0M614 1248h0M614 1256h0M614 1415h0M620 1262h0M621 1137h0M622 1138h0M623 1318h0M623 1337h0M624 1176h0M624 1208h0M625 1374h0M628 1230h0M628 1235h0M628 1275h0M628 1294h0M630 1182h0M631 1410h0M631 1413h0M635 1145h0M635 1379h0M637 1138h0M638 1185h0M639 1350h0M640 1231h0M640 1239h0M640 1470h0M642 1134h0M642 1434h0M643 1296h0M645 1177h0M648 1255h0M650 1197h0M652 1231h0M654 1114h0M655 1378h0M656 1252h0M656 1397h0M657 1369h0" stroke="#f3b28c" stroke-width="3.8" stroke-linecap="square" fill="none"/>
<line x1="65.6" y1="550.7" x2="65.6" y2="766.4" stroke="#050505" stroke-width="1.7"/>
<line x1="64.9" y1="765.7" x2="333" y2="765.7" stroke="#050505" stroke-width="1.7"/>
<line x1="61.6" y1="758.5" x2="65.6" y2="758.5" stroke="#050505" stroke-width="1.7"/>
<text x="59.3" y="762.6" font-size="12.5" text-anchor="end" style="stroke-width:0.42px">0</text>
<line x1="63.1" y1="739.6" x2="65.6" y2="739.6" stroke="#050505" stroke-width="1.7"/>
<line x1="61.6" y1="720.7" x2="65.6" y2="720.7" stroke="#050505" stroke-width="1.7"/>
<text x="59.3" y="724.8" font-size="12.5" text-anchor="end" textLength="20.2" lengthAdjust="spacingAndGlyphs" style="stroke-width:0.42px">100</text>
<line x1="63.1" y1="701.8" x2="65.6" y2="701.8" stroke="#050505" stroke-width="1.7"/>
<line x1="61.6" y1="682.9" x2="65.6" y2="682.9" stroke="#050505" stroke-width="1.7"/>
<text x="59.3" y="687" font-size="12.5" text-anchor="end" textLength="20.2" lengthAdjust="spacingAndGlyphs" style="stroke-width:0.42px">200</text>
<line x1="63.1" y1="664" x2="65.6" y2="664" stroke="#050505" stroke-width="1.7"/>
<line x1="61.6" y1="645.1" x2="65.6" y2="645.1" stroke="#050505" stroke-width="1.7"/>
<text x="59.3" y="649.2" font-size="12.5" text-anchor="end" textLength="20.2" lengthAdjust="spacingAndGlyphs" style="stroke-width:0.42px">300</text>
<line x1="63.1" y1="626.2" x2="65.6" y2="626.2" stroke="#050505" stroke-width="1.7"/>
<line x1="61.6" y1="607.3" x2="65.6" y2="607.3" stroke="#050505" stroke-width="1.7"/>
<text x="59.3" y="611.4" font-size="12.5" text-anchor="end" textLength="20.2" lengthAdjust="spacingAndGlyphs" style="stroke-width:0.42px">400</text>
<line x1="63.1" y1="588.4" x2="65.6" y2="588.4" stroke="#050505" stroke-width="1.7"/>
<line x1="61.6" y1="569.5" x2="65.6" y2="569.5" stroke="#050505" stroke-width="1.7"/>
<text x="59.3" y="573.6" font-size="12.5" text-anchor="end" textLength="20.2" lengthAdjust="spacingAndGlyphs" style="stroke-width:0.42px">500</text>
<line x1="63.1" y1="550.6" x2="65.6" y2="550.6" stroke="#050505" stroke-width="1.7"/>
<line x1="74.6" y1="765.7" x2="74.6" y2="769.7" stroke="#050505" stroke-width="1.7"/>
<text x="74.6" y="780.4" font-size="12.5" text-anchor="middle" style="stroke-width:0.42px">0</text>
<line x1="97.9" y1="765.7" x2="97.9" y2="768" stroke="#050505" stroke-width="1.7"/>
<line x1="121.2" y1="765.7" x2="121.2" y2="769.7" stroke="#050505" stroke-width="1.7"/>
<text x="121.2" y="780.4" font-size="12.5" text-anchor="middle" textLength="20.2" lengthAdjust="spacingAndGlyphs" style="stroke-width:0.42px">100</text>
<line x1="144.5" y1="765.7" x2="144.5" y2="768" stroke="#050505" stroke-width="1.7"/>
<line x1="167.8" y1="765.7" x2="167.8" y2="769.7" stroke="#050505" stroke-width="1.7"/>
<text x="167.8" y="780.4" font-size="12.5" text-anchor="middle" textLength="20.2" lengthAdjust="spacingAndGlyphs" style="stroke-width:0.42px">200</text>
<line x1="191.1" y1="765.7" x2="191.1" y2="768" stroke="#050505" stroke-width="1.7"/>
<line x1="214.4" y1="765.7" x2="214.4" y2="769.7" stroke="#050505" stroke-width="1.7"/>
<text x="214.4" y="780.4" font-size="12.5" text-anchor="middle" textLength="20.2" lengthAdjust="spacingAndGlyphs" style="stroke-width:0.42px">300</text>
<line x1="237.7" y1="765.7" x2="237.7" y2="768" stroke="#050505" stroke-width="1.7"/>
<line x1="261" y1="765.7" x2="261" y2="769.7" stroke="#050505" stroke-width="1.7"/>
<text x="261" y="780.4" font-size="12.5" text-anchor="middle" textLength="20.2" lengthAdjust="spacingAndGlyphs" style="stroke-width:0.42px">400</text>
<line x1="284.3" y1="765.7" x2="284.3" y2="768" stroke="#050505" stroke-width="1.7"/>
<line x1="307.6" y1="765.7" x2="307.6" y2="769.7" stroke="#050505" stroke-width="1.7"/>
<text x="307.6" y="780.4" font-size="12.5" text-anchor="middle" textLength="20.2" lengthAdjust="spacingAndGlyphs" style="stroke-width:0.42px">500</text>
<text x="199" y="795.5" font-size="14.5" text-anchor="middle" textLength="138" lengthAdjust="spacingAndGlyphs">3'UTR length(nt) of F1</text>
<text x="35" y="655.5" font-size="14" text-anchor="middle" textLength="141" lengthAdjust="spacingAndGlyphs" transform="rotate(-90 35 655.5)">3'UTR length(nt) of P</text>
<line x1="419.9" y1="275.4" x2="419.9" y2="432.1" stroke="#050505" stroke-width="1.8"/>
<line x1="419.3" y1="431.5" x2="461.6" y2="431.5" stroke="#050505" stroke-width="1.8"/>
<line x1="416.4" y1="431.5" x2="419.9" y2="431.5" stroke="#050505" stroke-width="1.8"/>
<text x="414.9" y="433.9" font-size="9" text-anchor="end" style="stroke-width:0.3px">0</text>
<line x1="417.9" y1="413" x2="419.9" y2="413" stroke="#050505" stroke-width="1.8"/>
<line x1="416.4" y1="394.5" x2="419.9" y2="394.5" stroke="#050505" stroke-width="1.8"/>
<text x="414.9" y="396.9" font-size="9" text-anchor="end" style="stroke-width:0.3px">500</text>
<line x1="417.9" y1="376" x2="419.9" y2="376" stroke="#050505" stroke-width="1.8"/>
<line x1="416.4" y1="357.5" x2="419.9" y2="357.5" stroke="#050505" stroke-width="1.8"/>
<text x="414.9" y="359.9" font-size="9" text-anchor="end" style="stroke-width:0.3px">1000</text>
<line x1="417.9" y1="339" x2="419.9" y2="339" stroke="#050505" stroke-width="1.8"/>
<line x1="416.4" y1="320.5" x2="419.9" y2="320.5" stroke="#050505" stroke-width="1.8"/>
<text x="414.9" y="322.9" font-size="9" text-anchor="end" style="stroke-width:0.3px">1500</text>
<line x1="417.9" y1="302" x2="419.9" y2="302" stroke="#050505" stroke-width="1.8"/>
<line x1="416.4" y1="283.5" x2="419.9" y2="283.5" stroke="#050505" stroke-width="1.8"/>
<text x="414.9" y="285.9" font-size="9" text-anchor="end" style="stroke-width:0.3px">2000</text>
<rect x="423.6" y="324.87" width="12.9" height="106.63" fill="#91e7e9" stroke="#222" stroke-width="1.4"/>
<text x="430.05" y="321.87" font-size="9" text-anchor="middle" style="stroke-width:0.3px">1441</text>
<line x1="430.05" y1="431.5" x2="430.05" y2="434.5" stroke="#050505" stroke-width="1.8"/>
<rect x="444.6" y="290.16" width="12.5" height="141.34" fill="#f9b27f" stroke="#222" stroke-width="1.4"/>
<text x="450.85" y="287.16" font-size="9" text-anchor="middle" style="stroke-width:0.3px">1910</text>
<line x1="450.85" y1="431.5" x2="450.85" y2="434.5" stroke="#050505" stroke-width="1.8"/>
<text x="392.4" y="353" font-size="14" text-anchor="middle" textLength="94.5" lengthAdjust="spacingAndGlyphs" transform="rotate(-90 392.4 353)">number of genes</text>
<text x="439.75" y="441" font-size="13.2" text-anchor="end" transform="rotate(-45 439.75 441)">lengthening</text>
<text x="460.55" y="441" font-size="13.2" text-anchor="end" transform="rotate(-45 460.55 441)">shortening</text>
<line x1="421.4" y1="557.1" x2="421.4" y2="715.2" stroke="#050505" stroke-width="1.8"/>
<line x1="420.8" y1="714.6" x2="464.2" y2="714.6" stroke="#050505" stroke-width="1.8"/>
<line x1="417.9" y1="714.6" x2="421.4" y2="714.6" stroke="#050505" stroke-width="1.8"/>
<text x="416.4" y="717" font-size="9" text-anchor="end" style="stroke-width:0.3px">0</text>
<line x1="419.4" y1="701.48" x2="421.4" y2="701.48" stroke="#050505" stroke-width="1.8"/>
<line x1="417.9" y1="688.35" x2="421.4" y2="688.35" stroke="#050505" stroke-width="1.8"/>
<text x="416.4" y="690.75" font-size="9" text-anchor="end" style="stroke-width:0.3px">500</text>
<line x1="419.4" y1="675.23" x2="421.4" y2="675.23" stroke="#050505" stroke-width="1.8"/>
<line x1="417.9" y1="662.1" x2="421.4" y2="662.1" stroke="#050505" stroke-width="1.8"/>
<text x="416.4" y="664.5" font-size="9" text-anchor="end" style="stroke-width:0.3px">1000</text>
<line x1="419.4" y1="648.98" x2="421.4" y2="648.98" stroke="#050505" stroke-width="1.8"/>
<line x1="417.9" y1="635.85" x2="421.4" y2="635.85" stroke="#050505" stroke-width="1.8"/>
<text x="416.4" y="638.25" font-size="9" text-anchor="end" style="stroke-width:0.3px">1500</text>
<line x1="419.4" y1="622.73" x2="421.4" y2="622.73" stroke="#050505" stroke-width="1.8"/>
<line x1="417.9" y1="609.6" x2="421.4" y2="609.6" stroke="#050505" stroke-width="1.8"/>
<text x="416.4" y="612" font-size="9" text-anchor="end" style="stroke-width:0.3px">2000</text>
<line x1="419.4" y1="596.48" x2="421.4" y2="596.48" stroke="#050505" stroke-width="1.8"/>
<line x1="417.9" y1="583.35" x2="421.4" y2="583.35" stroke="#050505" stroke-width="1.8"/>
<text x="416.4" y="585.75" font-size="9" text-anchor="end" style="stroke-width:0.3px">2500</text>
<line x1="419.4" y1="570.23" x2="421.4" y2="570.23" stroke="#050505" stroke-width="1.8"/>
<line x1="417.9" y1="557.1" x2="421.4" y2="557.1" stroke="#050505" stroke-width="1.8"/>
<text x="416.4" y="559.5" font-size="9" text-anchor="end" style="stroke-width:0.3px">3000</text>
<rect x="425.2" y="659.95" width="13.6" height="54.65" fill="#91e7e9" stroke="#222" stroke-width="1.4"/>
<text x="432" y="656.95" font-size="9" text-anchor="middle" style="stroke-width:0.3px">1041</text>
<line x1="432" y1="714.6" x2="432" y2="717.6" stroke="#050505" stroke-width="1.8"/>
<rect x="446.8" y="577.21" width="12.5" height="137.39" fill="#f9b27f" stroke="#222" stroke-width="1.4"/>
<text x="453.05" y="574.21" font-size="9" text-anchor="middle" style="stroke-width:0.3px">2617</text>
<line x1="453.05" y1="714.6" x2="453.05" y2="717.6" stroke="#050505" stroke-width="1.8"/>
<text x="393.9" y="636" font-size="14" text-anchor="middle" textLength="94.5" lengthAdjust="spacingAndGlyphs" transform="rotate(-90 393.9 636)">number of genes</text>
<text x="441.7" y="724.1" font-size="13.2" text-anchor="end" transform="rotate(-45 441.7 724.1)">lengthening</text>
<text x="462.75" y="724.1" font-size="13.2" text-anchor="end" transform="rotate(-45 462.75 724.1)">shortening</text>
<line x1="549.7" y1="260.5" x2="549.7" y2="456.7" stroke="#050505" stroke-width="1.8"/>
<line x1="549.1" y1="456.1" x2="681" y2="456.1" stroke="#050505" stroke-width="1.8"/>
<line x1="545.7" y1="260.5" x2="549.7" y2="260.5" stroke="#050505" stroke-width="1.8"/>
<text x="543.7" y="264.7" font-size="12.4" text-anchor="end" textLength="18.9" lengthAdjust="spacingAndGlyphs" style="stroke-width:0.42px">1.5</text>
<line x1="545.7" y1="293.1" x2="549.7" y2="293.1" stroke="#050505" stroke-width="1.8"/>
<text x="543.7" y="297.3" font-size="12.4" text-anchor="end" textLength="18.9" lengthAdjust="spacingAndGlyphs" style="stroke-width:0.42px">1.0</text>
<line x1="545.7" y1="325.7" x2="549.7" y2="325.7" stroke="#050505" stroke-width="1.8"/>
<text x="543.7" y="329.9" font-size="12.4" text-anchor="end" textLength="18.9" lengthAdjust="spacingAndGlyphs" style="stroke-width:0.42px">0.5</text>
<line x1="545.7" y1="358.3" x2="549.7" y2="358.3" stroke="#050505" stroke-width="1.8"/>
<text x="543.7" y="362.5" font-size="12.4" text-anchor="end" textLength="18.9" lengthAdjust="spacingAndGlyphs" style="stroke-width:0.42px">0.0</text>
<line x1="545.7" y1="390.9" x2="549.7" y2="390.9" stroke="#050505" stroke-width="1.8"/>
<text x="543.7" y="395.1" font-size="12.4" text-anchor="end" textLength="21.2" lengthAdjust="spacingAndGlyphs" style="stroke-width:0.42px">-0.5</text>
<line x1="545.7" y1="423.5" x2="549.7" y2="423.5" stroke="#050505" stroke-width="1.8"/>
<text x="543.7" y="427.7" font-size="12.4" text-anchor="end" textLength="21.2" lengthAdjust="spacingAndGlyphs" style="stroke-width:0.42px">-1.0</text>
<line x1="545.7" y1="456.1" x2="549.7" y2="456.1" stroke="#050505" stroke-width="1.8"/>
<text x="543.7" y="460.3" font-size="12.4" text-anchor="end" textLength="21.2" lengthAdjust="spacingAndGlyphs" style="stroke-width:0.42px">-1.5</text>
<line x1="571.6" y1="286.58" x2="571.6" y2="319.18" stroke="#555" stroke-width="1"/>
<line x1="571.6" y1="416.98" x2="571.6" y2="445.02" stroke="#555" stroke-width="1"/>
<rect x="557.8" y="319.18" width="27.6" height="97.8" fill="#91e7e9" stroke="#333" stroke-width="1"/>
<line x1="557.8" y1="371.34" x2="585.4" y2="371.34" stroke="#222" stroke-width="1.2"/>
<line x1="571.6" y1="456.1" x2="571.6" y2="459.6" stroke="#050505" stroke-width="1.8"/>
<text x="580.6" y="468.6" font-size="12.4" text-anchor="end" transform="rotate(-45 580.6 468.6)" style="stroke-width:0.42px">all</text>
<line x1="615.6" y1="280.06" x2="615.6" y2="312.66" stroke="#555" stroke-width="1"/>
<line x1="615.6" y1="410.46" x2="615.6" y2="438.5" stroke="#555" stroke-width="1"/>
<rect x="601.8" y="312.66" width="27.6" height="97.8" fill="#d3aaaf" stroke="#333" stroke-width="1"/>
<line x1="601.8" y1="372.64" x2="629.4" y2="372.64" stroke="#222" stroke-width="1.2"/>
<line x1="615.6" y1="456.1" x2="615.6" y2="459.6" stroke="#050505" stroke-width="1.8"/>
<text x="624.6" y="468.6" font-size="12.4" text-anchor="end" transform="rotate(-45 624.6 468.6)" style="stroke-width:0.42px">lengthening</text>
<line x1="659.3" y1="273.54" x2="659.3" y2="306.14" stroke="#555" stroke-width="1"/>
<line x1="659.3" y1="403.94" x2="659.3" y2="431.32" stroke="#555" stroke-width="1"/>
<rect x="645.5" y="306.14" width="27.6" height="97.8" fill="#f4b48e" stroke="#333" stroke-width="1"/>
<line x1="645.5" y1="358.3" x2="673.1" y2="358.3" stroke="#222" stroke-width="1.2"/>
<line x1="659.3" y1="456.1" x2="659.3" y2="459.6" stroke="#050505" stroke-width="1.8"/>
<text x="668.3" y="468.6" font-size="12.4" text-anchor="end" transform="rotate(-45 668.3 468.6)" style="stroke-width:0.42px">shortening</text>
<text x="616" y="275.56" font-size="10" text-anchor="middle" style="stroke-width:0.3px">ns</text>
<line x1="657.5" y1="265.64" x2="657.5" y2="269.64" stroke="#222" stroke-width="1"/>
<line x1="655.77" y1="266.64" x2="659.23" y2="268.64" stroke="#222" stroke-width="1"/>
<line x1="655.77" y1="268.64" x2="659.23" y2="266.64" stroke="#222" stroke-width="1"/>
<line x1="661.7" y1="265.64" x2="661.7" y2="269.64" stroke="#222" stroke-width="1"/>
<line x1="659.97" y1="266.64" x2="663.43" y2="268.64" stroke="#222" stroke-width="1"/>
<line x1="659.97" y1="268.64" x2="663.43" y2="266.64" stroke="#222" stroke-width="1"/>
<text x="518.3" y="358.9" font-size="11.5" text-anchor="middle" textLength="79" lengthAdjust="spacingAndGlyphs" transform="rotate(-90 518.3 358.9)" style="stroke-width:0.42px">log2FC(M/F1)</text>
<line x1="549.6" y1="541.1" x2="549.6" y2="737.3" stroke="#050505" stroke-width="1.8"/>
<line x1="549" y1="736.7" x2="681" y2="736.7" stroke="#050505" stroke-width="1.8"/>
<line x1="545.6" y1="541.1" x2="549.6" y2="541.1" stroke="#050505" stroke-width="1.8"/>
<text x="545" y="544.5" font-size="10.3" text-anchor="end" textLength="16.8" lengthAdjust="spacingAndGlyphs" style="stroke-width:0.3px">1.5</text>
<line x1="545.6" y1="573.7" x2="549.6" y2="573.7" stroke="#050505" stroke-width="1.8"/>
<text x="545" y="577.1" font-size="10.3" text-anchor="end" textLength="16.8" lengthAdjust="spacingAndGlyphs" style="stroke-width:0.3px">1.0</text>
<line x1="545.6" y1="606.3" x2="549.6" y2="606.3" stroke="#050505" stroke-width="1.8"/>
<text x="545" y="609.7" font-size="10.3" text-anchor="end" textLength="16.8" lengthAdjust="spacingAndGlyphs" style="stroke-width:0.3px">0.5</text>
<line x1="545.6" y1="638.9" x2="549.6" y2="638.9" stroke="#050505" stroke-width="1.8"/>
<text x="545" y="642.3" font-size="10.3" text-anchor="end" textLength="16.8" lengthAdjust="spacingAndGlyphs" style="stroke-width:0.3px">0.0</text>
<line x1="545.6" y1="671.5" x2="549.6" y2="671.5" stroke="#050505" stroke-width="1.8"/>
<text x="545" y="674.9" font-size="10.3" text-anchor="end" textLength="20.6" lengthAdjust="spacingAndGlyphs" style="stroke-width:0.3px">-0.5</text>
<line x1="545.6" y1="704.1" x2="549.6" y2="704.1" stroke="#050505" stroke-width="1.8"/>
<text x="545" y="707.5" font-size="10.3" text-anchor="end" textLength="20.6" lengthAdjust="spacingAndGlyphs" style="stroke-width:0.3px">-1.0</text>
<line x1="545.6" y1="736.7" x2="549.6" y2="736.7" stroke="#050505" stroke-width="1.8"/>
<text x="545" y="740.1" font-size="10.3" text-anchor="end" textLength="20.6" lengthAdjust="spacingAndGlyphs" style="stroke-width:0.3px">-1.5</text>
<line x1="571.6" y1="567.18" x2="571.6" y2="599.78" stroke="#555" stroke-width="1"/>
<line x1="571.6" y1="697.58" x2="571.6" y2="725.62" stroke="#555" stroke-width="1"/>
<rect x="557.8" y="599.78" width="27.6" height="97.8" fill="#91e7e9" stroke="#333" stroke-width="1"/>
<line x1="557.8" y1="651.94" x2="585.4" y2="651.94" stroke="#222" stroke-width="1.2"/>
<line x1="571.6" y1="736.7" x2="571.6" y2="740.2" stroke="#050505" stroke-width="1.8"/>
<text x="580.6" y="750.7" font-size="12.4" text-anchor="end" transform="rotate(-45 580.6 750.7)" style="stroke-width:0.42px">all</text>
<line x1="615.6" y1="560.66" x2="615.6" y2="593.26" stroke="#555" stroke-width="1"/>
<line x1="615.6" y1="691.06" x2="615.6" y2="719.1" stroke="#555" stroke-width="1"/>
<rect x="601.8" y="593.26" width="27.6" height="97.8" fill="#d3aaaf" stroke="#333" stroke-width="1"/>
<line x1="601.8" y1="645.42" x2="629.4" y2="645.42" stroke="#222" stroke-width="1.2"/>
<line x1="615.6" y1="736.7" x2="615.6" y2="740.2" stroke="#050505" stroke-width="1.8"/>
<text x="624.6" y="750.7" font-size="12.4" text-anchor="end" transform="rotate(-45 624.6 750.7)" style="stroke-width:0.42px">lengthening</text>
<line x1="659.3" y1="554.14" x2="659.3" y2="586.74" stroke="#555" stroke-width="1"/>
<line x1="659.3" y1="678.02" x2="659.3" y2="706.06" stroke="#555" stroke-width="1"/>
<rect x="645.5" y="586.74" width="27.6" height="91.28" fill="#f4b48e" stroke="#333" stroke-width="1"/>
<line x1="645.5" y1="638.9" x2="673.1" y2="638.9" stroke="#222" stroke-width="1.2"/>
<line x1="659.3" y1="736.7" x2="659.3" y2="740.2" stroke="#050505" stroke-width="1.8"/>
<text x="668.3" y="750.7" font-size="12.4" text-anchor="end" transform="rotate(-45 668.3 750.7)" style="stroke-width:0.42px">shortening</text>
<text x="616" y="556.16" font-size="10" text-anchor="middle" style="stroke-width:0.3px">ns</text>
<line x1="657.5" y1="546.24" x2="657.5" y2="550.24" stroke="#222" stroke-width="1"/>
<line x1="655.77" y1="547.24" x2="659.23" y2="549.24" stroke="#222" stroke-width="1"/>
<line x1="655.77" y1="549.24" x2="659.23" y2="547.24" stroke="#222" stroke-width="1"/>
<line x1="661.7" y1="546.24" x2="661.7" y2="550.24" stroke="#222" stroke-width="1"/>
<line x1="659.97" y1="547.24" x2="663.43" y2="549.24" stroke="#222" stroke-width="1"/>
<line x1="659.97" y1="549.24" x2="663.43" y2="547.24" stroke="#222" stroke-width="1"/>
<text x="520.3" y="650.8" font-size="11" text-anchor="middle" textLength="73.5" lengthAdjust="spacingAndGlyphs" transform="rotate(-90 520.3 650.8)" style="stroke-width:0.42px">log2FC(P/F1)</text>
</g>
</svg></body></html>
